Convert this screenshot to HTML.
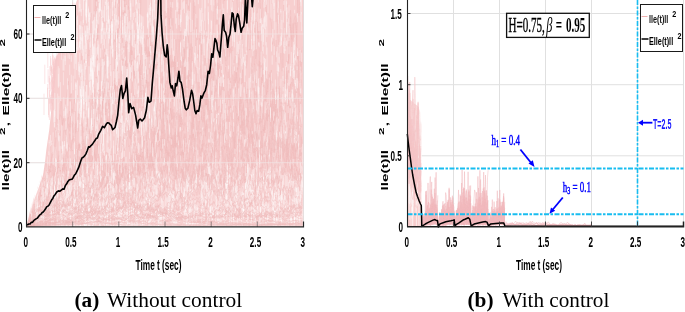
<!DOCTYPE html><html><head><meta charset="utf-8"><style>html,body{margin:0;padding:0;background:#fff;width:685px;height:312px;overflow:hidden}svg{display:block;will-change:transform}text{font-family:"Liberation Sans",sans-serif}.s{font-family:"Liberation Serif",serif}</style></head><body>
<svg width="685" height="312" viewBox="0 0 685 312">
<defs><clipPath id="clipR"><rect x="407.5" y="0" width="276" height="226.6"/></clipPath><clipPath id="clipL"><rect x="26.5" y="0" width="277" height="226.6"/></clipPath></defs>
<defs><linearGradient id="gL" x1="0" y1="0" x2="0" y2="227" gradientUnits="userSpaceOnUse"><stop offset="0" stop-color="#F7CFCF"/><stop offset="0.72" stop-color="#F7CFCF"/><stop offset="0.88" stop-color="#F9D7D7"/><stop offset="1" stop-color="#FBE0E0"/></linearGradient></defs>
<path d="M26.5,162.7H303.5M26.5,98.3H303.5M26.5,34.0H303.5M72.7,0V227M118.8,0V227M165.0,0V227M211.2,0V227M257.3,0V227M303.5,0V227" stroke="#DEDEDE" stroke-width="1" fill="none"/>
<g clip-path="url(#clipL)">
<defs><clipPath id="clipE"><polygon points="25.8,227.0 28.6,215.0 32.8,200.0 37.3,188.0 41.8,175.0 43.7,162.7 45.1,150.0 48.0,130.0 51.4,98.0 53.8,60.0 58.8,50.0 68.8,20.0 75.8,0.0 302.3,0.0 302.3,227.0 25.3,227.0"/></clipPath></defs>
<polygon points="27.0,227.0 29.8,215.0 34.0,200.0 38.5,188.0 43.0,175.0 44.9,162.7 46.3,150.0 49.2,130.0 52.6,98.0 55.0,60.0 60.0,50.0 70.0,20.0 77.0,0.0 303.5,0.0 303.5,226.0 27.0,226.0" fill="url(#gL)"/>
<path d="M65.2 32.4v16.4M70.2 7.2v11.9M71.0 5.8v6.6M62.0 43.4v7.5M57.0 42.5v8.0M64.8 22.3v21.2M55.1 57.7v21.6M64.2 4.7v10.6M71.3 14.4v10.9M53.2 81.6v15.3M53.8 63.9v14.8M74.5 6.3v9.3M53.4 68.0v11.0M54.5 58.6v10.8M51.4 79.4v9.9M54.7 57.4v20.0M53.5 72.9v21.7M70.0 11.8v18.1M68.3 15.2v6.6M51.7 66.8v15.2M52.5 87.5v17.1M53.5 59.4v13.3M47.7 84.0v13.6M54.5 66.4v17.2M44.8 64.7v19.2M65.2 28.5v16.7M72.6 2.3v8.7M72.6 11.7v18.3M71.0 12.9v12.3M53.1 87.1v13.2M52.5 54.9v19.1M52.7 86.4v12.6M56.9 35.9v21.3M70.7 15.1v9.7M65.9 23.3v15.4M67.9 26.3v12.7M61.4 36.9v21.2M53.0 69.0v15.9M54.4 67.6v20.4M49.7 78.0v18.8M61.9 39.2v7.7M54.7 63.4v7.1M68.9 20.9v11.4M75.2 5.3v8.4M71.0 10.1v6.4M51.4 87.4v8.4M66.4 25.2v11.8M62.9 12.3v21.9M59.2 46.6v7.4M71.2 10.2v10.2M53.2 82.9v6.4M51.3 95.1v8.3M57.8 54.3v14.4M48.6 97.9v17.1M66.0 26.1v8.7M52.4 77.2v18.5M64.7 33.0v19.0M48.7 98.5v18.9M50.9 81.8v9.6M58.0 51.8v6.5M74.1 2.8v10.1M48.1 69.3v13.2M44.0 93.7v21.3M63.6 36.5v9.6M69.0 19.7v16.0M49.4 90.0v13.7M51.5 65.3v7.4M49.8 66.1v18.5M52.8 75.0v8.9M53.0 78.9v18.8M51.6 97.2v12.4M50.2 94.7v8.7M71.7 12.7v20.5M53.4 80.7v19.2M50.5 98.0v11.6M57.2 54.9v6.2M50.6 97.1v14.4M51.8 93.4v19.9M53.1 82.6v10.0M65.8 29.3v15.4M65.7 25.9v8.1M52.2 91.0v13.3M50.9 58.3v12.7M51.6 91.8v14.5M58.8 52.4v13.0M70.6 18.3v18.8M67.9 17.2v17.6M56.3 55.6v14.3M53.7 55.5v7.7M56.3 56.0v10.4M52.5 77.2v15.0M49.1 76.0v13.1M53.5 61.3v14.2M53.2 69.3v14.5M52.7 47.8v17.2M47.6 87.7v10.2M50.5 56.0v19.4M71.5 13.7v13.1M72.9 7.3v7.2M51.5 66.9v20.4M65.3 15.4v16.6M61.2 14.3v21.5M55.5 22.0v12.4M47.8 48.7v19.3M68.6 16.1v14.2M64.5 33.9v11.1M54.2 72.2v14.9M61.9 44.0v11.3M53.4 62.4v7.0M49.4 98.5v21.5" stroke="#F6C8CA" stroke-width="0.7" opacity="0.7" fill="none"/>
<g clip-path="url(#clipE)"><path transform="scale(0.1)" d="M265 2270l12-9 12-11 12-9 12-11 12-15 12-8 12-23 12 10 12-6 12-7 12-12 12-22 12 13 12-18 12-6 12-15 12-65 12 25 12 24 12-19 12-17 12 2 12-14 12 18 12-11 12 2 12-9 12 0 12-2 12-30 12 19 12-11 12-9 12 25 12-24 12-45 12-28 12-12 12-70 12 65 12-91 12-64 12-18 12-1 12-39 12 37 12-72 12 1 12-39 12-145 12 147 12-54 12-107 12 125 12-36 12 71 12-145 12 113 12-170 12 82 12-96 12-104 12-69 12-128 12 148 12-38 12-54 12 4 12 65 12-75 12-15 12 76 12-406 12 189 12 54 12-213 12 231 12 39 12 195 12-20 12-584 12 58 12 220 12 81 12 280 12-295 12 320 12-242 12 185 12 76 12-112 12-120 12 156 12 65 12 168 12-232 12-61 12 111 12-33 12 148 12-3 12 12 12-135 12-118 12 251 12-127 12-175 12-129 12 181 12 144 12-68 12-90 12 220 12 113 12-3 12-68 12-7 12 44 12-228 12 62 12-9 12 45 12 96 12-185 12 42 12-44 12 55 12 39 12 64 12-41 12 195 12 43 12-83 12 52 12 28 12-35 12 88 12 49 12-116 12-38 12 62 12 53 12 40 12-127 12 67 12 67 12 18 12 81 12-3 12-149 12 154 12-9 12-120 12 16 12 63 12-25 12-13 12 10 12 53 12-96 12 49 12-78 12 43 12 37 12 10 12-24 12-49 12-16 12 79 12-92 12 95 12-100 12 74 12 29 12-22 12-42 12 94 12-49 12-14 12 40 12-99 12 102 12-71 12-37 12 132 12-46 12-49 12 24 12 1 12-6 12 47 12-118 12-29 12-4 12 12 12-3 12-42 12-38 12-17 12-26 12 76 12 52 12 49 12 75 12-146 12-178 12 37 12-93 12-64 12 86 12 104 12-160 12 86 12 48 12 109 12-4 12-76 12-24 12 58 12-9 12-24 12-110 12 207 12-74 12 124 12-65 12-27 12-37 12 27 12 47M265 2270l12-6 12-5 12-7 12-3 12-6 12-3 12-12 12-14 12 8 12-9 12-13 12-1 12-9 12-10 12-10 12-8 12 10 12-37 12 26 12 3 12-3 12-20 12 13 12-21 12 18 12-24 12-4 12-2 12-26 12 37 12-20 12-27 12-3 12 23 12-61 12-23 12-19 12 22 12-23 12 19 12-9 12 37 12-42 12 20 12-7 12-46 12 33 12 25 12-58 12-85 12 36 12-11 12 61 12 15 12-69 12 8 12 27 12-33 12 19 12 18 12 21 12 30 12 5 12-86 12 14 12-108 12 63 12-43 12 60 12 19 12-6 12-99 12 49 12-48 12-30 12 50 12 3 12-79 12 83 12-14 12-14 12 78 12-78 12 25 12-25 12-11 12 23 12 91 12-80 12 87 12-44 12-80 12 14 12 51 12 17 12-15 12-68 12 3 12 62 12-59 12 11 12 35 12 51 12-69 12-54 12-5 12-47 12-20 12-77 12 37 12 37 12-47 12 75 12-35 12-156 12 63 12-106 12 93 12-85 12-9 12 100 12-56 12 113 12-211 12-109 12 140 12-162 12 218 12-1 12-45 12 53 12 88 12-99 12-2 12-63 12-50 12-202 12 110 12 21 12-49 12 209 12-180 12-65 12-58 12 91 12-139 12 105 12-171 12 264 12-121 12-66 12-92 12 199 12-113 12-137 12 70 12 126 12-243 12 138 12 215 12-3 12-246 12 102 12 44 12-216 12 309 12-142 12 12 12 200 12-146 12 11 12 42 12 227 12-205 12-92 12-57 12 24 12-225 12 81 12 55 12-82 12-29 12 3 12-115 12 1 12 97 12-312 12 122 12-50 12 182 12 21 12-33 12 246 12 81 12-194 12 81 12 67 12-364 12 59 12 56 12-41 12 29 12 111 12 23 12 132 12-147 12 50 12-62 12-95 12 214 12-242 12 113 12-208 12-39 12 58 12-35 12 121 12 134 12-150 12 61 12 54 12-80 12 155 12-202 12-21 12-26 12 244 12 32 12-338 12 97M265 2270l12-10 12-7 12-7 12-11 12-11 12-3 12-6 12-20 12-33 12-26 12-5 12-13 12-50 12 38 12-3 12-6 12-51 12-42 12 11 12-28 12-54 12 53 12 11 12 24 12-49 12-12 12-46 12-3 12 2 12-6 12-16 12-1 12-39 12 64 12-12 12-7 12 108 12-108 12 82 12 3 12-1 12 14 12-67 12-10 12 46 12 24 12 20 12-20 12 13 12-55 12 31 12-10 12-37 12-73 12 114 12 46 12-60 12 5 12-61 12-21 12-8 12-4 12-27 12-69 12 104 12-37 12-76 12 63 12-157 12 158 12-10 12-136 12 15 12 71 12-128 12 168 12-68 12-81 12 14 12-39 12 121 12 40 12 64 12-23 12-24 12 5 12 12 12 51 12-102 12 59 12-74 12 74 12-155 12 68 12-55 12 14 12-7 12-125 12 6 12 48 12-124 12-99 12 104 12-22 12-175 12 43 12 5 12-175 12 234 12-89 12 9 12 40 12 78 12 81 12-156 12 127 12-84 12-62 12 60 12 85 12-60 12-94 12 117 12-81 12-298 12 151 12-56 12 33 12-87 12 108 12 12 12-259 12 6 12-117 12-158 12 166 12 88 12-130 12 186 12-226 12 206 12-277 12 7 12 148 12-92 12-453 12 284 12 201 12-9 12 171 12-224 12-319 12 68 12 106 12 105 12-388 12 152 12 352 12-169 12-351 12-193 12-182M265 2270l12-5 12-6 12-3 12-8 12-5 12-1 12 0 12 1 12-7 12-5 12-1 12 6 12-12 12-12 12 6 12-3 12 4 12-11 12-1 12 3 12-6 12-14 12-7 12 6 12-30 12 9 12-14 12 10 12-3 12-1 12-14 12 12 12-4 12 8 12-9 12-31 12 14 12-12 12 31 12-17 12 9 12 2 12-27 12-43 12-3 12-17 12 11 12-5 12 21 12-6 12 20 12-37 12 44 12-30 12 18 12-13 12-20 12-3 12 1 12-4 12 12 12 11 12-29 12 15 12-1 12-4 12-26 12 54 12-33 12 39 12 6 12-38 12 32 12-44 12 32 12-17 12 18 12-21 12-9 12 1 12 8 12 3 12-3 12 30 12 8 12-13 12 19 12-26 12-13 12 8 12-13 12 12 12-3 12 40 12-19 12 11 12 3 12-24 12 15 12 6 12-5 12-19 12 2 12-9 12 5 12 44 12-38 12 15 12-41 12 45 12-2 12 19 12-21 12 9 12-20 12 2 12 17 12 3 12 26 12-13 12 4 12-34 12 31 12 4 12-8 12 23 12-4 12 13 12 10 12-9 12 20 12 9 12 14 12-13 12-25 12 21 12 2 12-17 12 0 12-12 12-2 12-28 12 27 12 2 12-14 12-5 12 13 12-30 12 19 12 15 12-3 12-5 12-9 12 2 12-25 12 9 12 42 12-56 12-7 12 14 12-39 12 20 12-2 12 23 12 18 12-18 12 20 12-18 12-7 12-7 12-15 12 12 12-19 12-16 12 29 12 16 12 34 12-3 12-2 12-2 12 6 12 27 12-12 12 8 12-9 12 5 12 15 12-1 12 16 12-3 12 1 12 0 12 7 12 0 12-24 12-1 12 5 12 15 12-10 12-23 12 8 12 7 12 14 12-26 12-13 12 3 12 25 12-40 12 9 12-27 12 17 12-5 12 12 12-25 12 35 12-27 12 34 12-30 12-18 12-16 12-25 12 23 12-40 12 6 12-13 12 5 12 19 12 8 12-8 12-17M265 2270l12-7 12-7 12-4 12-13 12 2 12-8 12-8 12-3 12-9 12-2 12-17 12-9 12-7 12-17 12-3 12-11 12-11 12 26 12-18 12-17 12 8 12-12 12-7 12-48 12-8 12 16 12-17 12-4 12-17 12-20 12-2 12 8 12 30 12 0 12-29 12-10 12 1 12-6 12-43 12-1 12-34 12 12 12 35 12-115 12 3 12 48 12-91 12 3 12-20 12 82 12-39 12-53 12 67 12-5 12 57 12 28 12 4 12 27 12 37 12-43 12-4 12-26 12 10 12 2 12 16 12-36 12-38 12 21 12-83 12-2 12 14 12-13 12 75 12-11 12-122 12-23 12-39 12-55 12 20 12 25 12-113 12 101 12-57 12 49 12 23 12-57 12-100 12 91 12-57 12 26 12-124 12 115 12-44 12 54 12-235 12 128 12-20 12-154 12 121 12 24 12 25 12-35 12-13 12-16 12 188 12-44 12 112 12-118 12 33 12 21 12-19 12-94 12-7 12-50 12-123 12-28 12 230 12 0 12 115 12 33 12-55 12 100 12-119 12-4 12-192 12 132 12-39 12-274 12 19 12-20 12 77 12-80 12 46 12 46 12-79 12-40 12 43 12 195 12 15 12 21 12-7 12-24 12 68 12 41 12-150 12 55 12 33 12-318 12 109 12 97 12 136 12 109 12 30 12-20 12 124 12-106 12-62 12 149 12-21 12 121 12-39 12 55 12-12 12 86 12 44 12-72 12 39 12-18 12-6 12 10 12-64 12-9 12-48 12 34 12-48 12-50 12-111 12-9 12-49 12 53 12 8 12 24 12 73 12-162 12-229 12 267 12-61 12 149 12-90 12 6 12 65 12-157 12 67 12-53 12 12 12-231 12 241 12-263 12-74 12-10 12-118 12 108 12 126 12-29 12-279 12 37 12-22 12-166 12 109 12-92 12 102 12 42 12 20 12-338 12 125 12 37 12-110 12 445 12-191 12 70 12-169 12 16 12 61 12-38 12-89 12-52 12-22 12-90 12-189 12 0M265 2270l12-5 12-4 12-4 12-5 12-2 12-4 12-8 12-6 12 3 12-5 12 0 12-3 12-6 12-14 12-1 12 11 12 2 12-9 12-8 12 10 12-15 12 7 12-5 12-2 12 0 12-3 12-26 12 19 12 16 12 0 12-9 12 13 12-7 12 4 12-22 12 11 12 1 12-10 12-3 12-24 12 4 12-4 12 31 12-17 12-23 12-39 12 16 12-33 12 43 12-25 12-2 12-7 12 0 12 15 12 5 12-9 12-4 12 4 12 17 12 0 12-17 12-17 12 47 12-31 12 15 12-18 12-25 12-11 12 26 12-40 12 25 12 6 12-37 12 3 12 4 12-2 12-4 12-1 12-14 12 10 12 10 12 24 12 26 12-27 12 47 12-1 12 0 12-25 12-4 12 27 12 3 12-1 12-9 12 24 12 2 12-13 12 15 12-26 12 30 12-3 12 21 12-28 12-2 12 3 12-14 12 8 12-16 12 8 12-13 12 13 12-20 12 32 12 5 12-5 12 26 12-9 12 11 12 12 12-12 12 16 12 1 12-4 12-1 12 1 12 10 12 10 12-1 12-2 12-8 12 26 12-5 12 0 12 3 12 1 12 2 12-4 12 1 12 4 12-5 12 11 12-2 12-11 12 13 12-4 12 2 12 6 12-12 12 10 12-8 12 3 12-8 12 7 12 7 12 9 12 6 12-2 12 0 12 5 12-2 12-4 12 3 12 0 12-1 12 1 12-5 12 0 12 3 12-6 12 3 12 2 12-10 12 7 12-2 12 0 12 4 12 5 12-2 12-4 12-7 12 5 12 5 12 0 12-5 12 4 12-2 12-7 12-2 12-2 12-8 12 8 12-2 12-1 12 15 12-5 12-5 12-2 12 8 12-5 12 0 12 4 12-1 12 2 12-1 12 2 12 1 12 1 12-1 12 2 12 1 12-1 12 4 12 3 12 2 12-4 12 0 12 2 12-3 12 1 12 1 12 0 12-2 12 1 12-7 12-5 12-3 12 3 12-1 12-4 12 0 12-5M265 2270l12-2 12-1 12-2 12-3 12-1 12-2 12-1 12-3 12 0 12-4 12 1 12-6 12-2 12-3 12 3 12-4 12 0 12-4 12 5 12-7 12-6 12 3 12-1 12 2 12-4 12 2 12 7 12-8 12-9 12 4 12 0 12-8 12 2 12 7 12 0 12-2 12 4 12-8 12-4 12 4 12 2 12-4 12 2 12-4 12-5 12-15 12-1 12 10 12-6 12-2 12 0 12 3 12-4 12-4 12 6 12-5 12 8 12-2 12-2 12-5 12-9 12 3 12-11 12 3 12-6 12 0 12-1 12-10 12 20 12-17 12 12 12-10 12-23 12 4 12-11 12 22 12 10 12-14 12 2 12 0 12 22 12-33 12 34 12-20 12 23 12 1 12 1 12-3 12 6 12 3 12-15 12-21 12 31 12-6 12 0 12 11 12-4 12-6 12 8 12-26 12 1 12 15 12-24 12 30 12-4 12-9 12 9 12-1 12 17 12-7 12 2 12-5 12 13 12 5 12-5 12 1 12 17 12-4 12-2 12 0 12-3 12 2 12 4 12 0 12 0 12-1 12 13 12 2 12 5 12-5 12-3 12 4 12-2 12-5 12 4 12-6 12 7 12 1 12 0 12-8 12-1 12-6 12 3 12-2 12-1 12 4 12 2 12 0 12-13 12-5 12 7 12-7 12 5 12 2 12-4 12-4 12 1 12-4 12 3 12-5 12 12 12 2 12 3 12-17 12-19 12-4 12 16 12-26 12 11 12 0 12-17 12 19 12-9 12-6 12 17 12-7 12 11 12-8 12-3 12 15 12 4 12-15 12 4 12 5 12-2 12-2 12 28 12-6 12-4 12-9 12-15 12 21 12 11 12-11 12-14 12-4 12 10 12-10 12-5 12 4 12-17 12-11 12-18 12 0 12-11 12 14 12 6 12-12 12-4 12 8 12 15 12-11 12 21 12-23 12-49 12 9 12-17 12-2 12 8 12-31 12-10 12 52 12 38 12-19 12 14 12 8 12-10 12 5 12 19 12-4M265 2270l12-4 12-3 12-3 12-4 12-7 12-10 12-5 12-1 12-4 12-5 12-2 12-1 12-10 12 5 12-20 12-3 12-28 12 2 12 6 12-22 12-16 12-27 12 11 12-30 12-18 12 38 12-18 12 11 12 11 12 11 12-4 12-23 12-1 12-23 12-17 12-36 12-2 12-32 12 18 12-36 12-44 12-51 12 42 12-49 12 51 12-68 12 20 12 31 12 3 12 37 12-54 12-33 12 1 12-40 12 36 12-145 12 68 12-84 12-26 12-6 12-22 12-105 12 63 12-2 12 25 12 41 12 19 12 52 12 3 12-14 12-14 12 11 12 9 12-10 12 4 12-12 12 33 12-14 12 39 12-1 12-93 12 18 12 26 12 72 12-14 12 34 12 55 12-94 12 16 12-8 12-55 12 103 12-36 12 33 12 65 12-43 12-109 12 39 12-45 12-86 12 2 12-7 12-164 12-31 12 2 12 54 12 72 12-59 12-95 12-126 12 121 12 96 12-90 12-41 12-138 12 107 12-76 12 143 12-170 12-157 12 62 12 44 12-64 12 134 12-61 12-226 12 101 12-129 12-172 12-69 12-114 12 212 12-206 12-338 12 358 12-128 12 229 12-11 12-43 12-102 12-42 12-336 12 366 12-167 12 32 12-55 12 178 12 6 12-458 12 373 12 44 12-95 12 97 12 307 12-9 12 11 12-98 12-323 12 265 12-112 12-136 12 62 12-368 12 5 12-407M2365 -9l12 144 12-171 12 187 12 289 12 43 12-28 12 172 12 17 12-159 12-268 12 281 12-539 12-259 12 429 12-429M265 2270l12-1 12-1 12-2 12-2 12 0 12-1 12-3 12-3 12 0 12-2 12-1 12-4 12 0 12 0 12-5 12-6 12-5 12 2 12-3 12 5 12-1 12-4 12-10 12 0 12-9 12-8 12 18 12-21 12-10 12 0 12-9 12 6 12-9 12-5 12 5 12-8 12 11 12-8 12-19 12 15 12 19 12-23 12 15 12 5 12-5 12 2 12 13 12-28 12 1 12 21 12-21 12-5 12 4 12-12 12-5 12-4 12 12 12 13 12-7 12 14 12-5 12-6 12 2 12-12 12 8 12 9 12-8 12 17 12-2 12 11 12-25 12 11 12 3 12-8 12 4 12-14 12 7 12-4 12 7 12-23 12 19 12-11 12-19 12-15 12 23 12-30 12 2 12-1 12 5 12-17 12-10 12-5 12-42 12 16 12 68 12 6 12 4 12-8 12 8 12 4 12-3 12 20 12-13 12 2 12 2 12 11 12-10 12-17 12 31 12-6 12-13 12-15 12 2 12-11 12 3 12 2 12 10 12 6 12 11 12-19 12 7 12 1 12-1 12 13 12-12 12 5 12-25 12-1 12 16 12-19 12 13 12 8 12 12 12 16 12 5 12-4 12 4 12-2 12 4 12-2 12-9 12 7 12 21 12-27 12-17 12 13 12 15 12-2 12 8 12-24 12 9 12-14 12 20 12-21 12 13 12-20 12 13 12-10 12 5 12-7 12 6 12-4 12 16 12-15 12-5 12-4 12-18 12-23 12-20 12-4 12 10 12-32 12-6 12 4 12-1 12 7 12 32 12-35 12 2 12 10 12-48 12 15 12 12 12 29 12-8 12-23 12 18 12-18 12 22 12-3 12 11 12-24 12-1 12-22 12-3 12 27 12-29 12 3 12-19 12 1 12-13 12 8 12-37 12 50 12-20 12 24 12 14 12-3 12-12 12-6 12-28 12-79 12 31 12 40 12 8 12 24 12 25 12 9 12-66 12 31 12-8 12 24 12-4 12 4 12 6 12 12 12 2 12-35 12 26 12 15M265 2270l12-2 12-3 12-4 12-2 12-3 12-6 12 1 12-1 12 0 12-4 12-5 12 3 12 1 12-1 12-3 12-5 12-6 12-1 12-8 12 3 12 2 12 1 12-7 12 9 12-9 12 4 12 7 12 0 12 2 12-6 12 3 12-2 12 1 12-2 12-3 12 1 12-5 12-5 12-16 12-7 12-5 12-1 12-24 12-5 12 17 12-9 12 0 12-12 12 20 12 1 12 15 12-9 12-10 12 28 12-6 12-8 12-18 12 28 12-3 12 3 12 0 12-2 12 1 12 10 12 2 12 13 12-10 12 7 12-5 12 12 12 0 12-2 12 1 12-3 12-8 12 3 12 10 12 3 12-3 12-9 12 0 12-1 12 3 12 0 12 1 12 3 12-14 12-2 12 10 12 7 12-5 12 8 12 7 12-2 12-2 12 8 12 2 12-4 12 0 12 0 12-3 12 2 12-10 12 0 12 4 12 2 12 0 12-8 12 2 12-1 12 4 12-13 12-10 12 2 12 5 12-13 12 11 12-3 12-12 12 10 12 4 12-9 12 2 12-19 12 2 12-12 12 1 12 3 12 7 12 3 12-2 12 11 12-4 12 6 12 12 12 11 12 4 12-9 12 4 12 1 12 8 12-1 12-2 12 9 12-1 12 1 12-2 12 3 12-9 12 3 12-17 12 2 12 6 12-1 12 0 12 8 12-12 12 11 12-2 12 3 12 4 12-11 12 7 12-14 12-6 12 15 12-10 12 4 12-8 12 2 12-7 12 4 12-4 12-3 12-7 12 3 12-14 12 12 12-23 12-9 12 1 12 10 12-6 12 11 12 6 12 16 12 10 12-14 12 9 12-12 12 20 12 2 12 0 12 3 12-7 12 3 12 9 12-11 12 10 12-7 12-5 12 0 12 6 12 2 12-7 12 9 12-11 12 7 12-4 12 7 12 8 12-7 12-1 12 0 12 11 12 3 12-7 12 0 12 4 12-3 12 5 12-5 12 1 12-1 12-10 12 5 12-3 12 2 12-5 12 5M265 2270l12-41 12-41 12-45 12 5 12-23 12-2 12 13 12-13 12 0 12-22 12 0 12-19 12-3 12-8 12-1 12-9 12 29 12-17 12 23 12-42 12 3 12 3 12-17 12 6 12 5 12-2 12-5 12 19 12-2 12-7 12 20 12 24 12-46 12 14 12-19 12 7 12-24 12 0 12 36 12 22 12-11 12 9 12-5 12-22 12-16 12 1 12-10 12 13 12 22 12-29 12-11 12 27 12-43 12 72 12-9 12-39 12 20 12 8 12-26 12 1 12-30 12 11 12 46 12 27 12 31 12 9 12-15 12 8 12-2 12-23 12-4 12 1 12-22 12 7 12 9 12 16 12 13 12-36 12 44 12-16 12 5 12 3 12-16 12 32 12-23 12 39 12-7 12-1 12 18 12 2 12-20 12 17 12 12 12-9 12 14 12-6 12 3 12-4 12 4 12 3 12-6 12 17 12-20 12 9 12 16 12-11 12-5 12 0 12 2 12-6 12 12 12-2 12-5 12-2 12 6 12-8 12 8 12 12 12-3 12 6 12-9 12-13 12 17 12-7 12 1 12-8 12-4 12 6 12-20 12 8 12 5 12 4 12-1 12 0 12-11 12 11 12-6 12 6 12 7 12-6 12-7 12-10 12-9 12 9 12-5 12-13 12-15 12 6 12-15 12 18 12 5 12 11 12-24 12 24 12 6 12-20 12-4 12-4 12-16 12-20 12-1 12-29 12 23 12-20 12 43 12-11 12 29 12-44 12 21 12-35 12-9 12-39 12 37 12-9 12 15 12 36 12-37 12 52 12-39 12-4 12-5 12-27 12 37 12-3 12-27 12 9 12-39 12 24 12 25 12-71 12-83 12 32 12-27 12 37 12-26 12 19 12 62 12 5 12-60 12 41 12 15 12-28 12 29 12 43 12-27 12 15 12 53 12-20 12 1 12-6 12-23 12 28 12 16 12 22 12 15 12-36 12 9 12-26 12 21 12-38 12 1 12 7 12 27 12 8 12-49 12 3 12 24 12-14 12-52 12 8M265 2270l12-5 12-5 12-2 12-6 12-5 12-9 12-3 12-9 12-4 12 1 12-8 12-6 12-1 12-1 12-14 12-11 12 15 12-11 12-8 12-1 12 16 12-9 12 4 12 1 12-9 12-5 12 11 12-8 12 6 12 0 12-11 12-10 12 3 12 23 12 3 12-6 12-5 12 0 12-7 12-1 12 1 12-28 12-8 12-14 12 2 12-28 12-14 12-8 12 21 12-47 12-3 12-10 12 33 12-13 12 17 12 25 12-31 12-42 12 22 12-16 12-10 12-12 12-22 12 40 12-32 12-23 12 38 12-83 12 42 12 2 12 29 12-34 12-64 12 12 12-13 12-65 12 67 12-135 12-21 12 47 12 43 12-60 12-12 12 15 12-34 12-11 12 90 12-106 12 47 12 12 12-33 12-54 12 25 12-63 12 19 12 48 12 13 12 9 12-131 12 44 12 102 12-7 12 40 12-77 12-67 12 110 12-4 12-13 12 129 12 41 12 43 12-78 12 51 12 26 12-16 12-12 12 38 12 44 12-27 12-1 12 12 12 59 12 16 12-36 12 40 12 13 12 23 12-37 12-15 12 38 12-15 12 18 12-46 12-4 12 30 12-6 12-18 12 11 12 31 12 32 12-7 12 16 12-35 12 20 12 31 12-3 12 2 12-10 12 16 12 32 12-1 12 2 12-9 12-30 12 25 12 1 12 3 12 14 12-12 12-3 12 10 12 4 12 4 12-5 12-2 12 7 12 7 12-6 12 9 12 7 12-11 12-3 12-14 12 5 12 13 12 4 12 9 12 3 12-5 12-1 12-9 12 7 12-6 12 4 12-2 12-7 12 6 12-13 12 13 12-10 12 0 12-5 12-2 12 18 12-1 12-5 12-6 12 1 12 6 12 7 12-7 12 13 12 3 12-18 12 5 12 5 12-10 12 6 12 9 12-1 12 9 12 0 12-14 12 8 12-7 12-1 12 0 12 5 12-3 12-3 12 6 12-3 12-6 12-1 12 3 12 5 12 6 12 4 12-8 12-1M265 2270l12-7 12-7 12-7 12-4 12-3 12-17 12-11 12-6 12 5 12-23 12-3 12-12 12-7 12 11 12-2 12-15 12-1 12-17 12-22 12 1 12 8 12 11 12 3 12-2 12-35 12 16 12-5 12 28 12-3 12-41 12 8 12-7 12-17 12 12 12-2 12 29 12-25 12 26 12-2 12-6 12-25 12-18 12-12 12 7 12-9 12-9 12 5 12-28 12 19 12 14 12 12 12 6 12-23 12 29 12-20 12 0 12 51 12-35 12 37 12-6 12 2 12 2 12 0 12 18 12 23 12 10 12-42 12-2 12 2 12-14 12 6 12-15 12 8 12-16 12 8 12-1 12 25 12-21 12 10 12-1 12 21 12-32 12-5 12 0 12 3 12 23 12-3 12-17 12 16 12-31 12 41 12 8 12 10 12-18 12 5 12-2 12 16 12 1 12 1 12 10 12-10 12-6 12 19 12-54 12 3 12 8 12-5 12-7 12 12 12 1 12 7 12 17 12 9 12-29 12-23 12 12 12 26 12-18 12-2 12-5 12 25 12 8 12 10 12 17 12-14 12 5 12 3 12 0 12 15 12-29 12 17 12-8 12 8 12 6 12-33 12 16 12 5 12-3 12-14 12 22 12-22 12-8 12 13 12-3 12 8 12-22 12-19 12-24 12 22 12-36 12 18 12 29 12-3 12 9 12-5 12 11 12-31 12-8 12-3 12-18 12 21 12 6 12-6 12-13 12 8 12-1 12 13 12-35 12 4 12 4 12-16 12 45 12-4 12-45 12 52 12 9 12-7 12-33 12-8 12-25 12 32 12 1 12-35 12-27 12 34 12 3 12-34 12 15 12-35 12-19 12 28 12-6 12-50 12-53 12 4 12 78 12-10 12-7 12-4 12 7 12 3 12 8 12-14 12-19 12 44 12-15 12-2 12 1 12-28 12 63 12-48 12-42 12-10 12 53 12-18 12-3 12-43 12 55 12 60 12 15 12-18 12-1 12 15 12-12 12 10 12 15 12 40 12-8 12 12 12 3M265 2270l12-7 12-7 12-7 12-7 12-8 12-3 12-10 12 1 12-13 12-8 12 4 12-18 12-6 12-1 12-24 12 2 12-7 12-17 12-2 12 3 12-23 12-39 12-19 12 3 12-35 12 3 12-81 12 44 12-17 12-17 12-28 12-75 12-46 12 27 12 87 12 11 12-28 12 19 12 24 12 40 12-26 12 35 12-94 12 50 12-73 12 40 12 25 12-27 12-41 12 94 12-51 12 18 12-24 12 39 12-53 12 40 12 36 12-81 12-1 12 14 12-15 12 55 12-51 12-22 12 22 12-56 12-3 12 0 12-73 12 20 12-9 12 20 12 38 12 12 12-19 12-16 12-21 12 13 12-7 12 39 12-61 12-6 12 38 12-60 12 10 12-101 12 14 12-260 12 100 12 205 12-111 12-55 12 164 12-207 12 65 12-29 12-21 12 148 12-111 12-126 12 141 12 117 12-73 12-70 12-18 12-104 12-54 12-21 12-83 12 44 12 6 12-252 12 55 12 34 12-46 12-48 12 228 12-163 12 120 12-331 12 284 12-256 12-171 12 48 12-92 12 34 12 425 12-320 12 71 12 66 12 5 12-370 12 531 12-95 12-8 12-87 12 23 12 138 12 259 12-138 12 196 12-65 12-88 12 45 12-52 12-185 12 156 12-142 12-280 12 253 12-152 12 98 12 65 12-555 12 318 12-81 12-54 12 182 12-61 12-297 12 189 12-481 12-3 12-144 12 198 12 227 12-95 12-116 12 233 12-82 12-18 12 436 12-105 12 139 12-210 12 104 12-17 12-41 12 81 12-210 12 209 12 23 12 10 12 142 12-63 12-131 12-206 12 45 12-234 12 354 12-601 12 442 12 15 12 302 12-11 12 91 12-83 12-76 12-9 12 296 12 53 12-119 12 169 12-86 12-179 12 139 12-180 12-83 12 92 12-170 12-117 12-145 12 179 12-239 12 17 12-158 12-288 12 587 12-56 12-328 12 151 12 5 12-170 12-4 12 73 12-319 12 178 12-136 12 58 12 182M265 2270l12-24 12-30 12-13 12-24 12-18 12-30 12-32 12 23 12-31 12-10 12-15 12-41 12 7 12-42 12 9 12-58 12-29 12 11 12 22 12-16 12-33 12-105 12 51 12 8 12-120 12 8 12-84 12-162 12 74 12 14 12 14 12-40 12-187 12 52 12-181 12 75 12-81 12 8 12 180 12 32 12 51 12 101 12-156 12 2 12 35 12-27 12 225 12 49 12-25 12-25 12 103 12-45 12 32 12 70 12-13 12 9 12 35 12-5 12-63 12-61 12-10 12-29 12 3 12 91 12-71 12 16 12 169 12-48 12-9 12 78 12 23 12-27 12-13 12 20 12-19 12 29 12-46 12-2 12-25 12 36 12 48 12-30 12-58 12 78 12 49 12-7 12-98 12-5 12-2 12-28 12-80 12 16 12-32 12-3 12-94 12 85 12-148 12-41 12 79 12-49 12-28 12-54 12 68 12-46 12 94 12 22 12 134 12-14 12-29 12 9 12 116 12-43 12-122 12 118 12 83 12-91 12 61 12 45 12-5 12-33 12 4 12-34 12 64 12 3 12 45 12 14 12-13 12 47 12-66 12 49 12 31 12-19 12-11 12 16 12 44 12-1 12 28 12-47 12 43 12-57 12 32 12-27 12-13 12 13 12 42 12-4 12 17 12-46 12 64 12-6 12-9 12 33 12-15 12 26 12-9 12-30 12 3 12-4 12-33 12 22 12 24 12 19 12-5 12 8 12 0 12 23 12-38 12 20 12 19 12 14 12-3 12-12 12-5 12 22 12 14 12-12 12 21 12-13 12 30 12-7 12-2 12-3 12 14 12-12 12-6 12 12 12 3 12 2 12 7 12 1 12-7 12-4 12-10 12-2 12 15 12 9 12-12 12 1 12-1 12 6 12-1 12 4 12-6 12 8 12-15 12 4 12-6 12-22 12-4 12 3 12 6 12-4 12 5 12 2 12-11 12 3 12-9 12 10 12-6 12 1 12-12 12 33 12-24 12 6 12 4 12 12 12-1 12 2 12-6 12 2M265 2270l12-16 12-12 12-8 12-12 12-18 12-13 12-4 12-2 12-22 12-2 12-14 12-3 12-29 12 24 12 0 12-14 12 0 12-26 12-21 12 6 12-55 12-33 12-41 12 91 12-40 12-8 12-20 12-74 12 36 12 40 12-9 12-13 12-19 12-13 12-103 12-49 12 27 12-22 12 67 12-121 12 6 12-40 12-51 12 19 12-37 12-197 12 29 12-42 12 48 12 38 12-168 12 47 12 10 12-16 12-162 12-142 12-181 12 57 12-171 12 306 12-208 12-204 12 3 12-78 12-80 12-115 12-81 12-33 12-447 12 250 12-181 12 237 12 72 12-195 12 549 12-539 12-192 12 371 12-257M1261 -94l12 529 12-262 12-358 12 538 12 321 12 30 12 50 12-123 12 15 12 45 12 38 12 25 12-95 12-18 12 111 12-36 12-369 12 219 12-13 12-103 12 46 12-48 12 36 12-266 12 142 12 299 12-539 12 248 12 282 12 147 12 27 12 19 12 36 12-62 12-19 12 65 12 35 12-86 12-206 12 113 12-317 12-5 12 255 12-257 12 112 12 271 12-146 12-219 12 513 12-136 12-37 12 133 12-344 12-106 12 192 12-624 12 540 12 157 12 40 12 183 12-181 12-87 12 148 12-57 12 111 12 210 12-126 12 44 12-359 12-166 12 234 12 250 12-308 12 169 12-172 12 165 12-149 12 311 12-71 12-20 12-98 12 17 12-117 12 95 12 216 12-141 12 106 12-274 12-24 12 20 12 152 12-46 12-151 12 27 12-201 12 140 12 241 12-405 12-35 12-171 12-123 12-292 12 281 12-175M2545 -300l12 399 12 52 12 78 12 441 12-362 12 544 12-158 12 163 12-156 12 237 12-143 12 311 12-186 12 214 12 54 12 55 12-89 12 102 12-35 12 72 12 18 12-95 12 85 12 48 12 104 12-14 12 129 12 4 12 154 12-25 12-45 12 117 12-26 12-9 12 66 12-89 12 47 12-27 12 57 12-47M265 2270l12-38 12-35 12-78 12-21 12-43 12-76 12-80 12-5 12-14 12-72 12-17 12 74 12-42 12-47 12-53 12-100 12 38 12 46 12 0 12 9 12-89 12 49 12-68 12-143 12 39 12 116 12-68 12-142 12 179 12 48 12 21 12-148 12-22 12 98 12 50 12-146 12-10 12-53 12-67 12 7 12-133 12-6 12-53 12-48 12 67 12 18 12 112 12-4 12-65 12 21 12 92 12 128 12-47 12 31 12-2 12 104 12-88 12-208 12 112 12-221 12-40 12-10 12-87 12-91 12 81 12 220 12 5 12-93 12-133 12 201 12 105 12-154 12-81 12 151 12-220 12-11 12-92 12-29 12 10 12-12 12-311 12 366 12-512 12 156 12 128 12 217 12 69 12-209 12 154 12-63 12-164 12 97 12-21 12 48 12-252 12 209 12 7 12 202 12-141 12-102 12-203 12-69 12 77 12 51 12-16 12 57 12 263 12-177 12-38 12-146 12 44 12-12 12 26 12 190 12-308 12 445 12 65 12-76 12-22 12-109 12-201 12 192 12-234 12 201 12 189 12 40 12-43 12-138 12 244 12-144 12 65 12-118 12-3 12-50 12 86 12 188 12-53 12 201 12 4 12 62 12-280 12 172 12 28 12-288 12-74 12 214 12 11 12-172 12-5 12 139 12-313 12 104 12 136 12 100 12-190 12 187 12-151 12-38 12 230 12-32 12-222 12 306 12-124 12-184 12 52 12 71 12-38 12-225 12 82 12-316 12 29 12 77 12 39 12-67 12 82 12 253 12 46 12 305 12 77 12-122 12 156 12 31 12-40 12 42 12-44 12 86 12 73 12-59 12-7 12-275 12-132 12-101 12 55 12-244 12-122 12 153 12 36 12-160 12-26 12 206 12 57 12-146 12 92 12-29 12 261 12 174 12-66 12-82 12 30 12-33 12-208 12 7 12 80 12-61 12-59 12 40 12-271 12-177 12 376 12 19 12 101 12-81 12-402 12 95 12-240 12 498 12-250 12 143 12 4 12-241M265 2270l12-29 12-27 12-24 12-13 12-63 12 8 12-28 12-16 12-35 12-86 12 44 12-98 12-44 12-9 12 9 12-63 12-81 12-64 12-116 12-97 12-16 12 7 12-63 12-78 12 29 12 99 12-191 12-80 12 15 12 87 12-64 12 47 12 83 12-72 12-70 12-61 12 118 12 43 12-46 12 23 12 163 12 106 12-3 12-70 12 23 12-56 12 156 12-136 12 32 12-3 12 100 12-137 12 212 12-25 12 33 12 28 12-13 12 104 12-44 12-12 12 82 12-143 12 25 12-15 12 117 12-38 12-23 12-96 12 141 12 15 12-18 12 62 12-24 12 54 12-11 12-16 12 50 12 20 12 24 12-50 12-33 12-45 12 26 12-64 12-16 12 26 12-41 12-57 12 41 12-35 12-22 12 66 12-98 12 136 12-48 12-17 12 71 12-8 12-20 12 123 12-81 12-25 12-99 12 39 12-56 12-93 12-34 12 40 12 67 12-30 12 97 12 84 12-117 12-43 12-40 12 41 12 57 12 77 12-22 12-16 12-33 12 37 12 91 12-111 12 37 12 73 12 49 12-79 12 45 12-29 12 13 12 40 12-176 12 60 12 64 12-16 12 42 12-20 12-81 12-81 12 54 12-17 12 16 12-18 12 57 12 44 12-94 12 39 12-55 12 5 12 73 12 28 12-1 12 27 12-54 12 66 12 44 12-36 12-3 12-36 12 58 12-26 12 53 12 89 12-87 12-37 12 111 12-68 12 27 12-32 12-74 12 55 12 17 12 20 12 35 12-5 12-101 12 34 12 17 12-11 12-21 12-23 12 16 12-5 12 48 12-5 12 14 12-80 12 77 12-9 12 45 12-84 12 60 12-68 12-9 12 22 12-35 12-2 12-77 12 28 12-34 12-66 12 1 12-168 12-26 12 160 12-25 12 37 12-15 12 114 12-94 12 2 12 117 12 26 12-67 12-18 12-158 12-78 12 183 12 6 12-80 12-20 12 38 12 29 12-125 12 11 12 46 12 40 12-23 12-15M265 2270l12-23 12-26 12-55 12-19 12-48 12-28 12-38 12-35 12 9 12-31 12-53 12 38 12-15 12-57 12 25 12-45 12 40 12-60 12-30 12-28 12 41 12-21 12-73 12 140 12 4 12 20 12-48 12 8 12-44 12 65 12 11 12-45 12 78 12 11 12-26 12 7 12 43 12-27 12 58 12-41 12-88 12 56 12 16 12 28 12-112 12-3 12-27 12-25 12-38 12 10 12 86 12-102 12 32 12 136 12-98 12 116 12-12 12 22 12 52 12-11 12 6 12-86 12 42 12 38 12-24 12-60 12 69 12-60 12-15 12-13 12-60 12 6 12 9 12-81 12 75 12-130 12 122 12-239 12 67 12-24 12-62 12 94 12 49 12 26 12-34 12 21 12-138 12 54 12 57 12-3 12 10 12-70 12 82 12-53 12 72 12 23 12-79 12-7 12 29 12-47 12 33 12-42 12 25 12-74 12-116 12-170 12 94 12-205 12 151 12-87 12 21 12 18 12 29 12 244 12 68 12 12 12-13 12 172 12-111 12 74 12 13 12 7 12 121 12-157 12 11 12 7 12 3 12 23 12 60 12-116 12 57 12-25 12 26 12-96 12 88 12 47 12-24 12 3 12 59 12 14 12-45 12 101 12-73 12 61 12-77 12 73 12 6 12 33 12 8 12 20 12 7 12-38 12 37 12-55 12 38 12-95 12 43 12-3 12 33 12-61 12 8 12 26 12 8 12-12 12-97 12 72 12 10 12-39 12 24 12 49 12-37 12 13 12 9 12-30 12 33 12-37 12-49 12 15 12-84 12-46 12-84 12 163 12-14 12-121 12 42 12-103 12-36 12-153 12-11 12 37 12 31 12 11 12 88 12 61 12 56 12-43 12-3 12 84 12-49 12 22 12 80 12 35 12-114 12 104 12-27 12 19 12 81 12-50 12-18 12 46 12-2 12 38 12 13 12-59 12 92 12 42 12-84 12 14 12-45 12-19 12 25 12-88 12-48 12 36 12-3 12-41 12 11 12 40 12-83 12 27M265 2270l12-12 12-12 12-13 12-6 12-11 12-19 12-14 12-3 12-7 12 8 12-11 12-17 12-13 12 10 12-13 12-38 12 38 12-17 12 10 12-5 12 12 12-13 12-15 12-3 12 0 12-15 12 3 12-56 12 16 12 11 12-44 12-3 12-28 12 15 12 23 12 8 12-1 12-6 12 20 12-46 12-19 12-32 12 33 12-19 12-54 12 79 12-22 12 48 12 0 12-12 12 18 12 23 12-32 12 29 12-8 12-63 12 62 12-6 12 5 12-14 12-7 12-11 12-26 12 7 12-96 12 43 12 1 12 53 12-67 12 30 12-57 12-32 12-21 12-40 12 11 12-103 12 44 12-47 12 67 12-48 12 29 12 6 12-75 12 37 12 45 12 54 12-92 12-8 12 9 12-133 12 57 12 11 12-13 12-61 12-103 12 141 12-81 12 56 12-13 12-3 12-58 12-47 12 44 12-103 12 48 12-35 12-41 12-14 12-37 12 19 12 99 12 120 12-19 12-87 12-11 12 69 12-62 12 40 12 49 12 1 12-185 12 101 12-88 12 4 12-31 12 7 12-86 12-50 12-9 12-166 12-87 12 26 12-124 12-10 12-58 12-59 12 44 12-470 12 0 12-296 12 221 12 356 12-98 12 115 12-353 12 286 12-104 12 211 12-75 12 143 12-144 12 14 12 136 12-443 12 244 12-336 12-400 12 451 12-140 12 167 12 361 12 126 12-104 12-174 12 45 12 85 12-19 12-186 12-192 12 57 12 125 12 342 12 70 12-68 12-155 12-65 12 313 12-50 12 252 12-56 12 174 12-156 12 225 12-146 12 297 12-43 12-15 12 71 12-309 12-49 12 93 12 114 12 145 12-3 12-310 12 65 12 52 12-120 12-252 12 259 12 103 12 12 12-128 12-358 12 152 12 89 12 5 12 33 12 35 12 33 12-187 12 288 12 41 12-78 12-78 12 2 12-10 12 8 12-89 12-84 12-40 12 172 12 46 12 45 12-17 12-505 12 209 12 60 12-138 12-93M265 2270l12-4 12-3 12-2 12-5 12-3 12-1 12-4 12-3 12-2 12-3 12-10 12 9 12-3 12-1 12-3 12 2 12 1 12-4 12-6 12 8 12-5 12 4 12 3 12-8 12 0 12-6 12 0 12-4 12 3 12-4 12 9 12 5 12-3 12 1 12-4 12-8 12 9 12-9 12 5 12 3 12-6 12 1 12 1 12-5 12-2 12 2 12-6 12 2 12-14 12 4 12-6 12-6 12 1 12-8 12 0 12-13 12-15 12 24 12 1 12 8 12-15 12 10 12-4 12 8 12-8 12-9 12 17 12 8 12 4 12-11 12 2 12 17 12-12 12-5 12 0 12-7 12-8 12 13 12-7 12-3 12-7 12 7 12 3 12 0 12-5 12-4 12-20 12 16 12 11 12 7 12-18 12-9 12 5 12-11 12 32 12-9 12 7 12 15 12-14 12-2 12-6 12 2 12-16 12 2 12-1 12 0 12-2 12-10 12-20 12 2 12-32 12 1 12 26 12 6 12-12 12 18 12 21 12-4 12-1 12 11 12-27 12-5 12 2 12 7 12-14 12-5 12 17 12-16 12-13 12-9 12 44 12-28 12 3 12 12 12-18 12-5 12-10 12-15 12-49 12 23 12-3 12 6 12-5 12 22 12-30 12-9 12-9 12 37 12 22 12-8 12-54 12 16 12 21 12-30 12 17 12-42 12 21 12-46 12-6 12-5 12 54 12-6 12 25 12-13 12 2 12-3 12-34 12 3 12 37 12 15 12 10 12-11 12-1 12 5 12-18 12 14 12-61 12-18 12 23 12 15 12-37 12 59 12-13 12 19 12-29 12 22 12 13 12-46 12 32 12-23 12 44 12-2 12-59 12 2 12 13 12 1 12 2 12-17 12 12 12-9 12 30 12-63 12-16 12 1 12 29 12-56 12 42 12-19 12 18 12 4 12-80 12 38 12 19 12 14 12-20 12-27 12-6 12 8 12-43 12 10 12-1 12 13 12-32 12 2 12 12 12-62 12-99 12-29 12 205 12-128M265 2270l12-3 12-3 12-4 12-3 12-1 12-3 12-6 12 0 12-2 12-9 12-6 12-16 12 2 12-8 12 7 12-10 12-7 12 6 12-7 12-8 12-9 12-10 12 4 12-12 12 14 12 6 12-18 12 13 12-9 12-16 12-11 12 12 12-14 12-10 12 18 12-15 12 2 12-19 12-21 12 19 12-32 12-24 12 25 12-11 12-10 12-28 12-33 12 23 12-44 12-32 12-31 12 7 12-15 12-24 12-21 12 14 12-24 12-24 12-22 12 14 12-36 12-2 12 60 12-126 12-163 12-27 12-6 12 34 12 53 12 147 12-48 12-41 12-51 12 118 12 2 12-106 12 80 12-52 12 75 12 3 12-62 12 64 12-42 12 0 12 100 12 58 12 48 12 20 12 3 12 31 12 4 12-13 12-25 12 14 12-14 12 66 12-60 12-24 12-2 12-25 12-63 12 2 12-29 12-122 12-59 12 76 12 30 12-44 12-42 12-22 12-66 12-45 12 57 12 53 12 111 12-67 12 91 12-104 12 51 12-120 12 67 12-14 12 99 12 103 12-47 12-52 12-22 12 37 12-46 12 7 12 68 12-51 12 16 12 74 12-112 12 98 12 100 12-23 12 16 12-36 12-29 12-13 12 21 12 28 12-9 12 39 12 17 12-8 12-87 12 92 12-4 12-11 12 15 12 5 12-21 12-8 12-74 12 6 12 22 12 45 12-5 12-121 12 9 12-132 12 15 12 45 12 43 12-37 12-152 12 27 12 81 12-75 12-46 12-137 12-50 12 14 12-22 12-60 12-174 12 246 12-101 12-255 12-164 12 127 12 226 12-86 12-101 12 95 12-22 12-79 12-137 12-148 12 166 12-253 12 323 12-104 12-195 12 330 12 56 12-104 12-20 12-66 12-111 12 227 12-82 12 54 12 264 12-118 12-324 12 445 12-117 12-6 12 141 12-30 12-67 12-34 12-227 12 16 12 152 12-192 12-186 12 169 12 248 12-290 12-137 12 142 12 132 12 96 12-24 12 95M265 2270l12-2 12-2 12-2 12-2 12-3 12-2 12-2 12 1 12-5 12-3 12-6 12-1 12-2 12-5 12-2 12-2 12-1 12-6 12 2 12-2 12-2 12 3 12-5 12 1 12 6 12-8 12 3 12-5 12 3 12-4 12 2 12 10 12 4 12-11 12-7 12 6 12-8 12 4 12-10 12-8 12-22 12 7 12-18 12 16 12-6 12 0 12 1 12-19 12 27 12-18 12 3 12-20 12 10 12-20 12-6 12-27 12 23 12-5 12 21 12-44 12-12 12 20 12-20 12 12 12 1 12-6 12-21 12 42 12-8 12-7 12-39 12-9 12-10 12 4 12-46 12-12 12-9 12-51 12 29 12 18 12-17 12 32 12-84 12 9 12-87 12 137 12-6 12-53 12 13 12 16 12-54 12 3 12-21 12-27 12-11 12-57 12 17 12 48 12 80 12-9 12 15 12-38 12-2 12 21 12-9 12 23 12 37 12-80 12 14 12-1 12 37 12 17 12-38 12 11 12-54 12-9 12 25 12-67 12 44 12-36 12 21 12-36 12 2 12 71 12-204 12 31 12-74 12 7 12-47 12-71 12 36 12-156 12 33 12-168 12 13 12 96 12 88 12-61 12-67 12 39 12 45 12-170 12 89 12 102 12-123 12 205 12-100 12-132 12 23 12-115 12 99 12 109 12-55 12 241 12-88 12 30 12-184 12-44 12 54 12-26 12 0 12-86 12 63 12 48 12-106 12-167 12 68 12 7 12-64 12-280 12 101 12 94 12-77 12-54 12-334 12 157 12-123 12 129 12 64 12-451 12 43 12 219 12 104 12-65 12-275 12 159 12-318 12 172 12-125 12-25 12 384 12-69 12-474 12-62 12 91 12 120 12-259M265 2270l12-4 12-4 12-6 12-6 12 2 12-5 12-4 12-2 12-3 12-2 12 0 12 2 12-6 12-1 12 1 12 1 12-1 12 1 12-6 12-4 12-12 12 6 12-2 12-7 12 13 12 3 12-13 12 3 12-6 12-1 12 10 12-21 12 14 12 10 12-5 12 4 12-2 12 14 12-6 12-17 12 0 12-7 12 15 12-10 12-5 12 9 12-1 12 2 12 5 12-12 12 12 12 0 12-14 12-5 12-9 12 18 12-4 12-6 12-3 12-24 12 10 12 13 12-10 12 9 12-21 12 3 12-13 12 13 12 14 12-5 12-5 12 4 12-1 12 0 12 11 12-9 12 6 12-7 12-5 12-3 12 7 12-6 12 10 12 2 12-3 12 15 12-14 12-33 12 7 12 9 12-21 12-20 12-22 12 7 12 10 12 2 12-8 12-33 12 1 12-20 12-27 12 23 12 11 12-24 12 6 12 6 12 9 12 7 12-13 12 4 12-27 12 6 12 20 12-1 12 16 12-10 12-2 12-35 12-15 12 65 12-1 12 2 12-3 12 15 12 1 12 13 12-43 12 45 12 4 12-45 12 29 12-47 12 56 12 4 12 33 12-14 12 27 12 4 12 6 12 1 12-11 12-1 12-3 12-14 12-14 12 14 12 0 12 1 12-1 12 23 12-9 12-15 12-5 12-19 12-20 12 33 12-17 12 2 12 14 12 15 12 4 12-15 12-38 12 30 12 0 12 11 12 20 12 2 12 18 12-23 12 7 12 8 12 15 12-3 12 1 12 0 12-15 12-38 12 16 12-4 12-6 12-8 12 8 12 21 12-11 12 17 12 2 12 16 12 3 12-2 12-1 12 5 12-11 12-26 12 18 12 4 12-30 12 34 12-9 12 8 12-14 12-6 12 4 12 13 12 10 12-22 12 8 12-7 12 10 12 2 12 4 12 1 12-11 12 9 12 5 12-4 12-25 12-4 12 9 12 13 12 11 12 20 12-23 12-34 12 17 12-36 12-14 12 3 12 25 12-10M265 2270l12-31 12-33 12-7 12-40 12-46 12-11 12-27 12-8 12-35 12 26 12-50 12-49 12-7 12-35 12-112 12-15 12-3 12-89 12-43 12 23 12-104 12-27 12-62 12-97 12-203 12 14 12 93 12-185 12-94 12 247 12-167 12-4 12-91 12-98 12-88 12 200 12-73 12 191 12 9 12-155 12 298 12-52 12 85 12-105 12-100 12-429 12 180 12-62 12 176 12 165 12 325 12-116 12-199 12-30 12-65 12 16 12 131 12-68 12 102 12 24 12 46 12-170 12-36 12-101 12-107 12 38 12 230 12 56 12 146 12-69 12-57 12 17 12-225 12-189 12-54 12-234 12-22 12 236 12 130 12-31 12 142 12 75 12-2 12 124 12 39 12-16 12 224 12-168 12-68 12-131 12 80 12 9 12 157 12-24 12 82 12 62 12 83 12-122 12 0 12-20 12-115 12 8 12 50 12-79 12 23 12-121 12 2 12-47 12 168 12-30 12-21 12 63 12 43 12-148 12 191 12 27 12-224 12 61 12 113 12 85 12 87 12-22 12 26 12 164 12 38 12-54 12 104 12-7 12-90 12 62 12-79 12-69 12 96 12 73 12 16 12-52 12 51 12 98 12-72 12 1 12-79 12 76 12-109 12 73 12-140 12 91 12-29 12-118 12 150 12 18 12 59 12-78 12-35 12-32 12 87 12-16 12 57 12 40 12-5 12-12 12-10 12 52 12-49 12 63 12-82 12 55 12-93 12 58 12-133 12 98 12 13 12 1 12 21 12 117 12-50 12-53 12-24 12 15 12-43 12 17 12 25 12-153 12 122 12 108 12-6 12 44 12 6 12 22 12-7 12-47 12 20 12-97 12 36 12-54 12 22 12-52 12 39 12-107 12 100 12-5 12-4 12 83 12-3 12 2 12 5 12 42 12-57 12 50 12-26 12 45 12-12 12 35 12 11 12 10 12-45 12 27 12 0 12 65 12-125 12 61 12-15 12 50 12-97 12 80 12-33 12 39 12-25 12 40 12 11 12-95M265 2270l12-28 12-30 12-43 12-34 12-27 12-67 12 31 12-54 12-6 12-31 12-26 12-67 12-21 12-1 12 5 12-40 12-17 12-5 12-124 12 36 12-14 12 88 12-129 12-7 12-66 12 136 12-173 12 9 12 88 12 73 12-72 12-113 12 98 12-34 12-158 12 53 12 13 12-112 12-6 12-72 12-34 12 30 12-206 12-62 12 84 12-701 12 249 12 118 12-281 12 69 12-44 12 14 12-127 12-74 12-58 12-153 12 38 12-485 12 911 12-464 12-23 12 43 12-5 12 149 12-287 12-278M1093 -47l12 106 12 275 12 118 12-54 12 23 12-221 12-124 12-281 12 370 12-38 12 38 12-40 12 269 12 216 12 253 12-212 12-26 12-124 12 257 12-101 12 168 12-147 12 12 12 204 12-339 12 92 12-208 12 306 12 33 12-5 12 34 12-276 12-59 12-29 12-25 12 287 12-67 12 120 12-185 12 303 12 85 12-101 12 212 12-69 12-52 12-35 12 152 12-73 12 137 12 28 12-78 12 119 12-109 12 206 12 179 12-73 12-24 12-124 12-109 12 192 12 114 12 65 12-79 12 25 12 21 12-104 12 93 12 16 12 82 12 112 12 21 12-89 12 143 12 3 12-117 12 77 12-94 12-13 12-61 12-54 12 13 12 22 12-109 12 69 12 75 12-86 12 116 12-308 12 227 12-20 12 31 12 44 12-107 12 41 12 100 12 23 12 121 12-150 12-9 12 61 12 57 12-88 12 84 12-3 12-78 12 6 12 5 12-191 12 117 12-8 12 55 12-15 12 17 12-118 12 70 12-15 12 63 12-109 12-168 12 196 12-87 12 17 12-122 12 161 12 132 12-56 12-118 12 84 12-32 12 58 12 64 12-27 12-84 12-8 12 28 12-60 12 194 12-191 12 50 12-68 12-59 12-157 12-44 12 64 12-164 12 104 12 46 12 166 12-72 12-66 12 86 12 112 12-25 12 134 12-93 12-21 12 12 12-362 12 129 12 110 12 96M265 2270l12-10 12-7 12-8 12-6 12-12 12-5 12-14 12-12 12 9 12-29 12 2 12-5 12 3 12-4 12 3 12-5 12-25 12-1 12 17 12-8 12-17 12-19 12 32 12 0 12-3 12-35 12 32 12-4 12-3 12 9 12 12 12-29 12 1 12 10 12-14 12 13 12-1 12 3 12-24 12-10 12 23 12-13 12 16 12-1 12 25 12-12 12 15 12-4 12-8 12-15 12 1 12 37 12-5 12-4 12-13 12 1 12 6 12-1 12-15 12 1 12-10 12 12 12-39 12-24 12 29 12-51 12 51 12-49 12 29 12-43 12-1 12-48 12-43 12 4 12 15 12 21 12-71 12 77 12 3 12-68 12 73 12-10 12-33 12 14 12 24 12 10 12 12 12-15 12 36 12 12 12-55 12 46 12-5 12 15 12 0 12-17 12 20 12-64 12 14 12 20 12 5 12-2 12 30 12-24 12 7 12-24 12-13 12-41 12-9 12 17 12-27 12-41 12 68 12-32 12-7 12-13 12 42 12-5 12 34 12 8 12-34 12 22 12-9 12-7 12-78 12-81 12 100 12-8 12 6 12-17 12-19 12-50 12-5 12 11 12 67 12-78 12-38 12 46 12 1 12-59 12-4 12 98 12-6 12-15 12 53 12 2 12 21 12-78 12 87 12-99 12 68 12-29 12-52 12 16 12-50 12 12 12-8 12 39 12-10 12-31 12-59 12 100 12-14 12-26 12-91 12 83 12-169 12 41 12-75 12 88 12-22 12-50 12-57 12 131 12-56 12-15 12-117 12 108 12-217 12 205 12-62 12 29 12-88 12-62 12-9 12-12 12-18 12 32 12 151 12 23 12-46 12-6 12 54 12-19 12-128 12 44 12-164 12 17 12-68 12-107 12 147 12 237 12-204 12-281 12 366 12-183 12-88 12-134 12 173 12-118 12 64 12-10 12-87 12 40 12 82 12-35 12 166 12-35 12-199 12 192 12 16 12-92 12-87 12-24 12-83 12-312 12 411 12-142 12-143 12-30M265 2270l12-26 12-27 12-22 12-33 12 3 12-28 12-5 12-40 12 27 12-49 12 48 12-22 12-43 12-36 12 64 12-29 12-20 12-67 12-42 12 9 12 52 12-11 12-68 12-66 12 105 12-28 12 68 12-14 12-38 12 23 12-14 12-23 12 25 12-26 12 21 12-1 12-66 12-16 12-17 12-34 12-6 12-39 12 15 12-134 12 82 12-36 12-99 12 107 12 2 12-40 12 1 12 77 12-71 12 4 12-96 12-20 12-23 12-126 12 64 12-209 12 34 12-61 12-222 12 77 12-38 12 70 12-240 12 183 12-85 12-5 12 312 12-114 12-135 12-123 12-612 12 233 12-330 12-226 12 89 12 450 12-372 12-255M1345 -246l12 356 12-78 12 253 12-585 12 443 12-398M1561 -250l12 453 12-153 12-60M265 2270l12-9 12-10 12-7 12-9 12-8 12-7 12-7 12 4 12-28 12-11 12-5 12-20 12 4 12-6 12-18 12-29 12 5 12-26 12 2 12-38 12-12 12-19 12-69 12 43 12-82 12 43 12-98 12 75 12-124 12 28 12-49 12 34 12-4 12-44 12 11 12-46 12 22 12-21 12-31 12-39 12-48 12 24 12-118 12-98 12 185 12-91 12-46 12 34 12-18 12-307 12 167 12-7 12 62 12 30 12-22 12 21 12 122 12 44 12 37 12-119 12-71 12-99 12 142 12-16 12-80 12-111 12 43 12 16 12-129 12-191 12 21 12 178 12 73 12-545 12-60 12 431 12-384 12 144 12-66 12-226 12 84 12-22 12-47 12 112 12 70 12-104 12-244 12-149 12 173 12-81 12 60 12-322 12 68 12 353 12-236 12-42 12 118 12 225 12-133 12 365 12-209 12 115 12-182 12-237 12 91 12 160 12-324 12 138 12 46 12 57 12-197 12 88 12 302 12-114 12 82 12-59 12 142 12-7 12-131 12 77 12-641 12-73M2149 -300l12 385 12-56 12 256 12 211 12-382 12 171 12 87 12 158 12 126 12 3 12-397 12 264 12-435 12 281 12-363 12-8 12-140M265 2270l12-40 12-53 12-75 12-67 12-96 12-85 12 10 12-178 12-83 12 1 12 114 12 23 12 47 12 1 12-1 12-27 12-22 12-96 12 81 12-8 12-179 12-15 12 11 12-68 12-137 12-78 12 113 12-56 12 154 12-6 12-149 12-2 12 45 12-168 12-3 12 94 12-87 12-96 12 237 12-52 12 57 12-61 12-162 12 94 12-501 12 26 12-29 12 62 12 17 12-126 12-33 12-174 12-36 12-278 12 177 12 139 12-327 12-123 12 414 12-538 12 216 12-25 12-194M1177 -259l12 294 12-172M1237 -68l12 400 12 15 12 453 12-15 12 25 12-24 12-279 12 65 12 31 12-103 12 4 12 76 12 122 12 292 12 44 12-16 12 3 12-65 12 20 12-131 12-290 12-175 12-287 12-397M1549 -271l12 374 12-94 12 558 12-483 12-384M1633 -86l12 128 12 420 12-446 12-211 12 443 12-97 12-408M1789 -183l12 465 12-582M1849 -261l12 561 12-600 12 393 12-358M2761 -67l12 261 12 338 12-356 12-40 12 261 12 246 12 82 12 163 12-173 12 79 12-642 12-48 12 366 12-136 12-135 12-42 12 310 12-395 12-253 12 321 12-440M265 2270l12-24 12-41 12-20 12-34 12-23 12-40 12-20 12-61 12 27 12-36 12-10 12 46 12-66 12-42 12-20 12-56 12-11 12-59 12-86 12 107 12-44 12-79 12 70 12-63 12-26 12-49 12 131 12-105 12 101 12-59 12 43 12-74 12-93 12-39 12-6 12-173 12 141 12 31 12-6 12 73 12 32 12 87 12-88 12 29 12 7 12 28 12-138 12 114 12 76 12-3 12-38 12-66 12-1 12-64 12 50 12-17 12-51 12 72 12-212 12 206 12 53 12 126 12-113 12-111 12 77 12 46 12 40 12-72 12 63 12-27 12 36 12-12 12-69 12-15 12-9 12-59 12-35 12-153 12 6 12 58 12-8 12-28 12-164 12-38 12 102 12 95 12-123 12 56 12 86 12-243 12-191 12 156 12-95 12-106 12-16 12 3 12-161 12 217 12-114 12-34 12 75 12-252 12-163 12 40 12-134 12-285 12 98 12 313 12 62 12 82 12-149 12-142 12 61 12 368 12-240 12-107 12 389 12-460 12-197 12 174 12 322 12-82 12 61 12 107 12 65 12-80 12-53 12-446 12 263 12 90 12-248 12 229 12 217 12-143 12-70 12-554 12-333M2173 -300l12 393 12-164M2233 -280l12 290 12-170M265 2270l12-2 12-1 12-1 12-5 12-2 12-1 12-4 12-1 12-1 12-1 12 0 12-2 12-1 12-1 12-2 12-7 12 10 12-2 12-4 12 1 12-3 12 1 12-8 12 6 12-6 12 0 12 1 12 3 12-2 12-6 12-7 12-4 12 2 12-2 12-5 12 6 12-2 12-4 12-3 12 9 12-12 12 13 12-8 12 4 12-7 12 14 12-1 12-10 12 4 12-7 12-2 12-6 12 12 12-2 12 4 12 5 12-5 12 11 12-3 12-10 12 5 12-3 12-6 12-6 12-17 12 18 12-12 12 7 12 4 12 8 12 0 12 5 12-10 12 0 12-4 12 11 12 2 12-12 12-1 12 1 12-2 12-5 12-10 12-17 12-1 12 5 12-18 12 4 12-7 12-19 12-2 12 18 12-7 12-4 12 2 12-29 12 24 12-16 12-38 12 28 12-19 12-2 12-27 12-27 12 12 12-33 12 11 12-15 12-6 12 4 12-52 12-17 12-30 12-80 12 19 12 38 12-21 12 39 12-29 12 41 12 19 12-62 12 35 12-7 12 37 12-20 12-9 12 79 12-174 12 19 12 76 12 7 12 10 12-56 12-47 12-23 12-48 12 23 12-35 12-33 12 90 12-105 12-15 12-13 12 57 12-18 12-98 12-3 12-52 12 102 12-73 12 4 12 112 12-26 12 33 12-122 12-124 12-143 12 82 12 59 12-127 12 85 12 116 12-99 12-204 12 149 12 139 12-46 12 46 12-84 12-11 12-76 12-78 12 314 12 18 12 143 12-31 12-140 12 11 12-77 12 137 12-27 12-119 12 20 12-59 12-55 12-138 12-144 12-341 12 182 12 238 12 296 12-138 12 68 12 63 12-12 12 123 12 52 12-34 12 20 12 87 12-37 12 68 12-59 12-277 12 131 12 18 12-121 12-57 12 114 12 129 12-214 12 12 12 138 12 74 12 41 12-182 12 95 12 10 12-7 12 109 12 72 12 52 12-11 12 44 12 10 12-18 12 32 12 37 12-56M265 2270l12-1 12-2 12-2 12-1 12-1 12-3 12 0 12-3 12 1 12-4 12 1 12-1 12-2 12-3 12 2 12 3 12-4 12 0 12-6 12 1 12 5 12-5 12 0 12-1 12 2 12 1 12-1 12-3 12 4 12 1 12-4 12 1 12-2 12-1 12 7 12-5 12 1 12 1 12-3 12 1 12 3 12 0 12-1 12-2 12-3 12 6 12-6 12 5 12 2 12 3 12-2 12 1 12-1 12 0 12-1 12 1 12-3 12 1 12-2 12 2 12-1 12-3 12 3 12 3 12-3 12-2 12-1 12 1 12-3 12 3 12-7 12 1 12-4 12 2 12 0 12-2 12 2 12-9 12 10 12-4 12-1 12-8 12 7 12-3 12 0 12-11 12 5 12-9 12 7 12 2 12 5 12-8 12 7 12-15 12 10 12 6 12-4 12-4 12-6 12 11 12-10 12-1 12 9 12-8 12-10 12 10 12-6 12 8 12-2 12 13 12-5 12-3 12 11 12-7 12-6 12 1 12-7 12 2 12 8 12 2 12 1 12 2 12 4 12-3 12-2 12 1 12-3 12 4 12-7 12 9 12-2 12-11 12 6 12-7 12 0 12-10 12-1 12 5 12 3 12 6 12 0 12-5 12-1 12 6 12-8 12-3 12 7 12 2 12-9 12 7 12 3 12 3 12-6 12 1 12-6 12-8 12 8 12-10 12 9 12-13 12-8 12 3 12-21 12-23 12 11 12-15 12 4 12-20 12 8 12 4 12 0 12 0 12-12 12 14 12 4 12-1 12 12 12-14 12 14 12-4 12-11 12 10 12-20 12-2 12-7 12 5 12 29 12-8 12 5 12 6 12-7 12-12 12 19 12-4 12-3 12-26 12 19 12-3 12-12 12 3 12 16 12 12 12-2 12-5 12 4 12-39 12 9 12 9 12 6 12-13 12-33 12-27 12 13 12 7 12 32 12-46 12 28 12-12 12 0 12-7 12 19 12-28 12-36 12 35 12 16 12-27 12-8 12 29 12-7 12 32M265 2270l12-28 12-30 12-24 12-32 12-13 12-35 12-20 12-45 12 15 12-45 12-38 12-76 12 30 12-39 12 82 12-31 12-38 12-68 12 12 12-17 12-22 12-39 12-29 12-48 12-1 12-16 12-9 12 29 12 96 12-222 12 39 12 109 12 55 12-134 12 37 12 46 12 55 12-29 12 36 12-51 12 5 12 26 12-111 12-78 12 112 12-46 12-102 12-38 12-17 12-156 12 137 12-151 12 184 12-164 12 27 12 53 12-36 12-112 12-7 12-7 12-3 12 78 12-277 12-344 12-139 12 112 12 37 12 41 12-186 12-288 12 228 12 13 12 192 12-205 12 108 12-274 12-277 12 378 12 93 12 7 12-3 12-502 12 239 12 44 12-438 12 182 12-232M2377 -61l12 225 12-104 12-163 12 405 12-482M2461 -97l12 339 12-542M2509 -14l12 83 12-193M2629 -300l12 466 12-301M265 2270l12-18 12-14 12-23 12-14 12-24 12-19 12-1 12-23 12-19 12 4 12-56 12-16 12-69 12-3 12-5 12-35 12 40 12-25 12-29 12-62 12 0 12 31 12-30 12-27 12 48 12-11 12 12 12-27 12-13 12-5 12 55 12-30 12 4 12 27 12-59 12-58 12-20 12 33 12 30 12 2 12 56 12-8 12-176 12-13 12-38 12 68 12-12 12-51 12-11 12 51 12-24 12-86 12-77 12-28 12 49 12 89 12 82 12 14 12-30 12 17 12-28 12-89 12 67 12-47 12 151 12 20 12 14 12 5 12-57 12-54 12-66 12 8 12-80 12 66 12 2 12 3 12-6 12 35 12-43 12 108 12 61 12 25 12 11 12 9 12-38 12 117 12-47 12-57 12-83 12 58 12-5 12-209 12 12 12 74 12 13 12-83 12 21 12-164 12-21 12 4 12 54 12-98 12-171 12 29 12 37 12-23 12-233 12 131 12-40 12-172 12-57 12 316 12-168 12 29 12 227 12-177 12-18 12-193 12 302 12 94 12 148 12 62 12-132 12 105 12-271 12 122 12 60 12 3 12 195 12-58 12 13 12-168 12 75 12-34 12-100 12 20 12 74 12-1 12-210 12 91 12-59 12-139 12 268 12-112 12-43 12-18 12-111 12 111 12-15 12-258 12 229 12-101 12-35 12-80 12 65 12 87 12-128 12-139 12 20 12 246 12 10 12 48 12-225 12 109 12 93 12 294 12-243 12 79 12-268 12 146 12 104 12 1 12-262 12 124 12 94 12-17 12 71 12-239 12 302 12-173 12-51 12 286 12-144 12 9 12 169 12 59 12-128 12 114 12 13 12-7 12 146 12 22 12-152 12-65 12 184 12-17 12 27 12-139 12 149 12 53 12 35 12 0 12 25 12 38 12-9 12 94 12 11 12 9 12-69 12 77 12-37 12 15 12-26 12-10 12-73 12 18 12-2 12-54 12-76 12 115 12 85 12 13 12 4 12-63 12-53 12 17 12 36 12-58 12-30 12 12M265 2270l12-27 12-22 12-11 12-22 12-13 12-37 12-33 12-2 12-15 12-35 12-24 12-13 12 23 12 12 12-29 12-63 12-15 12-49 12 14 12 1 12-59 12 44 12-16 12-9 12-42 12-23 12-70 12-63 12 131 12-127 12 66 12-44 12-29 12 76 12 45 12 51 12-52 12-31 12 53 12-55 12 66 12-51 12 24 12 8 12 0 12-9 12-32 12-29 12 58 12-7 12 33 12 94 12-4 12 17 12 64 12 0 12-18 12-57 12 55 12-2 12-44 12 20 12-2 12 76 12 8 12-11 12-17 12 14 12 32 12-69 12 33 12 26 12 5 12 33 12-32 12-45 12-19 12-9 12-18 12-51 12 28 12-48 12-21 12 37 12-41 12-30 12-42 12-68 12 29 12-28 12-101 12-26 12 116 12-55 12 1 12 24 12 26 12-28 12-13 12 35 12-27 12-56 12-32 12-78 12 154 12-123 12-142 12-74 12 58 12 98 12-59 12-30 12 133 12-225 12-266 12 159 12 162 12 82 12-49 12-47 12 102 12 168 12-91 12 76 12-26 12-17 12-16 12 92 12 5 12-108 12 66 12-48 12 160 12-98 12 38 12-52 12 5 12 46 12-148 12 35 12-200 12 10 12 129 12 25 12 51 12-46 12 2 12 16 12 90 12-87 12 57 12 49 12 75 12-84 12-42 12 60 12-90 12-53 12 40 12 89 12-264 12 72 12-83 12-2 12 157 12-27 12 6 12-70 12 37 12-45 12-12 12-9 12-97 12-214 12 21 12 39 12 105 12-54 12 55 12-15 12 132 12-10 12-103 12 69 12-96 12 79 12 28 12-70 12 138 12 148 12-50 12-1 12 107 12-87 12 101 12 14 12 59 12-2 12-111 12 29 12-34 12 82 12-90 12-61 12 86 12 24 12 48 12-43 12-10 12-35 12 89 12-164 12-4 12 42 12-64 12-177 12 227 12-18 12 61 12 116 12-244 12 91 12-76 12 89 12-140 12 105 12-36 12 32 12-105 12 160M265 2270l12-3 12-3 12-4 12 0 12-4 12-3 12-1 12-3 12-2 12-1 12-1 12-2 12-3 12-1 12-3 12 4 12-4 12-7 12-4 12 8 12-8 12-1 12-15 12-20 12 15 12-12 12 4 12-16 12 11 12 4 12 4 12 0 12-10 12-6 12 10 12 9 12 2 12-10 12-22 12-17 12 10 12 16 12-36 12-11 12 5 12-15 12-2 12 23 12-2 12-28 12-7 12-4 12-8 12 7 12 18 12-9 12-9 12-16 12-30 12-15 12 34 12-7 12-13 12-4 12 38 12-3 12-34 12 28 12-22 12-19 12-5 12 10 12 36 12-7 12-32 12-31 12 28 12-18 12 19 12-51 12 62 12-26 12 5 12 25 12-15 12 23 12 4 12 46 12-40 12-2 12 5 12 1 12-24 12 22 12 2 12 17 12 8 12-45 12 42 12-4 12-23 12-10 12 12 12-8 12 41 12 0 12-14 12 31 12-6 12 4 12 0 12-40 12 17 12 11 12-16 12 44 12-49 12-4 12 32 12-22 12 5 12 13 12 11 12-8 12-37 12 20 12-26 12 14 12 0 12-16 12-5 12 47 12-14 12-7 12-34 12 22 12 28 12-3 12 3 12-3 12-2 12 11 12-17 12-8 12 34 12 26 12-17 12 16 12-2 12 10 12 6 12-15 12 2 12 26 12-11 12-5 12 0 12 4 12-18 12 17 12-10 12 6 12 9 12 6 12-6 12-10 12-14 12 6 12-9 12-30 12 25 12 19 12 6 12 11 12-10 12 0 12-10 12 1 12 24 12-43 12 41 12-12 12-2 12 8 12 0 12 10 12 3 12-23 12 19 12-5 12-8 12 11 12-23 12 12 12 2 12-4 12 1 12-3 12-33 12 24 12 14 12 11 12 4 12-1 12-3 12 7 12 1 12-20 12-8 12 21 12-13 12 18 12 5 12 6 12-6 12 0 12-2 12-8 12 13 12-16 12 2 12 11 12 12 12 1 12 5 12-5 12 1 12-3 12 12 12-9M265 2270l12-18 12-20 12-22 12-10 12-8 12-5 12-9 12-31 12-42 12 2 12-28 12-15 12-59 12 2 12 12 12-31 12 22 12-19 12 0 12-7 12-25 12 40 12-118 12 24 12-51 12-43 12-41 12-34 12-83 12-107 12 136 12-103 12 128 12 4 12-91 12-71 12 71 12 40 12-62 12-15 12-6 12 61 12-45 12-162 12 36 12-51 12-173 12-35 12-66 12 30 12 102 12-267 12 22 12 166 12-127 12-125 12 149 12-320 12 37 12 23 12 89 12-29 12 140 12 58 12-23 12 118 12-296 12-75 12 170 12 18 12-48 12 61 12-95 12-81 12 143 12-112 12-52 12 81 12 220 12-499 12 115 12-99 12 175 12-232 12-520 12 167 12 125 12 346 12 38 12 100 12 41 12-87 12 108 12-230 12 68 12 247 12-191 12-408 12 36 12 119 12-192 12 57 12 454 12-218 12 23 12 95 12 15 12 87 12-315 12 151 12-24 12 159 12-49 12 162 12 23 12-73 12 84 12-218 12-20 12 76 12 129 12 75 12-128 12-272 12 178 12-159 12 148 12-50 12-230 12-16 12 426 12-179 12 228 12-99 12 157 12-15 12-123 12 89 12 308 12-125 12-43 12 30 12 10 12 42 12-72 12-211 12 30 12-175 12-18 12 164 12 164 12-219 12-80 12 71 12 246 12-399 12 55 12 0 12-101 12 49 12 238 12 9 12-111 12 76 12-12 12 144 12 5 12-56 12 223 12-159 12 51 12 195 12 63 12 157 12 9 12-31 12-109 12 58 12-88 12 192 12 0 12-108 12 40 12-1 12 133 12-95 12 0 12 149 12-34 12-133 12 93 12-40 12 4 12-92 12 4 12 1 12-4 12-218 12 137 12-23 12-46 12 127 12-69 12-19 12 144 12-221 12 131 12 4 12 37 12-24 12-61 12 140 12 65 12-42 12-7 12 6 12 158 12 27 12-23 12-58 12 75 12-191 12-72 12 140 12-89 12 40 12 21 12-13 12-20 12 20M265 2270l12-47 12-35 12-42 12 8 12-14 12-2 12-3 12-19 12 7 12-6 12-5 12-23 12-21 12-7 12 10 12-9 12 7 12-30 12-11 12-12 12 68 12-4 12 15 12-65 12 2 12 36 12 3 12 3 12 5 12 26 12-9 12-3 12-29 12 33 12 15 12-15 12 40 12-6 12-4 12-39 12 17 12 30 12-22 12-20 12 31 12-10 12 25 12-29 12 18 12 4 12-10 12-9 12 14 12-36 12 39 12 26 12-7 12 10 12 1 12 9 12 4 12-8 12-5 12 32 12-9 12-6 12 10 12-11 12-16 12-1 12 23 12 8 12-4 12 3 12 4 12 7 12-11 12-15 12 20 12 4 12 3 12 7 12-5 12-15 12 21 12 2 12-1 12-1 12-4 12 4 12 1 12-7 12-2 12 9 12-27 12 15 12 8 12-11 12 1 12 5 12 3 12-4 12 10 12-7 12-7 12 8 12 3 12-17 12 26 12-17 12 11 12 1 12 4 12-17 12 10 12-4 12 14 12-16 12 4 12-6 12 7 12-15 12 23 12-11 12-7 12 4 12 2 12 0 12-2 12-5 12 12 12 9 12-11 12 6 12 4 12-2 12-2 12-15 12 7 12 4 12-6 12 5 12-4 12 4 12-7 12-1 12-2 12-4 12 4 12-4 12-10 12 21 12 0 12-19 12-23 12 24 12-23 12 5 12-2 12-9 12 17 12-4 12-3 12 5 12 5 12-3 12 2 12-16 12 20 12-12 12-11 12 10 12-21 12-1 12-22 12 43 12-19 12 1 12-1 12 21 12-11 12 1 12 16 12-30 12 4 12 22 12-40 12 13 12 5 12 3 12 21 12 0 12-1 12 1 12 5 12-16 12-15 12 7 12-12 12 25 12-9 12 3 12-2 12 0 12 16 12 7 12-4 12-11 12-7 12-9 12 6 12 11 12-5 12 0 12-5 12-9 12 15 12-12 12-3 12-12 12-5 12 4 12 18 12 16 12-10 12-15 12 12 12-9 12 8 12-4M265 2270l12-15 12-25 12-13 12-17 12-17 12-21 12 1 12-7 12-33 12-4 12-26 12-30 12 9 12-23 12-45 12-50 12-10 12 32 12-76 12-39 12-58 12 7 12 69 12-105 12 73 12-10 12 26 12-16 12 15 12-1 12-100 12 112 12-98 12-38 12-124 12-4 12 92 12 10 12-75 12-55 12 35 12-117 12 92 12-123 12-8 12-234 12 196 12-27 12 221 12-264 12 129 12-178 12 97 12-2 12-155 12 121 12-10 12 50 12-83 12-247 12 143 12 11 12-110 12-105 12-199 12 176 12-2 12-192 12 102 12 8 12 56 12-138 12-22 12 29 12-399 12-128 12-7 12 93 12-14 12-298 12-143 12 78 12-117M1573 -156l12 247 12-391M1645 -271l12 581 12 53 12-282 12 349 12-382 12 343 12-209 12 240 12 285 12-233 12-79 12-308 12 160 12 70 12 579 12-82 12-369 12-170 12-360 12 90 12-286M2377 -175l12 370 12-471M2425 -269l12 319 12-293M2497 -176l12 374 12-150 12-341 12 408 12 52 12 79 12 141 12-120 12-345M2641 -101l12 146 12 78 12-176 12-31 12 275 12 39 12 214 12-56 12 82 12 147 12-696 12 266 12-192M2833 -17l12 315 12 193 12-105 12-253 12 210 12-179 12 224 12-154 12 167 12 399 12-126 12 130 12-321 12 77 12 165 12-52" stroke="#F0B9B9" stroke-width="5.0" fill="none" opacity="0.70"/></g>
<path d="M134.7 12.0v5.0M116.2 153.6v7.1M281.0 78.7v23.7M98.8 44.3v26.1M227.9 109.8v6.1M232.6 2.1v14.2M289.0 5.2v19.2M67.9 158.3v24.5M271.9 4.0v14.9M192.6 61.2v26.2M93.4 46.3v16.6M90.4 40.1v7.9M123.2 0.6v11.5M244.3 54.1v11.0M98.1 95.0v12.3M134.4 -6.2v4.4M188.6 143.9v8.5M286.7 89.7v6.6M157.1 162.0v15.9M146.7 165.3v16.2M298.5 134.4v12.2M227.5 164.8v19.3M141.2 75.0v5.3M88.3 17.3v21.8M102.3 43.7v6.0M269.6 166.7v20.1M119.8 49.2v11.0M93.5 86.5v14.7M293.8 45.3v27.3M114.0 104.9v27.2M145.7 55.0v4.0M172.9 70.1v16.1M186.1 32.2v4.1M84.1 45.5v13.6M83.1 -1.2v11.3M204.2 38.9v16.7M215.6 147.6v21.2M144.9 174.6v11.8M76.1 196.8v21.4M61.8 125.1v24.0M206.2 177.3v21.6M81.9 160.6v16.6M261.9 95.9v23.3M196.0 163.5v25.4M225.3 133.4v9.5M107.9 -3.5v12.7M265.4 12.0v17.4M208.8 121.8v20.3M54.8 92.8v23.1M176.1 147.1v16.8M67.1 128.5v21.7M81.2 43.0v10.4M100.6 143.2v21.8M168.3 194.9v13.2M224.3 90.6v22.4M213.1 119.6v5.9M129.7 21.0v21.8M197.5 53.9v4.3M137.8 2.7v20.1M220.8 135.4v11.0M169.5 98.5v15.2M278.5 14.9v8.8M286.0 195.4v4.4M258.2 86.4v27.2M121.2 84.4v9.0M94.9 188.6v18.0M192.6 19.8v26.9M261.4 17.8v16.2M226.0 176.2v9.6M169.3 178.5v4.6M188.6 -9.2v14.8M93.6 53.4v12.3M263.8 56.4v4.0M261.9 147.7v6.9M227.7 184.5v25.6M150.8 50.9v13.4M192.9 199.7v12.7M123.1 79.9v5.2M265.1 11.4v10.9M105.6 186.5v10.4M101.0 97.3v13.0M272.4 190.8v23.5M281.2 122.5v26.6M232.8 105.3v5.2M163.1 143.8v22.1M122.9 125.3v5.2M74.1 184.6v15.3M129.5 62.2v21.7M106.1 195.0v19.7M195.2 53.2v13.5M107.1 25.1v9.0M171.8 180.3v9.3M302.1 180.3v14.8M115.8 19.3v6.2M78.4 61.8v9.7M199.7 44.3v25.3M153.1 147.4v13.9M147.5 100.1v12.1M139.7 3.0v27.2M188.4 16.4v19.1M100.4 171.2v10.5M159.3 42.2v14.7M263.0 190.3v24.9M85.3 -5.4v21.0M166.0 178.1v18.1M166.1 -10.0v26.2M265.8 163.4v27.3M89.7 42.2v7.7M223.7 99.7v26.6M213.3 141.6v22.4M191.5 86.0v4.9M106.4 154.3v26.1M127.3 125.6v7.1M215.8 42.9v20.8M89.4 13.5v16.6M149.5 112.4v9.4M54.3 116.2v11.2M292.8 86.7v19.5M167.0 175.6v9.6M293.6 41.9v20.9M64.0 54.6v16.0M156.2 131.6v10.2M284.1 130.1v9.4M154.1 -2.8v14.1M99.9 133.3v23.1M176.7 145.2v8.9M120.2 193.7v23.7M117.6 38.5v22.3M291.3 51.9v15.9M120.4 29.3v14.0M290.0 129.7v7.5M108.0 72.6v27.4M83.1 19.8v5.4M277.8 72.6v25.2M302.4 143.9v26.4M102.2 59.1v26.5M55.9 146.7v19.9M148.0 69.5v12.0M69.8 25.5v10.7M292.0 63.8v7.0M92.8 192.5v12.6M257.2 162.5v14.4M184.5 0.3v12.9M91.7 183.1v12.7M50.7 178.4v13.9M243.1 160.5v5.0M92.1 -2.7v26.1M242.4 44.0v25.6M123.2 61.2v27.0M117.3 119.6v21.2M125.4 56.5v4.1M281.7 148.7v19.2M45.9 188.1v9.6M292.2 89.8v26.9M117.5 71.2v14.3M285.1 93.6v8.4M235.9 158.5v23.7M202.5 152.3v11.9M146.3 57.1v22.8M120.5 6.6v22.1M79.2 41.9v4.8M134.3 106.0v27.5M299.8 175.5v10.4M97.3 7.7v16.0M162.5 139.1v9.6M208.8 77.5v20.2M263.9 147.1v19.9M266.3 15.4v11.1M145.9 109.0v21.7M125.4 31.8v9.9M276.0 22.2v17.9M154.3 58.5v27.8M111.4 96.5v23.4M300.7 127.2v6.5M258.0 89.7v24.2M52.1 182.0v11.0M116.4 15.0v27.4M285.5 112.5v12.9M160.6 171.9v10.2M289.1 153.3v6.5M207.5 115.2v9.2M90.5 67.4v8.9M206.9 43.5v19.6M69.4 32.7v11.9M96.7 132.4v11.5M254.6 32.7v17.2M99.8 3.3v13.5M212.7 105.5v6.2M231.9 24.4v13.8M135.6 49.5v26.9M196.9 55.6v12.6M269.3 77.5v27.9M104.4 66.4v21.5M68.1 32.8v25.6M258.4 79.0v13.7M163.3 175.4v7.9M202.1 -6.9v19.4M65.1 181.1v18.9M180.4 67.9v7.5M187.2 49.5v26.2M186.1 12.8v23.3M90.0 193.0v7.0M296.6 188.0v15.6M286.4 1.2v13.3M204.0 179.9v23.8M253.1 23.7v9.3M264.9 74.9v23.9M119.4 28.4v13.6M149.2 98.8v7.0M237.2 41.9v25.5M204.5 -1.4v22.2M266.6 -2.0v6.8M189.9 115.9v19.0M161.4 54.3v18.0M218.3 79.4v14.7M60.4 82.1v18.9M112.5 92.8v22.3M164.3 153.8v8.3M80.8 89.4v7.1M77.5 80.4v14.6M63.8 97.1v19.3M242.4 7.3v22.7M67.2 97.4v16.1M290.8 69.4v7.3M302.0 170.0v21.6M95.8 161.1v27.6M292.2 93.3v26.0M253.6 24.7v26.3M156.1 3.8v22.1M278.9 23.3v10.6M82.9 161.3v16.1M95.7 183.2v10.3M133.3 96.3v4.9M106.1 28.2v26.5M276.5 132.7v8.0M76.3 154.8v16.7M141.6 123.6v25.0M197.9 106.6v25.2M301.4 12.0v19.1M252.9 72.8v10.4M190.0 198.0v12.6M160.4 150.6v8.2M60.2 146.2v23.7M216.5 43.3v27.6M218.6 113.0v11.5M85.6 -9.6v7.6M160.1 119.4v16.3M77.3 178.1v9.5M56.1 127.2v4.1M82.0 64.5v12.6M204.0 37.1v18.1M214.1 32.9v15.4M288.3 18.3v9.8M92.8 21.4v19.3M246.6 173.0v13.6M65.3 45.5v19.5M140.3 108.1v19.5M287.4 83.2v21.6M279.9 42.2v5.1M154.6 101.6v9.7M253.1 2.3v4.3M288.2 105.7v7.4M210.5 31.9v16.2M255.9 124.7v8.2M131.9 55.0v5.2M246.7 176.8v21.2M268.0 -8.7v21.9M238.8 87.7v14.9M90.2 37.4v9.6M153.5 -1.8v22.0M263.8 136.0v21.1M195.6 45.9v14.5M180.8 155.6v10.4M294.2 124.8v9.2M48.0 174.8v10.2M241.9 39.6v26.7M131.2 146.7v25.1M115.5 59.0v25.8M225.6 122.4v20.0M161.7 195.6v24.2M266.8 136.5v14.5M193.6 142.2v11.4M213.6 34.5v5.9M79.6 181.3v4.6M286.7 12.4v12.3M77.7 19.8v5.0M210.2 135.5v20.7M64.8 144.7v18.2M257.9 66.3v23.7M60.4 177.2v24.8M288.4 182.0v6.6M93.1 33.2v4.8M254.5 168.0v19.2M208.2 163.3v10.9M96.6 11.0v22.2M142.1 33.0v14.2M135.8 -5.6v10.8M142.3 140.3v11.7M171.4 192.4v24.4M59.1 119.8v13.9M246.6 81.7v12.3M185.6 138.0v9.2M68.1 171.1v23.7M69.4 25.8v8.8M297.3 150.1v4.1M176.3 93.1v23.1M184.3 28.7v12.3M112.7 164.7v26.7M113.1 49.6v20.8M81.2 94.6v19.3M254.8 7.0v20.7M207.6 155.3v12.5M152.9 74.3v25.4M277.6 8.1v4.6M128.8 33.3v25.6M148.3 95.2v25.2M174.5 39.1v16.8M239.9 148.4v19.5M136.5 63.2v7.7M215.9 167.1v21.8M171.8 25.6v22.6M83.8 111.6v15.1M105.4 175.9v8.6M230.7 53.3v24.2M106.5 22.5v9.9M185.3 58.6v7.9M103.2 58.9v27.4M74.2 143.0v27.1M162.0 11.3v27.6M234.6 156.9v14.4M217.7 31.2v6.6M158.4 33.4v4.8M251.2 73.8v20.6M211.4 95.1v15.1M211.1 19.8v13.7M279.5 145.6v14.3M240.1 110.5v14.1M236.9 38.0v25.1M226.2 152.6v24.5M212.2 132.7v14.9M212.0 55.7v6.3M249.0 78.1v21.1M114.0 122.2v14.2M208.9 85.6v13.8M285.3 131.8v8.4M247.0 127.4v13.3M296.7 92.9v4.9M93.2 104.1v22.8M176.4 187.5v6.4M187.9 110.7v21.2M213.0 97.6v23.9M155.8 99.6v26.8M228.3 34.1v13.4M78.6 150.2v27.6M69.7 64.6v10.6M58.4 73.9v14.0M228.1 78.3v12.5M116.4 45.7v21.8M178.5 187.4v9.3M147.0 158.3v9.1M251.4 17.2v23.4M169.2 123.2v17.5M294.4 37.5v12.5M257.3 124.1v23.6M127.4 88.3v17.2M264.6 16.3v12.5M114.0 168.6v13.0M165.4 43.2v8.5M240.4 -9.4v10.7M136.0 41.4v15.5M213.0 80.0v19.8M285.4 66.1v24.5M264.2 2.0v25.7M82.8 154.6v24.0M54.7 123.0v4.3M212.1 189.9v10.0M106.7 11.3v9.6M135.7 153.0v7.7M248.7 179.9v8.0M201.3 177.1v22.8M276.2 130.4v22.9M96.2 166.1v20.6M238.5 101.5v14.5M187.7 175.4v10.3M97.8 39.2v15.8M182.7 2.3v7.5M178.0 93.2v16.9M46.3 171.2v24.2M194.2 88.3v20.0M141.9 166.5v14.1M58.1 191.7v19.3M58.1 123.6v18.6M285.6 133.3v11.9M172.6 196.2v15.6M51.6 178.5v21.2M136.4 121.3v24.7M173.0 66.9v16.6M101.0 151.8v14.4M192.3 78.7v23.8M261.2 51.5v13.7M121.5 95.8v16.2M211.1 194.7v23.0M134.5 59.5v11.2M211.3 113.2v22.8M240.6 -1.6v25.3M65.3 104.5v11.2M120.7 -8.7v26.1M217.0 117.8v22.9M201.6 181.1v18.8M226.5 121.6v18.3M103.6 133.0v20.0M244.0 86.2v6.4M77.0 28.1v22.6M213.0 182.0v12.9M248.1 162.7v17.5M135.4 44.2v14.1M163.3 56.9v19.4M54.5 186.1v17.6M104.7 -1.7v23.4M282.6 110.8v14.7M165.1 -7.0v18.2M297.9 186.9v15.4M80.3 76.6v19.5M102.1 34.6v4.4M231.8 -9.0v6.9M61.0 192.9v24.9M76.1 17.1v21.3M239.3 40.9v8.5M252.1 0.5v21.1M233.2 169.7v6.0M229.7 122.0v15.1M107.0 185.8v27.1M51.6 140.6v4.4M256.9 126.6v5.9M236.8 55.3v8.0M170.3 170.8v5.4M197.8 67.2v14.5M86.6 132.1v23.1M215.1 66.3v19.1M150.6 77.8v22.9M246.2 188.4v17.6M75.0 51.4v27.4M259.2 137.7v12.0M297.3 117.2v24.0M129.2 116.2v14.3M141.2 176.5v20.4M276.9 116.4v23.4M61.6 49.5v10.3M200.4 78.7v23.6M54.5 176.4v24.0M268.9 160.5v17.7M267.1 47.5v23.4M281.1 133.8v12.3M201.3 7.9v23.1M244.0 32.1v26.4M209.3 39.1v20.3M105.6 87.7v10.1M249.8 147.7v15.0M258.9 8.4v22.5M202.8 38.9v25.5M179.0 175.9v15.4M99.4 113.8v8.6M232.9 27.9v12.7M153.3 108.5v16.4M80.9 21.3v27.9M81.7 68.5v19.2M86.7 155.3v18.3M184.2 62.4v4.5M300.8 -2.9v24.8M195.2 92.1v10.3M156.0 153.6v26.7M256.7 151.1v27.1M72.3 43.3v8.8M88.0 28.0v5.2M270.6 107.0v15.0M279.2 188.9v5.5M151.6 115.6v6.9M106.3 191.5v17.5M292.0 124.5v20.1M166.3 72.6v7.8M300.8 192.8v9.3M135.6 -1.9v12.4M278.1 179.6v24.1M254.9 -0.1v21.0M299.3 125.8v5.3M246.1 20.4v26.5M125.5 132.1v18.2M74.4 149.2v11.8M92.8 44.0v15.6M125.0 25.4v7.4M53.1 132.3v21.2M75.8 31.0v26.3M287.3 36.3v24.8M79.7 176.6v14.7M286.7 10.4v24.2M165.0 122.0v12.2M168.7 162.8v19.1M122.4 20.0v5.4M189.5 139.9v7.5M113.2 172.9v13.9M133.2 22.7v24.1M97.4 60.2v15.8M279.2 56.8v6.7M51.8 195.5v25.5M103.5 130.3v15.5M123.3 50.1v8.8M300.8 66.5v28.0M66.4 184.3v10.9M57.8 178.2v21.4M297.8 51.6v4.4M133.8 159.5v7.4M265.3 -9.6v16.6M170.3 29.0v25.9M201.3 35.8v7.3M249.1 27.8v21.1M85.9 31.3v6.1M176.1 117.8v10.6M211.4 33.3v21.0M195.9 160.4v8.9M242.5 3.8v13.8M62.6 141.5v23.5M263.9 60.4v24.7M57.7 93.5v25.8M271.1 90.1v10.4M263.4 29.1v12.8M156.2 24.3v18.3M195.0 -9.0v14.7M83.7 98.3v21.2M268.4 161.5v11.7M145.8 139.3v22.0M274.3 2.9v26.9M181.7 93.9v16.7M58.3 102.8v27.2M108.7 37.0v6.5M259.2 42.6v4.7M234.2 10.3v8.7M212.9 -6.3v17.8M228.8 99.8v6.5M229.8 172.6v5.1M186.3 15.8v16.0M90.9 48.7v13.7M208.5 18.8v24.7M203.8 20.9v21.9M262.4 24.5v26.5M159.4 71.6v24.2M152.1 100.4v26.6M133.6 153.2v9.8M163.6 60.4v27.5M280.6 158.9v23.6M58.9 168.0v16.4M285.6 191.2v10.0M211.8 78.6v12.7M70.5 101.5v14.4M58.9 96.0v7.3M243.7 193.6v26.5M254.9 123.0v25.2M52.6 175.8v19.4M225.6 45.8v10.6M284.1 103.9v18.9M188.1 42.6v14.4M114.8 189.7v11.3M81.0 126.0v18.3M174.4 190.8v10.4M187.0 87.9v7.6M102.7 16.0v11.0M126.5 75.4v9.8M199.6 8.4v24.2M194.9 118.1v19.6M234.6 32.3v15.1M206.1 105.1v15.3M117.7 55.2v9.3M149.2 97.6v18.1M157.3 -7.5v24.7M197.2 40.1v15.8M300.0 49.8v11.1M87.6 152.1v5.6M158.1 173.0v5.5M164.2 71.5v21.6M125.2 12.9v27.0M87.4 145.1v12.1M222.7 64.0v18.8M256.9 168.5v16.4M237.5 145.1v22.2M249.5 89.8v21.0M74.8 182.1v24.9M250.3 -9.1v18.1M293.7 94.6v17.7M249.3 77.8v24.9M147.0 117.5v14.9M234.1 86.2v11.0M192.8 72.0v13.2M250.7 57.6v24.4M164.4 94.9v8.4M94.4 53.8v17.8M74.2 112.1v26.1M264.5 58.0v24.1M92.3 191.3v14.2M44.6 181.2v5.1M177.1 108.6v26.1M184.9 152.4v28.0M182.6 98.7v20.4M143.9 71.8v18.3M290.1 63.7v20.2M78.1 100.3v13.0M194.3 74.2v17.8M293.8 174.8v15.7M209.7 82.4v27.9M186.9 62.1v23.6M143.5 25.9v27.5M177.6 163.5v6.7M222.4 177.8v23.7M273.1 198.0v14.1M137.6 22.8v16.3M100.6 96.0v8.4M203.0 122.3v12.5M205.8 198.7v5.0M250.3 76.4v11.4M50.5 135.0v11.3M196.3 166.9v20.0M184.6 31.3v17.3M218.0 45.9v16.8M189.1 199.4v13.9M108.7 15.5v22.2M96.6 12.4v8.1M258.9 99.7v18.7M62.2 159.4v4.3M129.7 151.8v21.2M97.6 64.3v10.4M281.0 10.9v18.0M167.0 63.3v13.3M278.3 1.5v18.0M154.6 191.5v18.9M74.1 42.4v26.3M126.1 169.5v25.6M124.1 161.3v18.5M169.4 191.6v26.8M157.2 41.0v21.2M138.9 36.5v25.0M251.4 91.7v9.8M152.8 26.4v8.5M114.5 194.0v17.5M195.8 14.1v13.3M71.3 74.7v7.0M136.1 163.4v9.9M134.4 30.2v9.7M227.5 -2.7v12.2M234.5 22.7v6.2M263.3 46.6v7.1M262.3 83.1v23.3M152.1 23.4v21.3M292.7 69.1v9.0M172.2 189.7v9.5M87.0 85.1v21.0M278.9 44.8v18.1M116.5 67.3v18.6M272.8 34.6v6.9M188.9 97.7v10.5M145.6 152.1v19.8M130.3 109.2v13.4M115.5 8.1v24.4M220.1 57.4v6.6M143.1 108.0v16.0M75.8 52.4v11.5M95.2 37.5v21.2M158.8 49.3v25.8M273.0 152.7v24.7M135.7 17.8v4.7M217.8 132.7v12.4M218.4 76.6v20.8M266.3 42.2v12.5M96.8 122.1v6.8M233.5 181.7v21.1M87.0 -1.5v7.9M138.6 31.6v13.1M148.0 -1.8v19.3M265.3 27.7v17.7M113.5 140.5v14.4M138.1 133.7v4.0M245.4 165.2v10.9M270.2 -1.0v18.6M133.0 -0.1v6.7M100.5 156.2v25.9M69.7 147.4v20.7M240.4 72.7v23.9M83.1 49.0v26.7M285.7 79.0v20.6M259.6 145.1v19.1M67.9 85.1v20.8M181.8 80.0v26.3M248.0 16.8v5.0M253.7 137.6v10.3M295.4 104.7v19.3M115.4 104.2v5.4M157.5 65.1v8.8M91.8 55.2v21.0M110.2 130.8v9.8M164.6 98.2v26.5M129.8 63.8v25.2M201.7 19.8v12.0M186.9 161.2v22.3M225.0 25.5v18.4M244.8 86.8v23.9M139.6 14.0v12.7M80.8 33.4v10.7M232.6 31.4v14.8M147.8 13.7v15.2M97.2 66.2v5.7M301.2 -7.7v22.0M238.6 7.6v27.5M79.8 108.4v15.7M101.8 81.2v17.0M284.9 -8.3v19.5M286.7 121.8v19.7M122.3 42.8v7.3M252.2 -4.2v24.1M105.0 52.2v19.3M284.1 167.6v8.0M259.5 154.8v21.8M102.2 58.6v23.8M147.9 57.2v17.2M261.3 67.5v9.7M205.5 -1.3v19.1M227.3 162.1v25.7M169.7 188.4v16.0M139.8 23.1v17.9M232.0 6.8v7.9M295.5 83.1v6.2M176.9 -1.6v8.6M49.2 141.8v24.2M248.0 169.6v14.2M221.2 49.5v16.4M138.9 78.5v14.5M259.0 129.9v25.7M138.5 24.5v14.6M139.7 108.3v8.7M149.0 7.9v15.1M278.7 194.0v24.8M292.8 194.6v18.9M61.6 160.3v20.2M126.2 117.9v17.7M165.8 190.1v19.5M143.2 52.9v25.2M120.5 -4.2v20.3M75.7 83.9v19.9M199.2 68.1v14.0M194.3 101.3v13.5M114.6 14.0v25.4M80.9 105.1v24.7M86.0 43.2v16.7M180.6 42.8v17.3M201.4 37.6v6.7M200.4 97.8v5.9M73.2 75.7v14.5M186.9 171.3v21.2M76.7 148.9v27.8M74.5 141.5v23.9M97.7 72.3v27.0M246.6 108.2v7.3M61.7 153.0v9.7M59.2 68.2v18.3M137.1 34.8v21.0M275.4 79.5v18.9M189.9 173.1v26.0M87.8 172.9v21.9M244.6 61.7v20.3M77.4 163.4v13.0M289.8 144.8v21.3M213.9 -0.9v6.4M253.7 105.3v6.7M217.8 184.3v10.1M172.7 30.6v24.1M80.6 112.1v4.5M257.2 13.2v8.4M125.3 106.4v20.5M91.1 70.0v25.0M225.4 103.1v23.4M42.7 189.2v12.2M187.1 21.7v25.0M55.5 158.1v8.4M220.6 161.8v13.4M93.5 89.9v24.3M271.5 72.6v18.7M150.7 5.9v9.2M196.2 177.7v5.0M153.5 25.6v15.2M149.5 111.2v12.5M208.3 -8.7v12.0M181.4 -5.7v27.7M110.8 -0.5v20.1M127.8 47.3v16.0M199.4 45.0v16.7M300.9 191.0v4.8M245.6 107.7v24.9M209.1 152.6v19.2M125.3 66.2v23.1M287.1 173.3v20.4M245.3 53.8v21.7M212.0 96.9v12.4M154.4 105.7v5.5M135.8 60.8v27.7M145.5 91.1v9.8M147.8 39.3v7.3M274.0 -8.5v14.9M195.8 83.6v11.3M84.7 25.5v11.2M236.2 54.8v17.2M129.5 186.9v26.1M72.1 112.5v8.3M299.9 111.9v12.6M156.6 152.6v24.8M186.3 4.2v25.6M123.8 47.9v4.6M132.1 24.6v20.9M160.5 35.8v8.8M268.8 116.6v19.6M240.3 31.3v27.1M71.6 116.2v23.4M132.5 173.9v7.3M194.1 29.5v25.0M283.6 124.4v9.1M241.3 58.6v19.6M223.4 75.1v12.1M170.8 2.1v5.1M135.4 121.5v15.9M116.3 115.5v15.1M286.2 -7.1v17.5M50.9 197.4v18.7M132.2 142.1v6.2M103.3 22.8v22.4M260.6 8.9v14.2M200.1 103.1v17.3M202.4 128.0v11.9M113.7 145.6v21.1M245.7 150.3v11.4M297.2 152.2v14.9M187.9 48.4v26.6M73.9 17.7v15.4M246.0 127.6v12.7M96.8 197.8v22.2M81.3 8.9v7.2M190.5 2.6v17.3M288.9 28.2v12.8M111.8 21.4v21.7M83.5 183.5v4.7M109.0 153.4v27.6M212.3 94.8v12.3M164.5 158.1v11.8M70.5 179.7v21.6M222.8 3.7v13.6M60.1 171.5v17.5M282.9 76.1v26.7M107.5 121.7v10.0M166.9 45.1v9.6M246.1 32.7v19.4M301.6 52.7v9.2M91.6 109.6v24.7M113.5 172.5v22.0M118.5 162.8v12.0M275.8 92.0v7.9M201.1 133.4v14.9M273.6 111.6v9.0M137.2 175.5v22.7M91.7 171.3v24.7M115.0 198.9v4.6M297.1 13.4v4.2M81.2 181.4v21.7M112.9 10.5v20.4M152.3 8.9v26.0M273.0 140.4v27.5M130.8 -3.1v23.0M59.1 134.8v16.1M167.3 38.6v6.5M300.9 -5.8v11.6M75.3 174.5v15.7M170.7 18.5v8.3M87.1 133.9v21.7M81.8 95.2v12.5M282.7 94.2v12.4M295.3 35.2v25.2M117.8 143.6v8.3M79.1 45.6v5.0M155.4 96.8v17.4M58.2 66.1v20.5M187.9 127.2v17.2M298.5 135.0v25.0M150.2 140.7v11.6M296.3 78.0v13.3M156.9 70.9v7.4M36.5 199.7v18.6M107.5 184.5v18.7M115.0 69.2v8.8M266.9 14.4v22.8M54.9 180.8v20.7M216.0 58.1v17.2M296.0 56.3v4.0M265.6 146.7v16.2M301.7 114.4v9.6M238.3 122.2v13.1M148.8 139.6v16.6M221.8 118.7v11.7M187.9 122.1v9.4M118.1 118.6v25.8M233.7 89.4v16.5M109.2 90.1v7.4M179.4 184.7v16.6M256.4 100.8v9.7M261.3 26.2v15.0M259.5 124.5v25.5M55.6 172.2v13.2M256.1 164.7v7.0M128.8 22.3v6.5M254.3 64.9v16.5M76.3 85.1v13.5M221.3 199.4v14.8M252.8 90.5v22.2M228.6 21.5v12.8M112.8 99.3v12.9M150.1 61.4v4.4M201.6 32.2v5.4M236.9 27.5v10.6M116.5 58.0v24.0M220.0 9.2v24.6M166.8 32.4v23.0M144.8 119.8v5.1M145.8 82.9v21.1M159.1 52.0v19.6M136.7 160.3v13.2M284.1 111.5v8.6M226.4 194.0v12.9M133.5 129.8v5.7M144.4 148.8v16.6M278.4 94.3v22.2M211.4 -4.6v15.1M263.1 87.1v14.0M275.7 89.5v14.6M181.4 93.2v23.8M237.4 130.8v13.6M231.0 -1.5v17.3M244.1 151.5v6.8M83.9 36.3v23.6M94.2 11.4v22.1M66.3 108.5v20.3M171.6 139.3v5.3M155.4 135.1v18.0M253.9 199.6v24.9M148.4 20.6v16.4M300.5 -8.7v10.6M137.9 45.1v10.1M188.2 170.4v16.3M67.5 78.2v11.3M251.8 172.0v24.6M111.5 44.0v5.3M146.5 102.7v15.1M199.3 92.7v12.8M97.8 158.3v26.1M65.5 106.8v11.5M155.3 101.9v17.6M124.3 57.9v23.1M232.8 51.2v23.3M166.0 114.3v26.4M272.7 83.4v5.4M213.4 81.1v5.2M63.2 171.2v18.3M284.8 27.8v17.5M174.2 158.1v20.2M124.6 131.7v9.1M82.9 166.0v26.0M90.4 33.5v6.3M290.4 154.7v14.0M115.4 128.4v25.7M88.8 134.0v5.4M59.9 136.1v24.1M116.7 51.7v18.0M195.1 56.9v7.7M126.5 181.5v24.2M256.3 21.9v27.5M63.4 72.2v13.1M107.1 124.6v17.1M180.7 9.7v21.5M223.3 80.3v6.7M77.1 164.0v26.2M286.8 199.2v16.6M144.9 51.1v22.0M285.5 94.3v6.2M269.1 91.8v18.3M75.1 103.6v7.4M277.2 46.9v24.3M285.1 37.7v4.8M294.8 115.7v12.3M212.5 188.3v5.2M167.1 60.0v9.9M93.5 145.9v22.9M76.6 52.6v17.4M200.5 10.1v22.9M167.7 115.1v4.8M77.9 97.8v19.5M205.4 17.7v12.5M219.6 68.7v7.9M289.3 25.6v12.0M270.4 166.9v15.5M92.4 21.3v25.1M187.1 14.6v16.9M180.5 14.7v7.9M179.8 102.4v12.8M162.4 31.5v8.9M127.5 16.7v24.9M275.7 95.4v4.4M168.2 188.1v23.0M225.0 109.8v9.5M86.9 147.5v10.3M166.5 -3.5v16.4M276.4 51.3v6.0M110.8 111.5v18.3M228.9 154.6v5.5M207.1 41.6v27.6M217.1 -1.3v20.6M134.0 161.1v23.5M283.3 87.0v4.3M148.2 187.5v13.8M130.8 8.5v21.6M88.1 132.5v12.3M117.1 19.5v9.3M297.1 59.5v27.9M169.6 156.2v15.9M279.5 153.6v22.0M101.1 123.6v19.0M248.0 167.6v6.2M137.5 140.7v7.9M216.2 192.8v21.9M263.3 18.3v26.5M236.5 180.0v24.0M197.9 158.5v14.4M247.6 163.3v24.9M293.5 52.8v16.8M69.8 188.6v27.2M111.3 155.4v24.1M111.9 38.7v15.0M182.0 39.7v25.8M229.6 133.9v13.4M250.1 154.6v20.4M257.1 187.8v13.7M223.8 8.3v24.1M202.9 61.3v24.1M47.7 156.5v15.7M102.9 -6.6v23.5M204.9 77.9v15.0M108.8 60.4v12.5M204.8 167.4v11.0M136.8 8.5v20.8M218.8 82.8v23.4" stroke="#fff" stroke-width="0.80" opacity="0.45" fill="none"/>
<path d="M230.0 15.3v3.5M93.2 162.8v6.0M134.2 191.1v5.5M201.8 176.9v12.8M179.0 72.8v13.5M300.1 96.4v5.1M87.4 164.4v8.8M117.5 -9.9v13.4M255.6 85.5v5.8M80.7 64.0v9.1M177.4 171.1v7.1M275.1 185.0v10.3M217.6 5.9v7.9M134.1 191.1v10.3M145.7 122.7v8.7M279.5 132.1v8.5M297.1 66.4v3.6M221.5 165.3v9.1M241.1 84.0v12.8M239.3 143.1v3.4M90.6 58.3v13.5M80.8 177.2v9.5M63.9 111.1v7.3M211.5 146.9v6.1M121.7 150.1v9.0M297.6 78.3v10.1M220.0 159.0v7.2M226.0 192.2v10.6M100.7 48.3v9.3M249.9 163.4v6.8M190.8 19.4v12.7M241.9 24.1v4.9M71.3 55.5v6.3M294.8 70.4v13.6M140.6 29.3v13.4M142.9 31.4v7.8M133.2 12.8v7.3M294.0 71.0v5.9M281.4 32.8v8.0M209.5 165.8v11.6M95.2 56.1v11.3M193.2 88.7v10.4M117.9 148.1v7.0M179.8 182.7v6.2M116.5 122.3v11.5M264.0 -1.3v9.2M288.1 64.3v5.9M80.7 41.1v9.0M220.8 148.3v7.5M74.8 159.6v6.4M294.7 125.4v10.0M245.8 135.3v7.3M235.2 187.5v6.8M254.9 72.4v6.8M272.8 29.0v8.8M220.5 99.5v12.9M150.0 18.0v3.7M179.5 76.8v12.4M196.3 130.2v7.4M120.9 110.5v12.3M261.6 155.6v4.7M240.8 131.0v8.5M276.7 178.7v11.2M212.7 162.4v12.7M234.6 17.6v10.7M120.6 118.6v3.7M258.8 116.7v6.0M119.1 34.7v4.0M296.6 132.0v11.8M228.7 65.5v3.8M129.1 166.1v3.0M86.0 122.1v6.0M177.8 2.4v9.1M56.4 159.5v12.1M124.9 13.2v9.9M137.7 61.4v9.3M254.0 35.8v5.3M253.7 166.3v8.9M253.1 -3.6v3.3M159.4 96.0v3.7M233.6 122.3v9.4M182.1 74.0v9.5M271.5 37.5v14.0M293.1 158.9v6.6M55.1 197.1v8.3M176.7 18.1v10.5M164.4 138.8v6.8M162.5 29.9v6.1M240.8 30.8v8.7M103.7 82.1v10.7M129.9 31.3v9.2M296.1 137.3v11.2M281.9 189.1v10.9M64.5 141.1v5.3M272.3 -7.3v10.9M117.5 122.3v6.9M217.1 24.4v13.9M69.7 54.2v4.9M278.0 64.6v11.8M79.8 85.6v4.2M251.2 22.3v8.2M279.4 198.0v11.7M258.7 90.0v4.4M202.8 12.9v8.6M126.0 34.0v3.2M227.4 180.9v13.4M152.9 195.9v11.1M256.4 70.7v12.3M74.6 18.1v5.4M147.1 112.9v3.1M247.9 164.4v8.1M278.0 -0.9v8.9M149.6 4.9v9.9M169.3 175.9v10.0M124.1 33.2v13.0M81.1 70.3v9.5M118.4 16.5v8.0M211.7 113.0v10.8M71.4 82.3v11.0M183.7 1.3v7.4M230.6 131.3v5.6M225.3 126.4v8.2M281.9 19.8v9.6M130.8 3.2v13.9M158.4 38.0v11.7M208.9 163.0v11.2M99.1 -2.0v13.7M56.1 158.6v3.5M286.4 40.5v5.4M285.4 131.1v10.0M110.1 183.0v4.7M248.4 -6.2v4.1M225.9 194.4v5.1M88.1 159.5v8.6M254.2 12.2v12.8M42.0 182.4v12.4M258.3 106.7v8.5M200.9 120.2v11.8M88.1 6.3v9.0M156.7 51.1v3.1M54.0 146.4v12.1M163.8 160.4v4.3M102.9 126.5v7.7M297.6 13.2v9.0M79.0 64.0v11.0M263.9 168.4v4.1M130.5 67.2v11.4M211.6 21.0v13.8M48.9 151.4v3.8M232.3 13.9v9.6M167.2 99.2v7.5M214.6 118.3v13.1M251.2 143.9v13.0M230.0 165.8v3.3M265.0 133.0v7.7M90.6 174.4v13.4M230.1 82.8v5.8M144.3 53.1v6.6M175.7 9.9v13.8M285.9 127.3v11.4M301.5 165.7v11.3M122.0 47.6v7.5M129.9 -5.6v12.7M127.2 183.4v11.5M274.8 152.7v11.7M79.4 101.7v12.1M211.6 55.9v7.0M294.4 102.8v4.8M215.6 101.5v8.9M147.1 187.0v13.1M294.7 134.9v4.0M134.2 34.6v13.0M136.5 -7.1v10.9M82.9 197.8v7.8M224.6 134.2v11.2M111.0 148.2v5.8M233.5 -4.2v5.3M294.4 44.5v10.1M216.6 114.1v9.6M126.4 135.9v3.7M79.9 4.1v7.0M97.2 19.9v8.4M220.0 193.6v6.0M92.6 151.6v4.1M158.9 53.7v10.6M235.5 83.4v4.0M130.2 185.8v12.2M264.5 -3.6v5.5M252.1 169.6v10.4M63.9 48.3v5.1M83.5 180.0v10.3M218.0 113.3v5.0M93.5 20.2v13.8M216.9 70.4v9.3M80.8 36.9v3.2M78.5 169.0v13.6M234.4 66.4v4.5M111.2 155.5v7.0M81.2 99.8v5.7M119.7 157.2v7.2M104.5 150.6v5.1M156.8 36.0v7.0M169.8 124.7v12.6M227.2 0.6v12.2M71.6 39.3v7.8M178.8 14.3v10.8M101.5 9.7v8.3M122.9 26.5v7.8M88.4 14.8v7.0M287.2 88.5v9.1M126.7 5.0v11.2M270.5 108.2v13.6M73.2 170.2v13.4M113.2 100.2v4.9M99.4 171.6v3.9M284.7 45.7v8.1M67.2 143.6v8.0M108.0 56.7v10.3M85.2 65.9v13.8M98.8 91.1v3.1M180.5 127.1v3.3M238.4 88.8v8.9M183.6 39.2v9.7M87.2 126.7v11.8M234.5 188.6v12.4M278.9 67.2v5.0M207.4 37.6v12.9M124.8 7.2v3.4M89.5 82.2v5.1M196.6 147.3v13.3M223.5 74.4v3.1M100.6 189.2v8.2M290.1 97.4v8.4M201.7 198.3v5.4M97.5 165.1v14.0M110.6 85.9v13.6M157.2 57.6v6.8M55.9 130.4v7.1M262.9 24.0v3.0M116.4 117.6v8.0M230.8 108.0v4.5M93.0 40.5v13.6M102.4 21.3v8.7M274.5 112.1v3.6M104.5 39.2v9.4M156.1 85.0v12.8M267.7 129.0v13.5M289.0 46.5v7.5M283.8 0.8v4.1M143.2 -6.3v6.2M268.6 193.0v7.6M265.2 101.2v11.9M180.0 127.2v4.3M221.3 41.2v9.4M277.0 158.2v13.6M85.4 30.5v12.9M97.8 109.8v10.6M119.9 43.7v7.0M222.5 100.0v3.8M207.2 145.7v8.2M252.3 131.1v3.1M222.8 89.8v10.8M96.1 126.0v13.5M106.4 155.0v7.7M93.1 191.2v7.5M276.5 191.9v5.6M139.8 144.4v10.3M79.8 151.0v5.4M129.0 35.1v3.4M165.5 18.6v7.6M208.1 6.3v13.4M141.4 111.2v10.7M98.2 81.8v8.3M230.1 -6.3v4.8M293.7 67.6v11.4M210.8 165.5v10.0M294.4 138.0v5.2M124.2 150.9v5.8M200.5 162.5v12.3M196.6 173.8v5.2M198.3 -6.8v11.0M78.8 47.2v3.1M231.8 26.4v3.0M128.0 38.3v10.8M41.2 197.3v4.3M295.1 186.3v4.6M185.0 60.4v6.5M173.7 77.7v5.8M96.4 1.5v4.8M217.2 9.2v10.7M252.9 45.2v11.0M177.4 61.8v5.1M187.6 185.1v3.6M231.5 22.3v7.2M107.0 140.6v11.8M70.5 158.4v9.4M234.2 30.2v11.8M105.9 156.2v4.0M193.1 129.3v4.5M204.7 30.5v4.2M111.7 123.1v5.8M187.1 78.9v11.0M241.0 -3.5v5.4M215.6 51.1v10.6M278.3 119.1v5.3M220.4 55.3v5.9M122.7 23.0v11.5M230.0 163.7v13.5M126.0 156.8v6.5M62.7 141.4v9.7M86.1 8.7v8.7M287.1 21.8v12.7M103.5 87.0v4.3M183.7 96.4v7.0M183.3 140.4v11.5M89.8 12.3v7.3M116.9 91.5v10.4M141.1 36.6v8.2M244.6 139.6v7.1M285.0 83.8v13.3M77.7 119.9v8.0M121.1 123.7v3.4M278.9 196.0v4.4M208.3 87.8v6.3M246.5 4.4v11.5M75.9 81.8v7.3M294.7 9.7v3.6M246.8 50.5v4.5M89.9 12.4v4.8M261.3 101.7v4.9M248.0 26.5v7.7M86.4 61.0v5.7M68.3 194.1v5.9M275.4 145.5v12.9M292.1 89.3v9.6M173.4 50.6v10.9M81.2 144.1v5.1M66.6 191.2v11.9M117.2 61.2v5.8M300.7 88.5v4.6M127.8 169.5v4.9M135.0 146.4v5.1M258.8 77.9v12.5M54.9 110.7v11.4M277.7 117.4v13.5M265.7 58.7v12.0M150.4 45.9v7.1M149.3 64.1v4.2M281.5 37.7v7.5M274.6 123.5v11.3M283.8 41.3v11.8M230.3 198.0v11.3M111.2 160.7v10.2M263.3 69.9v4.5M137.1 103.2v12.0M264.4 62.5v12.3M80.1 174.6v13.3M220.6 146.3v10.2M273.8 0.1v9.0M138.7 85.7v11.6M269.7 154.3v5.4M117.5 61.5v4.1M63.1 58.7v11.8M81.9 37.7v3.7M98.5 145.6v8.1M254.0 74.4v13.5M213.1 55.1v12.8M278.0 88.8v11.1M272.2 55.4v9.3M208.4 12.2v12.1M174.3 98.9v7.6M216.4 174.9v5.3M145.5 66.1v13.5M81.0 136.1v13.1M210.9 -2.7v7.8M157.8 140.7v4.0M258.2 100.0v11.7M110.7 64.9v11.2M102.6 158.4v12.7M151.5 198.4v7.2M285.2 139.1v5.2M139.5 53.4v11.1M196.5 29.2v8.5M86.4 130.4v13.5M185.4 200.0v11.7M281.9 28.5v9.1M269.4 149.5v7.0M95.2 184.0v3.3M277.7 95.5v12.9M173.6 190.5v13.3M88.6 107.6v9.9M155.1 158.7v9.6M129.1 44.4v7.6M170.4 97.8v4.0M154.5 -8.8v10.9M108.2 147.2v5.8M97.3 98.5v9.6M95.0 179.9v9.4M239.2 141.4v10.8M118.1 139.2v12.2M54.6 184.3v13.4M76.0 83.0v3.8M220.3 157.3v4.6M213.2 86.6v14.0M245.3 60.6v5.7M105.1 31.8v7.5M127.6 119.8v4.8M85.9 35.9v5.1M181.5 56.3v5.0M163.5 90.7v13.7M289.3 92.1v8.2M206.8 31.6v4.6M86.3 25.5v10.7M144.7 193.1v6.9M142.2 79.3v10.6M93.0 72.3v12.5M53.9 110.2v12.3M138.6 143.0v9.9M146.3 183.2v7.8M194.5 52.6v10.3M290.1 144.4v4.6M266.3 66.8v11.7M222.0 113.9v6.7M184.2 188.4v7.4M95.3 28.3v12.9M53.3 158.1v6.6M177.5 90.7v7.0M133.9 178.0v8.9M208.3 185.2v8.2M151.7 59.9v9.7M113.5 155.1v7.1M145.2 71.4v13.0M122.0 103.2v6.7M87.1 162.5v10.6M121.5 -5.4v3.7M84.0 159.2v5.5M136.8 2.1v11.1M280.2 141.2v13.4M283.5 105.7v4.0M154.6 184.3v5.1M266.9 147.1v7.2M274.0 9.6v11.3M297.2 115.4v3.4M105.4 1.7v3.2M209.0 138.7v4.2M111.9 24.0v9.7M295.3 131.2v7.0M152.4 195.6v7.3M119.0 43.2v13.7M224.3 198.9v4.9M104.1 27.8v6.9M63.1 144.8v8.8M58.3 132.9v7.8M194.2 156.1v8.0M199.6 175.1v6.7M289.0 73.1v12.5M188.2 182.1v4.6M158.5 26.8v10.6M258.5 -9.0v11.6M55.0 98.1v11.8M221.0 77.0v9.3M152.4 143.0v13.6M284.2 190.7v9.8M150.1 56.4v6.0M248.8 179.8v11.7M300.6 162.5v10.6M243.5 56.8v5.9M91.3 118.3v12.4M122.5 92.6v13.2M287.1 7.4v11.3M247.5 21.3v9.3M195.1 180.5v7.7M63.1 186.0v11.5M137.3 11.6v4.3M158.6 173.0v11.0M238.3 43.9v10.1M187.3 10.5v10.9M221.1 35.0v6.1M283.2 67.8v13.4M149.5 199.6v9.3M241.0 159.8v8.0M148.3 171.4v13.5M83.7 89.3v11.2M228.6 20.4v3.6M180.4 197.5v11.1M219.1 17.5v7.1M258.7 42.3v3.4M75.7 90.4v12.4M52.1 177.6v8.1M233.0 88.5v11.0M286.4 62.1v5.0M260.1 18.7v4.3M185.5 29.0v6.7M286.6 24.4v8.2M110.9 155.0v13.0M280.8 36.4v9.7M242.2 193.9v9.9M266.7 101.9v7.9M283.3 10.7v11.9M238.3 133.2v5.6M259.0 87.3v13.6M83.0 183.9v10.5M154.1 106.4v4.8M180.3 18.8v8.4M150.8 46.2v9.1M198.0 150.0v4.8M139.0 176.1v13.6M73.9 196.1v9.4M139.8 193.0v9.0M65.1 55.9v5.3M137.9 16.0v9.9M290.0 108.2v10.5M290.5 66.1v10.0M268.6 104.1v10.4M205.2 65.7v6.3M102.3 193.5v13.7M79.0 3.5v9.1M186.6 33.2v4.3M217.8 165.7v10.5M300.9 184.6v10.5M49.2 139.8v3.5M295.3 79.6v6.4M54.6 109.4v7.6M196.0 179.5v12.1M123.6 -7.3v5.0M71.7 164.8v13.3M274.2 46.2v8.7M294.7 57.9v7.5M66.3 136.5v12.1M65.9 196.1v11.2M97.7 46.8v7.0M291.3 129.0v13.9M202.2 198.7v10.2M239.1 23.8v9.1M278.3 65.4v5.8M107.8 19.7v4.6M253.0 113.6v4.8M196.9 95.6v9.2M189.8 76.7v3.2M172.7 2.2v5.6M109.3 148.9v12.1M86.2 40.7v8.3M138.4 71.4v11.4M224.6 36.7v12.2M179.5 85.1v13.2M97.1 116.8v3.8M150.9 7.3v4.0M157.5 126.3v6.4M287.2 97.6v5.7M141.3 22.5v6.6M226.3 181.1v7.7M80.0 24.9v4.3M212.2 168.0v4.7M65.8 121.3v8.6M81.3 60.4v11.2M178.5 140.5v4.8M159.7 130.6v10.3M280.8 9.2v3.0M160.1 36.8v5.2M231.7 8.4v13.9M121.7 60.3v10.4M160.6 36.7v10.6M93.4 80.4v3.8M300.7 104.0v13.1M189.1 11.0v8.4M225.2 30.7v8.5M121.2 159.8v13.3M167.7 161.1v4.6M85.6 91.6v10.5M196.0 136.5v13.7M238.9 -0.5v11.8M147.2 13.7v3.6M233.5 112.4v6.8M142.4 136.0v10.8M297.7 48.2v7.8M98.6 -9.2v11.0M209.1 171.6v4.7M229.7 173.1v4.3M221.7 69.9v3.0M157.6 -1.1v12.6M120.5 199.2v13.0M268.4 155.1v9.5M208.5 193.6v13.4M101.7 108.8v8.7M138.0 91.4v7.1M200.3 97.2v5.4M183.0 48.3v8.5M219.7 77.9v5.0M122.1 101.7v11.5M247.4 137.8v8.7M285.2 42.3v8.6M127.3 68.8v7.4M256.9 138.8v8.3M102.5 143.5v8.0M131.5 65.2v7.0M234.9 148.5v5.3M251.6 39.1v10.2M210.7 132.0v10.6M76.6 47.3v7.0M294.4 -3.2v8.8" stroke="#fff" stroke-width="0.60" opacity="0.70" fill="none"/>
<path d="M294.0 207.5v13.3M129.5 182.8v3.5M231.5 214.6v8.8M109.9 190.7v8.8M274.7 209.9v13.9M149.9 218.6v7.4M296.2 187.6v4.6M115.8 178.8v14.9M120.6 217.8v8.2M146.4 219.9v4.7M133.1 213.3v3.7M149.7 220.6v5.4M102.7 203.3v2.3M138.5 191.8v2.2M239.8 190.8v6.7M201.5 208.1v4.6M218.8 171.1v10.6M92.7 186.5v14.0M93.3 220.9v5.1M120.9 202.2v2.5M209.3 188.2v10.4M68.3 198.6v5.0M149.3 187.4v7.1M61.2 220.5v5.5M265.4 183.5v5.4M135.6 202.9v2.5M251.4 214.6v5.8M161.4 213.5v12.5M142.7 173.0v5.2M243.2 205.0v13.8M138.7 200.7v13.2M111.1 175.9v12.5M301.1 194.7v3.3M93.2 195.9v2.0M67.5 175.2v7.2M172.2 194.2v6.1M172.1 209.3v15.7M175.5 179.5v8.9M266.3 190.8v4.9M127.6 219.1v6.7M185.4 204.4v6.0M291.4 174.7v7.2M213.9 176.4v9.4M126.0 188.3v13.8M149.3 189.0v15.4M144.9 190.2v4.3M212.5 207.1v8.2M99.5 192.7v13.1M258.2 195.6v7.2M39.7 211.1v5.1M215.9 223.8v2.2M162.0 197.8v4.8M210.5 179.7v11.7M209.8 184.5v3.9M80.0 204.3v9.1M184.7 187.6v3.9M200.7 197.1v3.9M218.4 187.3v9.6M243.7 204.5v10.0M157.2 182.4v13.6M236.7 201.7v7.1M295.0 195.1v13.5M61.9 206.6v10.6M285.9 171.9v15.6M104.5 210.8v13.8M258.1 179.9v9.3M274.6 170.9v8.2M218.1 216.5v9.5M85.5 218.3v7.7M46.0 189.0v6.7M62.9 173.7v10.7M84.8 176.8v6.1M282.0 185.6v14.7M300.2 218.7v7.3M107.4 214.6v11.4M230.1 215.4v5.2M283.6 175.1v9.7M265.8 204.3v4.0M158.0 209.2v13.0M89.1 195.5v15.4M236.0 185.7v13.6M223.1 183.9v7.5M98.2 182.5v15.4M173.4 190.6v9.0M239.3 171.5v12.4M127.4 219.1v4.9M232.3 189.5v11.2M176.9 192.7v4.2M158.4 221.4v4.6M84.9 214.1v11.9M253.5 189.8v3.3M207.3 185.5v8.8M191.5 191.1v5.0M37.6 194.5v13.2M258.6 184.2v9.7M202.4 203.7v3.8M110.6 213.5v12.5M215.5 214.0v12.0M216.1 194.5v15.3M68.3 180.6v7.8M75.4 198.5v5.1M135.9 218.5v4.1M192.8 180.2v4.7M179.7 196.6v8.2M259.4 198.2v2.2M83.7 222.1v2.5M186.2 213.0v9.5M245.8 182.2v6.3M93.9 210.7v10.0M133.5 206.3v8.7M210.7 173.7v11.7M186.1 178.6v12.3M261.2 175.7v14.2M108.6 172.8v3.2M63.5 184.1v8.9M119.5 184.0v8.5M247.0 190.8v12.1M101.5 176.4v2.1M67.8 188.4v11.8M301.9 213.7v4.9M240.2 172.1v7.8M136.6 222.1v3.9M289.5 174.1v9.2M153.3 194.7v12.8M160.2 216.5v4.5M274.2 192.8v7.7M184.1 207.0v8.5M100.2 202.2v9.8M51.8 218.4v7.2M297.1 219.3v2.2M203.9 205.1v13.8M71.3 196.3v6.2M229.4 209.9v4.9M210.4 206.0v11.2M158.7 171.2v6.5M124.6 203.4v3.8M110.4 207.5v13.1M183.5 187.1v13.3M233.2 176.5v3.0M36.0 222.4v3.6M86.0 190.6v7.5M146.6 198.1v3.7M115.6 199.3v15.5M153.5 191.5v5.2M116.9 224.3v1.7M137.6 216.6v9.4M69.1 185.6v2.6M269.4 195.1v4.8M239.9 194.7v5.9M177.9 178.5v8.0M274.9 222.6v3.4M146.3 201.4v2.5M280.5 194.9v6.2M225.1 202.8v2.9M59.1 221.8v4.2M37.4 210.1v7.3M166.2 177.1v2.2M100.7 178.5v3.1M94.4 175.1v9.2M256.5 177.7v7.8M104.0 184.1v13.8M236.3 172.6v3.4M140.8 222.9v3.1M57.4 218.3v2.9M191.5 208.8v12.1M170.9 185.6v4.6M112.0 194.5v10.2M112.2 186.7v11.0M251.5 174.8v8.9M71.4 182.8v9.1M228.0 198.2v7.2M274.5 193.1v5.8M273.5 224.9v1.1M99.5 222.8v3.2M88.7 204.3v16.0M251.7 206.3v9.8M267.6 174.5v4.5M202.3 184.5v4.7M226.7 195.9v3.3M61.2 207.0v8.7M218.6 206.4v2.6M292.6 180.7v7.5M136.8 193.8v11.7M208.1 211.5v7.6M172.9 201.9v4.6M293.4 223.2v2.8M235.6 183.5v12.0M257.4 222.6v3.4M247.2 185.0v8.7M136.7 187.5v13.2M260.6 217.2v8.8M83.0 179.5v10.0M129.6 181.9v3.4M229.4 178.7v5.1M120.0 217.5v8.5M110.3 186.9v7.5M157.2 170.7v7.3M267.2 170.7v7.3M292.8 170.0v5.2M47.2 184.2v3.4M189.8 209.7v9.1M116.1 183.8v15.6M300.2 190.8v14.4M263.6 177.0v2.3M251.4 209.8v11.7M252.8 200.8v4.2M106.2 200.2v7.6M226.9 180.7v10.0M201.9 213.6v10.4M251.7 221.6v4.4M284.0 188.3v7.2M130.2 175.7v11.9M206.0 222.2v3.8M242.2 222.5v3.5M239.0 195.9v6.4M204.3 176.1v13.3M220.1 183.9v14.5M78.5 177.1v8.9M289.7 188.7v16.0M247.9 195.0v10.8M295.7 179.7v4.4M161.3 174.3v2.2M146.1 196.9v15.4M263.1 193.2v12.9M98.1 202.8v6.3M141.4 197.5v11.0M122.0 198.3v10.5M68.9 170.7v2.8M259.6 193.7v11.8M258.3 224.1v1.9M37.7 202.5v7.4M203.5 184.7v2.9M135.6 200.4v8.9M64.9 192.6v12.2M193.6 214.8v3.6M268.3 203.6v15.8M43.9 212.5v13.5M107.6 207.2v14.9M274.4 216.3v5.5M136.1 202.3v6.1M198.9 212.6v6.6M283.8 200.4v9.9M184.3 221.2v4.8M163.4 171.6v9.7M294.5 210.7v10.7M205.4 196.8v9.5M288.6 209.5v2.2M270.4 187.9v2.8M39.4 214.3v11.1M95.6 214.8v7.3M225.7 182.7v9.4M121.5 203.9v10.2M242.5 223.4v2.6M176.2 183.8v7.4M251.1 189.4v4.4M242.4 201.3v15.1M114.6 171.0v8.9M73.8 222.4v3.6M183.1 192.2v15.0M129.5 173.6v4.2M122.0 177.5v11.8M67.0 202.5v13.2M73.9 198.4v13.5M89.6 216.0v10.0M93.1 215.4v2.0M255.5 218.6v3.4M241.4 212.9v10.9M298.9 216.6v6.6M281.5 216.7v6.4M217.7 208.3v13.9M108.5 201.7v5.5M71.2 200.4v14.0M95.9 219.8v6.2M65.8 207.7v12.9M114.6 212.9v3.4M243.0 185.8v8.5M74.1 215.7v3.5M271.3 189.5v4.3M239.0 174.1v3.3M55.5 207.4v5.5M268.9 207.2v7.7M45.1 195.2v6.8M247.6 183.6v12.0M175.7 213.9v11.8M143.3 177.1v6.1M234.5 185.8v5.0M113.9 188.2v14.1M163.0 205.8v7.3M286.4 221.6v4.4M266.1 201.7v5.6M67.8 184.5v9.0M73.9 213.0v8.1M160.6 225.5v0.5M273.6 217.0v7.3M208.6 176.9v12.4M209.9 221.7v4.3M112.4 198.8v8.2M279.6 196.2v14.7M160.1 221.9v4.1M282.5 177.8v11.0M142.8 218.9v7.1M263.7 171.4v13.5M257.7 191.0v5.0M158.7 212.1v7.8M250.8 181.0v12.2M297.3 175.0v5.1M148.1 191.0v10.1M288.0 219.9v6.1M67.0 190.5v3.0M191.5 199.1v8.3M142.0 225.0v1.0M83.1 193.4v15.1M180.1 203.1v8.0M123.6 184.0v8.9M297.5 195.0v9.9M55.7 181.6v4.2M245.6 189.4v14.4M245.5 183.2v8.2M177.8 200.1v2.6M217.0 173.7v11.6M281.6 191.3v13.5M57.5 186.9v9.7M93.7 206.6v2.6M45.1 197.3v12.3M108.8 205.0v8.2M89.9 183.0v4.5M154.1 215.7v10.3M252.0 189.5v10.3M139.1 206.6v9.9M296.2 180.7v11.4M206.2 199.8v3.4M100.1 188.7v13.8M159.5 170.7v14.2M226.6 213.8v6.2M225.6 183.0v6.2M126.9 210.5v12.6M253.4 202.1v15.8M299.4 191.2v2.1M38.0 219.1v6.9M242.0 191.7v6.4M246.6 181.7v9.7M164.4 212.3v2.5M90.6 213.2v8.6M111.6 170.0v11.3M204.3 212.8v8.2M213.2 211.0v4.9M195.2 200.0v12.2M123.0 181.1v6.8M134.2 175.4v12.2M80.8 202.3v12.2M238.4 176.5v4.1M109.1 175.4v9.2M272.6 185.1v15.1M237.3 185.9v11.7M103.0 201.4v15.3M32.4 223.6v2.4M91.8 188.0v8.0M36.1 220.3v5.7M43.3 187.3v14.6M96.1 185.2v3.6M70.2 190.6v4.5M192.5 184.0v8.2M178.2 187.1v12.8M125.1 210.5v14.9M183.8 214.3v8.7M74.7 188.5v14.4M60.4 204.1v15.0M38.9 219.7v6.3M181.4 183.3v13.7M170.5 189.6v11.3M205.5 180.8v8.0M80.0 225.0v1.0M115.3 172.3v3.6M180.3 178.3v4.4M57.1 214.5v10.7M64.6 218.2v5.0M159.1 212.8v13.2M144.2 188.9v15.4M294.1 189.3v14.5M184.4 181.2v15.2M263.8 176.6v12.8M194.7 212.0v3.4M56.8 223.7v2.3M118.1 210.5v11.6M236.9 193.0v2.6M134.4 222.3v3.7M253.0 196.4v6.2M41.6 200.5v8.8M266.6 174.4v11.5M296.2 193.8v15.3M51.4 223.6v2.4M196.2 210.7v2.2M149.3 221.7v4.3M105.6 215.6v2.4M103.3 221.7v2.6M301.7 177.7v12.4M79.9 181.8v14.6M190.4 207.2v3.8M288.8 193.1v2.0M52.6 193.5v16.0M291.0 175.8v13.8M43.4 211.0v11.7M167.1 197.6v4.0M250.0 198.7v3.8M144.6 219.1v5.7M161.5 183.4v11.1M273.5 201.9v9.2M300.0 198.7v5.0M129.5 170.9v6.4M151.9 176.9v2.5M161.9 221.6v4.4M229.9 209.1v12.6M231.7 186.9v4.9M194.4 201.1v12.9M132.1 179.4v13.5M297.0 215.1v3.7M69.5 181.8v12.1M207.5 211.7v12.9M185.9 198.9v14.9M210.2 206.3v10.2M238.0 197.7v10.0M153.9 177.2v7.9M186.3 194.2v7.1M151.1 191.9v7.2M53.4 224.4v1.6M139.2 210.4v8.3M132.8 203.1v5.3M270.4 170.9v15.1M162.5 186.0v6.5M275.2 173.3v13.7M107.8 183.5v11.8M158.7 214.6v7.4M250.2 183.1v14.1M61.3 218.0v8.0M224.8 225.2v0.8M58.7 178.1v12.2M253.6 173.8v11.3M274.1 196.5v15.1M60.6 204.5v10.2M103.7 193.6v15.0M64.9 210.9v5.2M190.3 189.2v6.5M253.4 194.6v4.5M121.7 210.3v15.2M118.6 223.3v2.7M150.1 176.2v10.7M125.8 205.7v2.5M188.9 177.0v4.4M202.6 187.1v14.6M103.6 198.9v10.2M245.8 185.4v4.2M155.7 184.7v14.7M92.6 179.3v3.8M128.4 182.0v7.5M141.1 212.5v8.7M243.2 192.2v14.6M282.1 193.8v5.5M172.7 224.8v1.2M110.1 191.4v3.9M128.0 219.6v6.4M176.9 195.8v4.9M130.0 179.9v11.5M35.5 200.4v12.0M55.5 194.3v5.6M256.7 181.9v9.7M104.9 188.3v6.1M131.3 185.7v13.1M220.9 214.2v11.8M63.8 206.6v2.6M109.8 179.2v9.4M190.1 216.0v8.0M298.2 183.6v12.5M51.2 189.1v15.7M263.1 184.3v3.6M129.3 206.6v14.4M66.5 186.6v4.8M297.2 215.1v10.9M109.0 208.2v5.8M299.1 174.9v2.6M128.0 204.3v4.6M284.6 194.4v5.5M206.5 179.2v11.2M83.6 198.6v14.2M88.7 176.2v5.4M162.9 198.8v9.8M274.3 210.7v8.6M259.3 172.3v2.3M77.3 187.8v10.4M66.2 213.8v6.1M218.2 217.7v3.5M247.3 208.4v7.7M214.2 178.7v6.5M85.9 177.5v7.6M143.3 177.1v9.7M143.1 200.9v13.2M129.4 174.9v15.1M281.4 218.4v7.6M246.1 200.0v10.0M109.7 176.6v3.4M117.8 219.0v7.0M62.0 200.1v11.9M247.5 214.6v11.4M77.9 187.8v12.7M133.0 208.8v6.8M259.2 178.6v8.4M123.2 215.5v6.5M234.9 198.7v14.4M222.0 189.8v7.7M237.5 218.2v7.8M111.0 190.3v14.4M113.9 214.9v3.2M293.7 180.9v2.5M174.7 215.4v9.8M144.9 200.2v9.8M282.2 175.0v3.4M217.9 177.8v11.0M219.3 215.2v10.8M47.1 172.9v5.3M72.7 213.6v9.4M73.8 213.1v9.4M233.9 220.4v5.6M110.3 196.8v15.4M216.1 213.8v6.3M163.9 211.0v13.2M271.7 190.4v11.6M186.6 195.2v13.3M292.3 199.6v2.1M224.8 220.2v5.8M70.8 217.6v6.7M255.2 210.0v7.2M63.2 176.9v10.0M108.3 188.0v8.3M279.4 174.4v13.7M153.9 201.3v6.3M127.3 203.8v15.7M228.1 223.5v2.5M76.1 174.2v6.8M153.0 177.1v15.8M291.7 216.7v5.1M47.6 182.4v5.8M180.9 173.2v6.2M184.4 207.7v10.4M233.2 186.8v11.6M159.8 210.0v8.5M50.7 186.0v8.5M83.9 204.5v14.0M263.0 219.2v6.8M82.9 197.3v5.8M298.8 211.3v3.6M136.0 170.4v6.9M64.2 203.5v13.8M278.9 188.9v6.6M86.1 187.1v15.5M256.1 203.0v2.9M231.4 200.4v15.8M57.5 222.5v3.5M47.5 184.2v15.2M187.7 184.8v7.0M285.2 202.3v15.3M100.0 219.1v6.9M152.2 171.0v15.2M137.1 184.3v10.1M226.6 183.3v11.1M282.3 175.3v3.0M126.7 209.0v4.0M302.4 174.4v13.2M248.3 195.7v15.6M175.0 221.9v4.1M298.0 199.0v12.2M260.6 207.5v7.7M262.4 201.3v4.8M36.8 218.1v7.9M73.7 202.2v14.9M86.2 194.6v7.8M149.5 203.1v2.0M228.7 175.2v3.8M252.5 184.3v14.1M77.5 219.4v2.1M194.1 212.2v7.1M156.1 171.0v5.3M297.8 202.9v4.9M223.9 174.2v3.5M156.3 182.5v15.8M122.7 188.2v8.7M147.3 179.1v11.8M249.3 188.1v4.6M206.3 175.7v8.3M58.1 221.4v4.6M132.9 207.5v3.8M237.9 204.3v8.6M219.2 196.5v10.5M86.8 193.7v8.5M275.2 200.8v15.9M122.8 201.2v5.1M232.5 205.3v5.5M302.8 208.7v7.5" stroke="#fff" stroke-width="0.80" opacity="0.55" fill="none"/>
<path d="M148.4 224.7v1.3M84.6 223.2v2.8M233.5 215.0v5.4M212.3 224.5v1.0M43.1 206.5v4.0M175.2 205.6v5.4M264.1 209.2v3.9M126.7 225.2v0.8M102.2 216.4v6.5M100.8 205.1v3.2M166.1 223.5v1.3M197.1 211.3v6.7M243.4 207.3v3.7M145.3 216.0v4.1M221.0 220.5v2.0M257.4 205.7v5.7M115.4 218.2v2.9M174.6 224.3v1.1M126.3 212.2v1.5M146.1 205.1v1.8M250.9 220.2v5.8M62.3 221.6v1.1M260.4 206.9v6.8M94.5 215.8v7.0M120.7 207.5v1.0M188.3 221.8v4.2M283.0 221.3v4.7M235.7 206.7v2.6M124.4 211.8v7.9M150.6 206.3v1.9M239.6 215.9v3.4M233.5 213.7v5.9M113.6 223.6v2.4M186.3 220.5v3.9M51.3 216.9v1.7M65.2 211.5v1.3M229.6 220.1v5.3M227.8 209.3v6.8M92.2 218.0v5.0M104.4 213.3v2.0M202.2 223.2v2.8M104.0 208.6v4.6M114.8 206.2v4.8M278.4 215.1v5.0M189.8 218.4v6.5M31.6 212.7v7.9M63.9 221.6v1.8M210.4 209.7v1.9M166.7 205.4v1.0M135.6 210.4v2.4M103.6 205.1v2.7M144.1 211.8v3.5M36.9 211.8v6.9M164.3 220.5v1.0M276.1 209.9v4.2M254.3 209.3v7.2M168.2 207.6v4.9M119.2 207.5v5.3M201.5 219.1v5.3M50.1 212.9v1.1M266.0 222.6v3.4M240.8 206.6v2.2M85.9 212.3v7.0M257.2 222.2v3.7M99.9 224.7v1.3M93.7 219.1v3.7M248.1 207.1v2.3M107.9 207.9v5.5M173.2 218.4v7.0M86.8 220.8v4.7M98.0 208.6v2.0M127.7 206.6v7.2M53.9 218.8v2.5M174.7 217.4v1.2M185.8 207.0v5.2M241.7 206.7v2.7M174.7 217.4v3.4M137.1 224.9v1.1M259.3 216.3v7.9M176.8 221.2v4.8M291.9 218.4v7.6M88.6 221.0v5.0M93.9 214.2v6.5M224.4 209.6v4.4M223.2 214.0v6.1M213.4 210.5v4.5M151.2 224.7v1.3M160.2 205.5v4.7M60.3 211.5v4.4M79.5 206.5v4.1M167.3 212.3v4.7M67.6 213.2v1.1M294.9 216.7v3.0M118.2 212.4v6.2M247.4 215.4v1.0M88.5 207.8v3.6M136.0 213.4v7.8M187.6 214.2v7.7M192.3 218.5v6.8M41.4 212.0v7.7M189.1 216.2v1.5M131.7 220.6v5.4M280.8 211.0v3.6M274.2 210.8v2.6M164.0 210.7v7.9M89.7 207.4v6.6M145.0 206.6v6.5M246.5 220.0v1.8M126.7 223.7v2.3M273.4 214.9v4.3M72.9 210.4v4.5M77.5 206.0v7.1M265.7 217.1v2.1M158.3 215.1v1.8M281.8 210.5v6.1M196.6 215.7v7.0M191.7 225.0v1.0M74.0 223.3v2.7M171.2 207.9v5.1M158.8 214.7v2.0M176.6 220.1v3.2M286.3 222.5v3.5M100.8 214.4v6.2M66.7 224.0v2.0M272.5 225.3v0.7M156.2 207.2v4.6M80.2 221.5v3.0M235.7 207.0v4.0M89.9 224.4v1.6M45.2 209.8v1.6M138.0 206.6v7.8M226.1 212.5v1.2M177.5 215.8v1.7M151.9 217.2v3.3M218.5 222.4v1.8M47.1 207.2v2.8M294.4 218.4v7.6M63.0 223.2v2.8M158.7 221.0v5.0M62.5 217.6v2.5M197.8 207.7v5.4M31.7 223.0v1.1M100.4 225.4v0.6M59.4 223.2v2.8M182.9 223.8v2.2M197.0 205.1v5.3M170.9 221.2v1.8M209.1 209.7v1.6M100.7 207.2v6.6M127.7 216.5v7.7M95.4 217.2v5.0M129.9 223.0v3.0M299.5 217.1v5.5M190.0 208.8v3.2M224.9 214.9v1.1M116.2 215.7v5.2M157.1 222.2v3.8M101.3 211.1v4.6M91.4 216.2v6.4M127.5 215.5v2.8M276.2 222.6v3.4M51.4 210.2v5.4M264.3 205.5v5.8M151.4 212.1v5.8M131.3 208.4v6.5M189.7 219.3v1.7M101.8 209.6v1.2M186.4 218.4v7.5M280.8 216.6v4.3M107.2 215.9v4.2M162.4 224.7v1.0M85.2 212.4v5.4M160.2 215.7v7.5M53.3 221.0v1.2M192.8 219.7v5.6M40.4 215.5v4.2M193.9 222.5v1.3M277.3 207.6v4.8M223.7 208.5v7.5M205.8 223.2v2.8M158.2 206.8v6.7M70.6 212.2v7.1M31.7 219.8v1.4M290.4 216.7v5.3M57.7 223.4v2.6M122.3 208.8v2.0M43.4 214.7v5.6M277.0 218.6v6.4M267.6 206.6v4.8M163.6 224.7v1.3M77.0 219.8v6.2M276.4 216.3v4.4M211.4 211.9v6.0M105.9 214.7v3.9M92.1 220.0v2.1M209.9 215.2v1.5M295.3 210.7v2.9M113.0 221.2v1.6M267.5 215.2v6.4M223.0 206.0v5.3M211.7 215.1v4.7M220.6 208.8v1.9M262.7 211.5v5.0M224.0 215.7v4.4M181.4 213.1v1.2M42.2 212.4v8.0M208.0 224.1v1.9M106.5 223.0v3.0M195.1 218.7v6.2M258.1 210.6v4.8M259.2 220.9v2.8M129.5 213.6v1.5M216.8 223.4v2.6M270.2 216.5v1.5M217.8 212.5v4.7M101.1 215.4v2.6M123.0 219.1v6.9M294.8 223.9v2.1M59.0 215.8v3.5M168.5 206.6v7.7M128.9 221.0v2.9M43.0 224.6v1.4M47.8 223.0v3.0M136.2 218.6v4.0M173.9 217.8v7.1M118.3 223.8v1.1M206.6 221.4v4.6M53.6 206.6v7.3M159.8 212.6v7.8M204.3 209.1v1.4M231.8 216.8v2.1M294.4 221.0v5.0M288.6 221.6v4.4M255.1 216.5v6.6M212.6 218.2v2.2M119.9 212.1v7.0M108.9 221.4v4.6M49.9 206.2v3.3M289.5 206.6v3.5M263.6 213.2v4.7M150.1 218.2v4.2M104.6 225.1v0.9M69.2 215.0v2.0M248.2 215.6v4.0M285.5 206.2v2.0M41.2 223.6v2.4M103.1 208.1v4.0M148.5 220.9v3.9M172.8 213.4v3.0M80.7 225.0v1.0M126.2 216.5v6.0M215.8 205.8v3.6M110.9 224.5v1.5M176.4 211.7v3.0M142.3 219.1v6.0M155.7 211.1v4.9M208.0 220.1v4.0M63.4 206.8v2.0M82.1 208.9v5.6M278.0 212.2v2.6M81.7 210.2v2.0M187.8 219.3v2.8M214.2 222.0v4.0M209.3 217.8v4.1M131.5 206.9v7.6M204.9 212.8v1.6M265.8 221.3v3.6M170.7 212.8v2.8M67.2 209.4v5.8M291.1 215.7v7.7M287.8 223.4v2.6M68.4 205.5v7.8M197.7 223.3v2.7M146.6 214.2v2.0M105.3 216.5v1.9M186.4 223.3v2.7M188.3 211.2v2.9M86.3 222.4v3.6M119.2 216.7v1.6M173.1 215.2v6.7M82.6 209.3v3.1M92.8 221.9v4.1M55.6 205.7v6.0M61.4 215.4v4.3M135.9 224.8v1.2M168.5 213.8v1.3M187.7 223.5v2.5M82.6 211.0v7.5M132.7 222.7v3.3M85.0 216.6v1.2M74.0 220.4v5.0M39.4 205.4v2.1" stroke="#fff" stroke-width="0.80" opacity="0.70" fill="none"/>
<path d="M101.5 81.5v29.8M108.3 82.4v6.3M111.0 124.1v26.6M86.7 -4.1v17.4M118.0 20.3v7.8M137.1 71.3v22.8M96.1 14.3v20.8M79.8 89.6v13.1M118.8 85.6v27.5M91.3 105.5v20.4M82.3 26.6v29.3M124.3 123.0v25.7M86.4 85.0v25.3M119.0 53.6v25.1M107.0 81.6v27.0M176.9 -5.5v17.2M86.3 3.6v8.1M136.4 113.5v9.2M97.0 95.5v15.8M106.0 73.5v28.8M107.0 61.1v17.1M96.1 47.7v8.7M81.1 86.9v24.3M122.8 66.0v8.3M107.0 2.9v27.1M141.6 111.3v24.0M111.7 103.0v26.6M124.5 16.1v18.3M114.3 91.7v13.3M119.3 111.4v16.1M111.5 21.3v22.9M98.0 40.6v17.8M79.1 -8.3v12.9M79.3 66.4v11.0M138.8 -1.0v9.7M108.7 109.2v7.0M109.2 28.0v10.2M82.5 32.9v16.7M102.6 22.7v8.7M99.0 62.8v8.1M127.1 66.8v23.9M82.2 76.2v20.6M141.3 15.6v22.9M161.7 103.5v16.0M112.7 29.6v26.9M92.5 68.4v24.4M101.1 28.9v15.0M107.7 56.4v22.0M86.5 13.6v9.9M85.9 33.8v29.6M79.7 41.3v6.9M139.3 123.7v6.8M144.6 96.7v24.1M150.2 -9.0v14.6M112.4 1.8v14.3M110.7 93.4v29.2M143.3 108.1v28.0M105.1 115.3v18.6M126.0 13.8v11.3M101.4 17.4v13.8M104.4 97.5v25.9M86.0 2.2v18.2M134.8 78.5v22.7M94.0 46.8v20.0M128.0 9.6v24.0M100.2 -7.8v19.1M125.2 90.1v17.4M92.2 56.8v7.8M132.4 61.4v20.1M138.7 26.3v11.6M121.9 115.3v27.1M131.4 93.0v19.3M80.9 -8.8v21.1M108.6 5.8v17.9M129.2 83.9v27.8M159.5 77.2v25.6M127.7 113.8v23.1M83.9 110.4v7.7M133.7 107.2v25.2M112.9 86.1v27.6M77.3 102.5v29.0M93.1 70.3v22.1M110.2 46.0v18.2M132.3 20.2v26.3M95.6 108.5v22.5M104.5 61.4v22.0M114.7 -9.0v29.3M112.7 18.8v7.9M87.4 25.7v6.8M89.1 101.8v26.8M80.9 26.0v14.9M79.8 53.1v19.1M152.5 85.3v6.1M153.3 27.0v25.8M79.4 25.0v22.3M94.7 16.8v13.6M158.9 63.8v26.0M103.9 100.2v22.6M149.6 37.6v13.8M105.2 93.6v9.2M112.1 23.7v6.3M114.2 -3.7v9.2M149.5 114.4v24.0M126.5 101.3v19.0M101.2 128.9v15.3M132.4 126.6v28.9M116.6 33.4v13.6M83.9 81.3v22.5M77.5 15.5v23.3M85.8 60.9v8.6M89.8 73.7v24.6M161.7 84.2v17.5M101.9 27.6v15.5M107.1 53.8v20.1M130.0 114.6v12.6M152.1 15.8v26.4M149.9 118.7v14.6M85.0 116.6v29.5M127.7 129.0v7.6M109.9 25.0v6.4M112.3 25.5v22.4M150.3 11.6v13.9M150.5 2.7v8.5M84.0 102.0v7.0M86.2 102.6v21.6M87.7 32.0v8.0M79.6 -3.5v11.3M91.9 118.1v7.1M99.2 3.2v9.5M97.3 83.2v11.6M138.0 56.7v26.9M96.1 78.3v20.9M83.6 -1.5v24.7M103.2 62.1v17.8M107.5 95.8v12.7M137.8 62.3v6.1M84.6 62.9v23.3M109.4 19.3v20.0M113.4 71.1v18.2M83.9 86.4v18.4M96.8 99.8v8.9M126.7 26.3v14.5M128.7 58.8v29.9M121.2 92.8v22.8M144.9 119.4v21.1M120.8 124.2v27.1M126.1 102.5v9.5M117.2 102.9v14.4M93.6 54.9v27.5M91.1 118.3v10.2M180.6 41.7v10.8M142.4 37.6v17.4M98.7 8.5v15.9M96.4 24.6v13.9M86.5 -6.7v24.1M128.7 113.0v12.3M146.8 87.5v29.2M106.3 81.5v7.2M116.5 29.7v29.5M103.1 10.3v7.9M92.3 126.0v25.5M142.1 94.9v11.8M106.1 -4.5v7.9M142.9 16.4v28.1M129.6 100.5v29.3M147.6 12.3v15.2M154.5 102.8v24.9M89.0 66.2v14.1M154.5 -4.1v23.4M91.2 61.0v10.8M138.0 29.1v26.4M145.5 88.4v23.4M112.8 -4.6v12.2M94.2 97.0v22.4M166.6 17.6v21.4M179.1 87.2v26.1M122.1 115.6v18.5M81.3 81.1v21.6M90.9 62.2v17.8M106.4 -5.4v15.9M119.1 36.9v11.3M92.3 33.7v27.3M86.1 53.9v9.0M92.5 62.2v24.7M143.7 44.2v29.1M98.7 75.3v14.3M104.7 5.8v15.7M98.0 114.6v24.1M91.9 69.8v9.2M103.9 129.5v20.3M155.9 16.6v22.9M97.7 91.7v12.1M91.0 58.2v21.4M156.2 117.3v24.6M100.7 -8.1v18.8M116.9 0.4v22.0M158.6 111.4v18.2M151.4 101.3v27.4M123.9 121.4v11.0M137.1 10.4v16.1M80.6 89.0v19.4M116.2 123.4v21.8M116.9 -10.0v6.5M88.4 8.5v8.7M108.0 32.0v18.6M152.4 -5.7v22.2M155.7 46.7v17.5M77.0 42.1v7.2M159.1 15.2v19.2M90.4 124.5v8.7M122.4 65.5v29.5M102.2 89.0v12.2M108.0 51.1v15.1M156.1 69.0v16.1M118.6 128.2v18.1M88.2 95.5v23.7M94.7 43.4v10.8M175.7 76.4v10.6M122.9 14.5v23.7M84.2 -7.1v8.2M79.9 123.1v20.7M80.4 107.7v16.7M168.9 109.8v24.7M90.4 80.7v9.6M108.3 1.7v20.6M142.2 86.2v19.6M133.2 125.6v25.7M97.3 124.5v16.6M112.7 48.6v9.0M130.2 0.4v10.2M122.0 115.9v27.0M82.9 68.8v27.5M114.3 89.6v11.8M126.9 69.0v25.9M99.8 -4.0v14.1M106.8 48.8v29.6M122.5 129.1v29.0M108.0 123.8v19.5M89.6 17.7v17.7M81.5 96.7v21.0M106.3 87.3v9.1M161.8 54.3v10.3M120.3 127.3v9.2M162.3 50.9v20.6M137.3 22.0v21.3M176.8 119.6v23.2M111.1 71.5v16.1M123.0 -8.4v18.6M77.3 37.0v14.2M88.3 108.4v25.1" stroke="#fff" stroke-width="0.80" opacity="0.55" fill="none"/>
<g clip-path="url(#clipE)"><path transform="scale(0.1)" d="M265 2270l12-9 12-8 12-11 12-4 12-9 12-13 12-22 12-13 12-6 12-21 12-21 12-3 12-32 12 7 12-18 12-11 12-5 12-12 12-23 12-21 12-3 12-10 12 29 12 22 12-22 12 11 12 0 12-40 12 2 12 25 12-33 12-11 12-74 12-26 12-60 12 21 12-101 12-1 12 27 12-24 12-127 12-77 12-56 12 110 12 15 12 51 12-55 12-108 12 150 12 14 12-152 12 96 12-27 12-59 12-220 12 73 12-185 12-192 12-75 12 73 12-63 12 31 12-53 12 80 12-230 12-214 12 339 12 237 12-6 12 169 12-97 12 34 12-13 12 80 12 249 12-26 12-15 12-133 12 159 12-60 12-17 12 56 12-45 12-152 12 12 12-168 12 101 12 23 12 65 12-24 12 44 12-78 12 36 12-98 12-105 12-123 12-141 12 28 12 48 12-229 12 268 12-144 12 177 12 31 12 123 12 70 12 122 12-33 12-62 12-109 12-45 12 28 12 199 12-244 12 42 12-93 12 155 12 137 12 58 12-45 12-106 12 56 12-119 12-8 12-32 12 245 12-151 12-129 12 185 12-217 12 4 12-15 12-89 12-110 12-143 12 123 12 48 12 60 12-88 12 213 12 89 12 96 12-103 12 16 12 61 12 89 12 142 12-15 12 16 12 29 12-5 12-28 12-17 12 55 12-12 12 82 12 5 12-118 12-35 12 115 12-14 12 47 12-28 12 42 12 77 12-114 12-9 12 81 12-94 12 141 12-134 12 220 12 5 12 32 12-9 12-97 12-72 12 81 12-101 12 1 12 59 12 12 12 12 12-90 12 70 12-48 12-47 12-22 12-103 12 87 12-80 12-88 12 29 12 27 12-234 12 67 12-40 12-227 12-9 12 132 12-51 12 45 12 147 12-46 12 134 12-95 12 136 12 75 12 65 12-70 12 204 12-201 12 25 12 98 12-46 12-39 12 19 12-104 12-4 12-16 12 13 12-90 12 156 12 100 12-105 12 181 12-16 12-96 12 54 12-22M265 2270l12-5 12-5 12-8 12-2 12-5 12-4 12-5 12-7 12-4 12 7 12-12 12 0 12 1 12 5 12-3 12-5 12-4 12-5 12 1 12-10 12-17 12-1 12-20 12 9 12 9 12 3 12-8 12-1 12-10 12 8 12-19 12 6 12 14 12 21 12-7 12-6 12-6 12-5 12 21 12-10 12-2 12-11 12 5 12-27 12 15 12 3 12-18 12 8 12-14 12-3 12 22 12-9 12 7 12 0 12-33 12 13 12-24 12 12 12-11 12-13 12 8 12 32 12 0 12-25 12 6 12 1 12 5 12-3 12-2 12 14 12-12 12-45 12 37 12 0 12-18 12-7 12-12 12-8 12 14 12-10 12-24 12 12 12-56 12-12 12 38 12 1 12 2 12 6 12-11 12 39 12 6 12-24 12-6 12 15 12 0 12 14 12-14 12 7 12-15 12-16 12 36 12 16 12 28 12-20 12-33 12 35 12-33 12 17 12-2 12-29 12 54 12-26 12 16 12-6 12-8 12 15 12 20 12-16 12 9 12-6 12 0 12 12 12-11 12-22 12 8 12 12 12 0 12-11 12 3 12-39 12 51 12-21 12-20 12-23 12 7 12 1 12-31 12-24 12-16 12 17 12 0 12-27 12 26 12-25 12 3 12 11 12 28 12 24 12-55 12 19 12 1 12-39 12-12 12-35 12-12 12 16 12-24 12 19 12 40 12-55 12-11 12 1 12 74 12-22 12-35 12-17 12 8 12-47 12 48 12-38 12 38 12 84 12-50 12-112 12-118 12 52 12 27 12 19 12 58 12 12 12 55 12-31 12 4 12-68 12-56 12-28 12 31 12 55 12 23 12-106 12-58 12 68 12 61 12-36 12-1 12 39 12 31 12-15 12-10 12 45 12 9 12-60 12 16 12-8 12-29 12 38 12-25 12-38 12 60 12 2 12-82 12 59 12-6 12-107 12-18 12 48 12 3 12 6 12 58 12-25 12-115 12 70 12 52 12-133 12 11 12 103 12 45 12 8 12-77 12-88M265 2270l12-2 12-3 12-4 12-1 12-3 12 0 12-2 12-3 12 0 12-5 12 0 12-5 12 1 12 1 12-8 12-6 12-7 12 1 12 1 12 2 12 1 12-7 12-3 12 3 12 3 12 7 12-11 12 5 12 4 12 1 12-6 12 6 12 2 12-2 12 3 12-8 12-4 12 0 12-6 12-2 12-3 12-12 12 5 12-5 12-12 12 4 12-2 12-1 12-3 12-11 12 1 12 3 12-5 12 18 12-9 12 2 12-13 12-9 12-9 12-40 12 32 12-13 12-6 12 4 12 29 12-24 12 8 12-9 12 4 12 18 12-9 12 15 12 17 12 13 12 1 12 5 12-6 12 0 12-3 12 4 12-12 12 8 12-8 12 4 12-18 12 0 12 13 12-35 12 10 12 15 12-29 12 17 12 1 12 3 12 0 12 5 12-17 12-2 12 9 12-9 12-3 12 10 12 1 12 8 12 11 12-2 12-6 12 18 12-18 12 33 12 11 12-9 12 4 12 3 12-13 12 14 12-7 12 0 12-5 12 8 12-2 12-2 12 6 12-14 12 13 12-21 12 4 12-1 12-8 12 0 12-3 12-14 12 3 12 4 12-3 12-4 12 4 12 1 12 11 12-10 12 2 12-2 12 9 12 12 12 5 12-4 12 5 12-1 12 3 12 1 12 1 12 0 12-10 12 5 12-19 12-15 12 18 12-12 12 9 12-6 12 6 12-6 12-4 12 2 12-13 12-19 12 14 12-22 12-5 12 28 12 10 12-11 12-9 12 8 12 19 12-2 12 9 12-6 12 5 12 2 12-17 12-12 12 10 12-14 12 2 12-24 12-3 12-22 12 33 12 2 12-10 12 16 12-4 12 12 12-5 12 24 12-13 12 7 12-8 12 2 12-35 12 26 12-15 12 27 12 1 12 11 12-20 12 14 12-19 12 2 12 9 12 5 12-12 12-20 12-30 12 5 12 11 12-6 12 17 12-22 12 18 12 17 12-14 12 13 12-39 12 7 12 30 12 0 12-23 12 10M265 2270l12-2 12-2 12-2 12 0 12-2 12-3 12 1 12 0 12-4 12-2 12-4 12 1 12-1 12-1 12 0 12-3 12-4 12 0 12 0 12-5 12-3 12 6 12-3 12-2 12-5 12-2 12-2 12-1 12-3 12-1 12 1 12-13 12 1 12-1 12 1 12-1 12-11 12-16 12-7 12-3 12-17 12 17 12-8 12 4 12-6 12-1 12-5 12-11 12 8 12-17 12-14 12 15 12-16 12 13 12 16 12-10 12 2 12-21 12-11 12 6 12-12 12 19 12 12 12-18 12 9 12-7 12 12 12-6 12-5 12-4 12 11 12-25 12 10 12-18 12 9 12-8 12-5 12-2 12-8 12-13 12 1 12 13 12-7 12-16 12-26 12 9 12-12 12 40 12-14 12-8 12-13 12-1 12 0 12 13 12 27 12 7 12-28 12-17 12 20 12-35 12-29 12 4 12-26 12 10 12 40 12 22 12 23 12 0 12 34 12-42 12 15 12 3 12 3 12 13 12 7 12-34 12-14 12-28 12 10 12-6 12-38 12-2 12 25 12 32 12-36 12 10 12-46 12-13 12 29 12 32 12-47 12 24 12-24 12-26 12-12 12 74 12-4 12-13 12 13 12 39 12-9 12-28 12 7 12 16 12-43 12 70 12 0 12-26 12 54 12-16 12-50 12 2 12 30 12-3 12-17 12-1 12 9 12 38 12-16 12-8 12 8 12-8 12-36 12 47 12-27 12-9 12-19 12-13 12-9 12-22 12 47 12-41 12 61 12-53 12 8 12 60 12 20 12-24 12-55 12-18 12-16 12 49 12-20 12-70 12-59 12-11 12 8 12 48 12-44 12-55 12 116 12-22 12-35 12-54 12-10 12-20 12 24 12 23 12-49 12-23 12-8 12-6 12 13 12-29 12-15 12-34 12 73 12-15 12 16 12 93 12-78 12-46 12 37 12-21 12-9 12-82 12-23 12-89 12 102 12-169 12-12 12-183 12 31 12-42 12-87 12 173 12-276 12 127 12 49 12 13M265 2270l12-14 12-15 12-15 12-15 12-17 12-23 12-34 12-23 12-22 12 18 12-32 12-8 12-7 12-15 12-45 12 12 12-2 12-52 12 15 12 15 12 36 12 18 12 10 12-71 12 14 12-9 12-24 12 7 12-36 12-78 12-28 12 18 12-3 12-44 12-34 12 45 12-115 12 50 12-45 12-8 12-80 12-21 12-29 12 74 12 75 12 38 12-44 12-83 12 89 12 142 12 42 12 18 12-33 12-30 12 36 12-47 12-61 12 79 12-3 12-28 12-32 12 78 12-33 12-70 12 102 12-10 12-50 12-6 12 26 12-6 12 8 12 13 12 16 12-4 12-86 12 67 12 11 12-56 12-3 12-53 12-52 12-32 12 62 12 64 12-55 12 12 12-62 12-103 12-81 12-39 12-27 12 140 12 43 12-35 12 23 12-38 12 94 12 30 12-80 12-86 12 69 12 106 12-2 12-142 12 46 12 54 12-53 12-63 12-77 12-9 12-2 12-14 12-117 12 10 12-25 12 46 12 62 12-60 12-139 12-5 12 179 12 10 12-2 12-42 12-101 12-119 12-51 12-119 12 31 12-379 12-136 12 63 12-148 12-56 12 57 12 104 12 378 12 28 12 315 12-140 12 49 12-120 12-37 12 138 12-173 12 21 12 43 12-57 12 66 12 42 12-11 12 110 12-42 12 248 12 33 12-163 12 35 12 147 12-160 12-94 12 113 12 49 12 11 12-123 12 69 12 138 12-117 12 59 12 10 12 105 12 157 12-138 12-31 12-164 12-202 12-255 12 183 12 141 12-131 12-118 12-49 12 17 12 58 12 76 12 162 12-176 12 40 12-339 12 115 12-171 12 224 12 115 12 79 12 183 12-60 12 21 12 101 12 4 12-129 12 9 12-17 12-113 12-256 12 16 12 151 12 22 12 73 12 63 12 46 12 61 12 38 12-21 12-163 12 313 12 5 12-71 12 158 12 108 12-42 12 14 12 34 12 143 12 45 12-18 12-17 12-7 12 106 12 75 12 18 12-5M265 2270l12-2 12-2 12-4 12-4 12-1 12-5 12-2 12-1 12 2 12-3 12-5 12-2 12 1 12-6 12-6 12-6 12-11 12-2 12-14 12 2 12-1 12-3 12-1 12-7 12-2 12-15 12-12 12 8 12-15 12-7 12 10 12-2 12 19 12-14 12 6 12-8 12-10 12 17 12-26 12-1 12-15 12-2 12 3 12 10 12 4 12-8 12 1 12 7 12-8 12-4 12-4 12 10 12-4 12 10 12-1 12 10 12-23 12 32 12-3 12-18 12-23 12 0 12 9 12-25 12 25 12-28 12-38 12 22 12 27 12 20 12-24 12 1 12-6 12-9 12 1 12-16 12-9 12 24 12-18 12-30 12-65 12-2 12-48 12 9 12 5 12-41 12 16 12-16 12 39 12 72 12 28 12-18 12-58 12 58 12-40 12-25 12 35 12-2 12-50 12 1 12-14 12 44 12 7 12-5 12 9 12-3 12-11 12-6 12 10 12-21 12 12 12 7 12-35 12-3 12-36 12 34 12 1 12 15 12-4 12-46 12 43 12 9 12-2 12 43 12-33 12-27 12-9 12 0 12 76 12-27 12-58 12-54 12-68 12-74 12-44 12 94 12-43 12-113 12 25 12-131 12 162 12 27 12 55 12-133 12 42 12 54 12 1 12-12 12-14 12-75 12 63 12-4 12 0 12-93 12-135 12 32 12 50 12-27 12-99 12 0 12 51 12 68 12-36 12-24 12 43 12-108 12 150 12-99 12 162 12-84 12-13 12-126 12 57 12-9 12-290 12 128 12-40 12 53 12 7 12-35 12-58 12 169 12-95 12-9 12 40 12 22 12-38 12-139 12 134 12 124 12-81 12 89 12-15 12 9 12-79 12 4 12-175 12 9 12 145 12-57 12-115 12 180 12 44 12-46 12 116 12 27 12 57 12-16 12 4 12-30 12-87 12 101 12-72 12 72 12 18 12 23 12-89 12 133 12-115 12-37 12-43 12-233 12 203 12 20 12-4 12 172 12 64 12-50 12-9 12 61M265 2270l12-11 12-7 12-15 12-10 12-9 12-3 12-11 12-3 12-17 12 8 12-12 12-20 12-14 12-8 12-20 12 10 12-37 12 17 12 11 12-5 12-14 12 20 12-14 12-4 12-23 12 3 12 22 12-18 12-14 12-33 12-16 12 50 12-34 12-58 12 75 12-17 12 16 12 35 12-12 12 9 12-14 12 45 12-2 12-21 12 12 12 7 12 14 12-16 12 1 12 3 12 0 12 24 12-29 12 7 12-3 12-33 12 15 12-9 12-47 12 59 12 11 12-4 12-32 12 42 12-19 12 11 12-15 12 20 12 4 12 3 12-7 12-21 12 9 12 5 12 25 12-28 12-28 12-18 12 14 12 11 12-65 12 35 12-1 12-11 12-31 12 21 12 14 12-1 12 34 12-10 12 20 12-14 12-20 12 11 12-2 12 10 12 9 12 21 12 1 12-2 12-19 12-6 12-5 12-21 12-5 12 33 12 21 12-7 12 6 12 33 12-2 12-10 12 5 12-6 12-12 12-10 12-27 12 13 12-8 12 29 12 19 12 19 12-7 12 21 12-16 12 10 12-5 12 1 12-7 12 24 12-15 12 16 12 26 12-12 12-2 12-11 12 5 12-16 12 6 12-19 12 20 12-8 12 24 12-21 12-8 12 9 12 6 12 4 12-2 12 21 12-8 12 8 12-8 12 0 12-9 12 14 12-15 12-14 12 1 12 17 12-5 12-17 12 0 12-4 12 16 12 8 12-7 12-14 12 21 12-11 12-11 12 15 12-9 12 0 12 15 12-6 12 13 12 3 12 14 12 11 12-4 12-9 12 4 12 5 12-3 12-5 12 5 12-6 12 6 12 4 12 3 12 10 12-4 12 2 12 0 12 2 12-8 12 6 12 2 12 3 12-17 12-2 12 17 12 2 12-4 12 0 12 4 12 6 12-3 12 4 12 2 12-5 12 10 12 0 12 8 12-3 12-5 12 2 12 3 12 2 12-2 12-2 12 0 12-2 12-4 12 2 12 1 12 7 12-1 12 5M265 2270l12-7 12-9 12-6 12-4 12-17 12-4 12-7 12-8 12-23 12 6 12-3 12 0 12 2 12-8 12 11 12-3 12-8 12-9 12-17 12-3 12-6 12-2 12-9 12-18 12-48 12-34 12 24 12-13 12-9 12 17 12 48 12-3 12 23 12 1 12 10 12-12 12 6 12-20 12-9 12-15 12-46 12-44 12-2 12-1 12-38 12-11 12-62 12 12 12-10 12 56 12 12 12-2 12 25 12 17 12-25 12 29 12-50 12 3 12 19 12-71 12-59 12-14 12 88 12 25 12-83 12-12 12-3 12-28 12-64 12-40 12-96 12 45 12-50 12 124 12-7 12 79 12 91 12-77 12-75 12 41 12-89 12 106 12-137 12 68 12-32 12-105 12 36 12-74 12-120 12 56 12 64 12-31 12-168 12-123 12-13 12-63 12-93 12 31 12 123 12-125 12 93 12 143 12-135 12 127 12 120 12 0 12 129 12-128 12-8 12-6 12 153 12 5 12-13 12 53 12-86 12-7 12 92 12-103 12 7 12 150 12 63 12 12 12-2 12 41 12-1 12-93 12-40 12-115 12-28 12 148 12 32 12-86 12 54 12 54 12-82 12-58 12-72 12-277 12 198 12 43 12-103 12-3 12-112 12 211 12 106 12-124 12 62 12 41 12-16 12-93 12 165 12 14 12-110 12 136 12 75 12-1 12-41 12 25 12 23 12-45 12 29 12-23 12 29 12 18 12 91 12 88 12 27 12 8 12-29 12-29 12-20 12 30 12 67 12-30 12 18 12 3 12 60 12-59 12 17 12 38 12 10 12-33 12 1 12 2 12 0 12 38 12 25 12-65 12 3 12-7 12-13 12 13 12-18 12-10 12-13 12-14 12-27 12-58 12-87 12 62 12-53 12 88 12-47 12-20 12 79 12-55 12 11 12-87 12 38 12 56 12-34 12 22 12 71 12 26 12-60 12 40 12-34 12 32 12 10 12 19 12-66 12 73 12-49 12-54 12-50 12-10 12-9 12 10 12-2 12 9M265 2270l12-23 12-16 12-24 12-12 12-37 12-8 12-5 12-23 12-14 12-10 12-25 12-11 12 14 12-19 12-14 12-17 12 51 12-12 12-7 12-48 12 23 12 48 12-8 12-14 12-8 12-16 12 12 12-25 12 46 12-2 12-6 12 17 12-29 12-2 12 10 12-2 12-41 12 14 12 64 12 6 12-22 12-8 12 21 12 17 12 2 12-50 12 18 12 1 12 18 12-4 12 30 12 14 12-14 12-14 12 18 12 29 12-22 12 1 12 11 12-13 12 6 12 15 12 0 12-11 12 26 12-14 12-4 12 4 12 10 12 19 12 9 12 5 12 0 12-6 12 3 12-2 12-7 12 11 12-5 12-13 12 4 12-35 12 16 12-7 12 12 12 2 12-18 12-7 12 7 12-20 12-9 12 45 12-11 12 19 12 3 12-2 12 2 12 7 12 5 12-16 12 4 12-5 12 8 12-3 12-6 12 1 12 8 12-17 12-2 12 7 12-19 12-2 12-3 12-17 12 13 12 8 12 20 12 7 12 8 12-19 12-17 12 21 12 2 12-1 12 4 12 14 12-5 12-1 12 0 12-8 12-8 12 10 12-13 12-10 12-8 12 17 12-9 12-30 12 21 12-9 12 3 12-1 12 22 12-10 12-1 12 12 12-17 12-1 12-2 12 5 12-10 12 16 12-4 12-7 12 26 12-10 12-5 12-11 12 13 12 7 12 2 12 2 12-3 12-20 12 7 12-10 12-14 12 14 12 2 12 31 12-10 12 12 12-16 12-10 12 12 12-3 12-11 12 7 12 13 12-24 12-8 12 8 12-6 12 6 12 17 12-12 12 15 12-4 12 21 12 4 12-6 12-14 12-16 12-19 12 21 12-28 12-27 12 36 12-10 12-4 12-1 12 16 12-6 12-5 12-10 12 13 12 4 12 5 12 25 12-2 12-24 12-18 12-29 12-3 12-20 12 39 12 22 12-4 12 17 12-11 12 12 12-11 12-7 12 20 12-16 12 13 12-18 12 15 12-4 12-27M265 2270l12-14 12-12 12-14 12-15 12-8 12-22 12 6 12-6 12-7 12 6 12-8 12-12 12-17 12-2 12 10 12 4 12-8 12-14 12-18 12-1 12-10 12 3 12-26 12-30 12 56 12-44 12 0 12 11 12-28 12-5 12-3 12 10 12 3 12 41 12-3 12-2 12-13 12-28 12 28 12 11 12 3 12-14 12-10 12-8 12 43 12-29 12-36 12 53 12 8 12 31 12 4 12-26 12 28 12 7 12 14 12 19 12 0 12 19 12-7 12 1 12-15 12 15 12 5 12 3 12-6 12-12 12-3 12-2 12-20 12 4 12-11 12-1 12-5 12-14 12 4 12-8 12-15 12-1 12 19 12-6 12-30 12 8 12 20 12-22 12-39 12 44 12-24 12 22 12-28 12-24 12 46 12 27 12-50 12 4 12 27 12 7 12 16 12 7 12-14 12-8 12-7 12 3 12-37 12 35 12-12 12 9 12 10 12-26 12 28 12 23 12-7 12 22 12-5 12 4 12 20 12 2 12 1 12 13 12 5 12-1 12-4 12 13 12-10 12-5 12-5 12-4 12 0 12 15 12 6 12 0 12-5 12 1 12 4 12 7 12 2 12 2 12 7 12 7 12-4 12 8 12 3 12-1 12-2 12 7 12-8 12-5 12 7 12 8 12 1 12 1 12-8 12 6 12-11 12 3 12-2 12 3 12-7 12 12 12 1 12 1 12 4 12-1 12-4 12-2 12 1 12-6 12 1 12 5 12-10 12 3 12 5 12-1 12-4 12 3 12-2 12-1 12 1 12-1 12 2 12-1 12-6 12-9 12 8 12 0 12-6 12 5 12-2 12 5 12 9 12-4 12-5 12 5 12-2 12 4 12 1 12 11 12 0 12-4 12 1 12-4 12-3 12 9 12 0 12 4 12-4 12-5 12 9 12 3 12 0 12 1 12-2 12-3 12 2 12-3 12 2 12 3 12-3 12 2 12-3 12 1 12 3 12 2 12 2 12 2 12-2 12-2 12-2 12 4 12 0 12 1M265 2270l12-4 12-3 12-3 12-3 12-3 12-3 12-3 12-8 12-5 12-7 12-11 12 2 12 0 12-17 12-6 12 1 12-6 12-8 12-1 12 9 12 8 12-5 12-6 12-14 12-24 12-3 12-3 12 4 12-2 12-27 12 1 12-20 12 29 12-19 12 6 12-4 12-2 12-5 12 12 12-44 12-8 12 28 12 16 12-10 12 19 12-14 12-7 12 26 12-31 12-25 12-10 12-12 12-37 12 15 12-41 12-14 12 39 12-6 12-27 12-33 12 38 12-17 12 9 12 27 12-5 12 25 12-54 12 20 12 14 12-14 12 44 12-60 12 27 12-44 12 28 12 8 12 73 12-29 12 54 12-19 12-32 12-20 12-13 12-62 12-2 12 13 12 56 12-49 12 61 12 18 12-12 12 33 12 25 12 9 12 20 12 11 12 20 12 8 12-5 12-10 12 3 12 18 12-18 12 22 12 1 12 6 12 2 12-21 12 1 12-3 12-18 12-10 12 22 12 1 12-25 12-28 12-25 12-9 12 12 12 3 12-50 12 3 12-13 12 10 12-25 12 38 12-14 12-21 12-69 12 38 12 13 12 70 12-36 12-13 12 32 12-49 12-71 12 44 12-18 12 24 12-53 12-12 12-69 12 24 12-11 12 29 12 58 12 34 12-4 12-34 12 1 12-26 12-40 12-66 12-89 12 54 12 23 12-27 12-24 12-90 12 60 12 82 12-128 12-158 12 103 12 12 12-75 12 49 12-54 12 5 12-38 12 24 12-151 12 119 12-31 12-147 12 85 12 104 12-25 12-43 12 87 12 44 12-18 12 37 12 7 12 80 12 8 12-63 12 53 12-3 12-16 12 7 12 121 12-90 12-3 12-15 12-128 12-1 12-125 12 178 12-19 12 111 12-95 12-64 12 155 12-111 12 109 12-52 12 57 12-115 12 93 12-35 12-11 12-97 12-2 12-89 12 7 12-91 12-97 12 80 12-232 12-80 12 244 12 17 12 14 12-73 12 128 12-55 12-27 12-5M265 2270l12-3 12-3 12-2 12-3 12-2 12-1 12-1 12-7 12-8 12 2 12-5 12 0 12-1 12-5 12-2 12 0 12 7 12-5 12-1 12-3 12 3 12-2 12 1 12-6 12 0 12 2 12-7 12-9 12 5 12-12 12 6 12 1 12-4 12 13 12-2 12-2 12-11 12-4 12-7 12-2 12-2 12-18 12 3 12-18 12 4 12 0 12-3 12-16 12 17 12 5 12-17 12-16 12-16 12 3 12 1 12-16 12 13 12-4 12-36 12 12 12-13 12 25 12 7 12-13 12-7 12-8 12-34 12-26 12 16 12-4 12-42 12 21 12-9 12-40 12-8 12-22 12 48 12 18 12-51 12-8 12-75 12 27 12-11 12-31 12-36 12 9 12-47 12 26 12-67 12 50 12-107 12 78 12-36 12 34 12 66 12-7 12-34 12 6 12-30 12-33 12 13 12 48 12 48 12-2 12-42 12 25 12 35 12 8 12-41 12-45 12 63 12-81 12-40 12 77 12-128 12 111 12 26 12 19 12-41 12-72 12-77 12 35 12 103 12-89 12-229 12 48 12 217 12-93 12 77 12 76 12-50 12 102 12-65 12 33 12 41 12-29 12 50 12-44 12 3 12-35 12-27 12-61 12 34 12-59 12 3 12 127 12 25 12-7 12-78 12 95 12-79 12-5 12 41 12 69 12 48 12-61 12 44 12-9 12 51 12-34 12 70 12-44 12 44 12 31 12-10 12 35 12 20 12-49 12-39 12-17 12 53 12 34 12 4 12 7 12-14 12-2 12 44 12-40 12 31 12 8 12-31 12-33 12 20 12-35 12 18 12-28 12-23 12 2 12 40 12-26 12 100 12-13 12 8 12-55 12-11 12 48 12-56 12 6 12-69 12 22 12-10 12-14 12 33 12-51 12-23 12-33 12-55 12-24 12 120 12-25 12 45 12 9 12-25 12 34 12 28 12 2 12 52 12-21 12-43 12-43 12 89 12-54 12 22 12 22 12-14 12 34 12 59 12 8 12 10 12 3M265 2270l12-11 12-15 12-21 12-17 12-20 12-10 12-25 12 1 12-13 12-11 12 8 12-23 12-32 12-14 12 24 12-16 12-38 12 9 12-25 12-16 12 34 12-22 12-18 12 23 12 4 12-19 12-2 12-1 12 4 12 7 12 3 12 50 12-16 12 14 12-16 12 10 12-41 12-29 12 34 12 17 12 3 12-48 12 49 12 15 12-13 12 7 12 8 12 2 12 1 12-6 12-3 12-12 12-5 12-27 12-14 12-2 12-15 12 20 12 25 12-40 12 19 12-10 12-24 12 74 12 40 12-53 12-77 12-3 12-104 12 93 12 52 12-16 12 25 12-49 12 7 12 18 12-9 12-54 12-4 12 0 12-13 12 5 12 37 12-16 12 48 12-44 12 33 12-21 12-27 12-8 12-26 12 54 12 12 12-41 12-65 12-54 12-7 12-180 12 40 12-131 12-13 12 50 12 92 12-39 12 30 12 55 12 17 12 82 12-34 12-11 12-30 12 56 12 31 12-61 12-30 12-86 12-71 12-9 12 30 12-7 12 29 12 124 12-45 12 115 12-80 12 134 12 61 12-37 12-68 12-102 12 100 12-32 12-32 12-61 12 67 12 13 12 69 12-20 12-83 12 30 12-35 12-41 12 54 12 77 12-8 12 8 12-37 12 8 12-12 12-10 12 36 12-38 12 69 12 11 12-77 12 45 12-21 12 41 12 69 12 83 12-52 12-22 12 2 12-15 12-92 12-73 12-3 12 17 12-6 12 34 12-76 12-32 12-10 12-2 12 86 12-28 12-15 12 72 12-7 12-106 12-32 12 2 12-67 12 34 12 32 12 17 12 120 12-73 12 23 12-30 12 110 12 24 12 54 12 11 12 30 12-1 12-29 12 68 12 49 12 1 12-18 12 24 12-46 12 22 12 45 12 4 12-9 12 7 12 15 12 9 12-33 12 45 12-8 12 14 12 12 12-27 12 48 12 5 12-26 12 5 12-8 12 18 12-39 12 58 12-12 12-12 12 24 12 9 12-22 12-10M265 2270l12-4 12-5 12-2 12-5 12-2 12-1 12-4 12-7 12 4 12-4 12-4 12-14 12 2 12 3 12 1 12-4 12-6 12 1 12-11 12-4 12 0 12-11 12 10 12 3 12-2 12 3 12-3 12-3 12-18 12-1 12 1 12-10 12-22 12-3 12 3 12 5 12-14 12 1 12 23 12-3 12 2 12-2 12-10 12 10 12 12 12 1 12-3 12 0 12 4 12-23 12 3 12 11 12-1 12-3 12-3 12 25 12 2 12-21 12-18 12 9 12 22 12 0 12-7 12 7 12 17 12-5 12-1 12-12 12-12 12-3 12-1 12 1 12-7 12 20 12 6 12-7 12 5 12 3 12 7 12 19 12-14 12 9 12-14 12-6 12 17 12 7 12-4 12-11 12 5 12-2 12-5 12-10 12-14 12-3 12 10 12 6 12-3 12-6 12-7 12 14 12 6 12 0 12-14 12 2 12-10 12 17 12 23 12-17 12 8 12-10 12 8 12 18 12-5 12 12 12 0 12 6 12-14 12 8 12-1 12 0 12 0 12 5 12-17 12 3 12 10 12 2 12-19 12 13 12-2 12-1 12 3 12 1 12-10 12 9 12 2 12 10 12 1 12-1 12-4 12 5 12-10 12 3 12-3 12-4 12 8 12-1 12 2 12-5 12-1 12 0 12 7 12 0 12-4 12-2 12 4 12-1 12-5 12 5 12 0 12-8 12 8 12 4 12-7 12-8 12-4 12 9 12-4 12-3 12-1 12-10 12-3 12-10 12 3 12 17 12-12 12-24 12-1 12 0 12-20 12-16 12-7 12-12 12 25 12-40 12-31 12-3 12-34 12-7 12-20 12 9 12-1 12-14 12-25 12 48 12 40 12-4 12 12 12 17 12-16 12-2 12 31 12-18 12-14 12 9 12-11 12-4 12 43 12-29 12-12 12-5 12 29 12 2 12 5 12 22 12-25 12 4 12 3 12-14 12 22 12 14 12-59 12-1 12 26 12-30 12-3 12-10 12 14 12-25 12-16 12-16M265 2270l12-15 12-10 12-15 12-7 12-12 12-11 12-17 12-10 12 6 12-31 12-1 12 0 12 1 12 14 12-10 12 0 12-24 12-1 12-8 12-22 12-14 12 37 12-6 12 3 12-17 12 12 12 37 12-47 12-21 12 25 12 4 12-12 12 17 12 10 12-3 12 18 12-4 12 0 12 4 12-24 12 3 12 13 12-20 12-37 12 19 12-11 12 16 12 40 12-5 12-5 12 14 12 10 12 27 12-3 12 1 12 2 12-9 12 4 12-13 12-3 12 5 12-12 12-4 12-18 12 13 12-23 12 10 12-29 12 18 12-27 12 4 12 13 12 27 12 16 12-14 12 7 12-12 12 9 12 12 12-13 12-6 12 1 12-15 12-13 12 22 12 3 12 7 12-28 12 19 12-21 12-39 12 9 12 28 12-41 12 42 12-3 12 26 12 13 12-14 12 0 12 16 12-4 12 7 12 11 12 0 12-14 12-7 12-3 12 0 12 0 12 0 12-3 12-3 12-27 12 5 12-7 12 15 12 28 12-11 12 2 12-4 12 17 12 12 12 16 12-2 12 7 12-23 12 9 12-7 12 9 12 13 12 8 12-8 12 3 12 10 12 1 12-7 12 15 12 15 12-2 12 3 12 7 12-2 12-5 12 5 12 7 12-1 12-1 12 0 12-2 12 9 12 2 12 0 12-1 12-1 12 2 12-4 12-3 12 3 12 0 12-2 12-2 12 4 12 1 12 1 12-2 12-1 12-3 12 0 12-1 12 3 12 5 12 4 12-8 12 4 12-2 12 0 12-1 12 7 12-5 12 3 12-1 12 3 12 0 12-1 12 4 12-1 12 0 12 6 12 0 12-1 12 3 12-2 12-4 12-2 12 0 12-1 12 3 12 3 12 0 12-6 12 1 12-3 12-3 12 1 12-3 12-1 12-2 12-4 12 3 12-1 12 2 12 2 12-3 12-1 12-3 12 1 12 7 12-1 12-2 12 3 12 1 12-1 12 1 12-5 12-5 12 7 12 3 12 0 12 3M265 2270l12-4 12-3 12-4 12-4 12-5 12-5 12-1 12-7 12-6 12-3 12-3 12-8 12 1 12-10 12-11 12-7 12-4 12-26 12-14 12-2 12 7 12-9 12-2 12 9 12-3 12-22 12-7 12-39 12 2 12-28 12-4 12 9 12-25 12-18 12-42 12-3 12-20 12-37 12-8 12-13 12 39 12-10 12-37 12-18 12 97 12 59 12-44 12-22 12 32 12-18 12 0 12 18 12-39 12 34 12-27 12-32 12-12 12-17 12-19 12 26 12-25 12 69 12-31 12 6 12-6 12-14 12 9 12 19 12 37 12 8 12-33 12 25 12-32 12-5 12 50 12-12 12 1 12 27 12 9 12-8 12-20 12 22 12 25 12-19 12 14 12-20 12-23 12 59 12-33 12 28 12-37 12-40 12-41 12-19 12-94 12 23 12 31 12 19 12 15 12-36 12-4 12-5 12 18 12-52 12 53 12-32 12 18 12-85 12-28 12 70 12-16 12 66 12-17 12-31 12-9 12 41 12-14 12-65 12 1 12-9 12-136 12 45 12-44 12 83 12 51 12-15 12 43 12-36 12-24 12-16 12 92 12-28 12-136 12 72 12 6 12-214 12 6 12-6 12-27 12-81 12-35 12-72 12-63 12 85 12-11 12 68 12-61 12 7 12 22 12-70 12 138 12-70 12 63 12 74 12 49 12 1 12 76 12 1 12-6 12 38 12-46 12 86 12 53 12 4 12-44 12 17 12 16 12 6 12 25 12 5 12-57 12 68 12-74 12 51 12 59 12-52 12 37 12-47 12-53 12 8 12-104 12-41 12-60 12-87 12 131 12 7 12-161 12-6 12 100 12-138 12-3 12-80 12 320 12-85 12 66 12 1 12 60 12-141 12-68 12 26 12-125 12 78 12 56 12 17 12-172 12 53 12-200 12 42 12 13 12 167 12 32 12 43 12 13 12-18 12 88 12-117 12 68 12-53 12-114 12 309 12-92 12-175 12-112 12 161 12 28 12-69 12 95 12-150 12 186 12-76M265 2270l12-23 12-16 12-21 12-5 12-9 12-6 12-21 12 1 12-19 12 11 12 11 12-20 12 0 12-10 12-5 12-5 12-3 12-33 12-13 12-26 12-13 12 32 12-11 12-9 12 3 12 17 12 30 12-7 12 12 12 1 12-4 12 24 12 5 12 5 12-4 12 3 12-3 12 12 12-7 12-10 12-8 12 5 12-7 12-6 12 12 12-35 12 14 12 14 12 4 12-53 12 18 12-16 12-1 12 11 12 7 12 17 12 20 12-23 12-22 12 2 12-2 12-30 12 14 12-5 12 0 12 2 12-12 12-12 12-66 12-10 12 46 12 35 12-11 12 29 12 19 12 27 12-29 12 7 12-1 12 26 12-8 12-13 12-48 12 28 12 3 12-12 12-24 12-7 12-9 12 36 12 2 12 2 12 23 12 29 12-9 12-27 12-3 12-10 12 19 12 6 12-56 12 6 12 40 12-59 12 12 12 2 12-51 12 11 12 19 12-31 12-25 12-7 12 27 12 31 12-25 12-65 12 39 12-18 12 15 12-9 12 62 12 8 12 40 12 25 12-32 12 12 12-12 12-33 12 31 12-14 12 30 12-13 12-4 12-13 12 19 12-16 12-3 12 34 12 4 12 26 12 22 12-9 12 15 12-7 12-47 12 15 12-1 12-1 12 30 12-2 12 14 12-11 12 23 12 2 12-30 12 20 12-17 12-26 12 15 12 1 12 7 12-10 12-44 12 46 12-45 12 43 12 22 12-15 12 26 12-27 12-4 12-21 12-31 12 17 12 15 12 21 12 7 12 27 12-15 12-11 12 11 12-12 12-14 12 19 12-10 12 19 12-8 12 4 12 6 12 13 12 25 12 7 12 8 12-24 12 0 12-7 12 10 12 5 12 3 12 5 12 0 12 3 12 8 12 1 12-3 12-2 12-8 12 3 12-22 12 41 12-1 12 1 12-5 12-6 12 19 12-13 12 2 12-19 12 7 12-3 12-7 12 9 12-20 12 4 12 4 12 12 12 8 12 0 12-1 12 0M265 2270l12-4 12-5 12-7 12-6 12-3 12 0 12-6 12 1 12-7 12-7 12-7 12-12 12-3 12-11 12-11 12 18 12-4 12 11 12-1 12-4 12-1 12 0 12 0 12 1 12-4 12-12 12-6 12 8 12 10 12 7 12 4 12-9 12 1 12-8 12 6 12-3 12 10 12-1 12-3 12 10 12 4 12-2 12 2 12 4 12 3 12 4 12-1 12-2 12-8 12 10 12 1 12-3 12 1 12-7 12 2 12-5 12 4 12-8 12 8 12 2 12 9 12-3 12 4 12-1 12 2 12 4 12-2 12-11 12 9 12 4 12-3 12-2 12 2 12-2 12 1 12-2 12-12 12 3 12-8 12-3 12-7 12-5 12-7 12 12 12 7 12 2 12 2 12 2 12 4 12-1 12-7 12-1 12-3 12 2 12 1 12 4 12-4 12-2 12 6 12 11 12 5 12 2 12-9 12 9 12-3 12 1 12 8 12 4 12 4 12-3 12 3 12 0 12 0 12-1 12-2 12 0 12 1 12 1 12 3 12-2 12 3 12 1 12 3 12 3 12-3 12 0 12 1 12 1 12 1 12 1 12 0 12 1 12 1 12-1 12 1 12 1 12-1 12 0 12 1 12-1 12-1 12-3 12 0 12-1 12 2 12 1 12 1 12-1 12-1 12 0 12-4 12 1 12 0 12-4 12 2 12 0 12 1 12-5 12-2 12-1 12 0 12-4 12 1 12-1 12 0 12-4 12 3 12 1 12-4 12 2 12-1 12 3 12 0 12-1 12 0 12 4 12 2 12 5 12 3 12 0 12 1 12 1 12 0 12 0 12 0 12 0 12 3 12 2 12 1 12-2 12-3 12-1 12 1 12 3 12-1 12 0 12 0 12 1 12-1 12-1 12-1 12 3 12-3 12 1 12 0 12 1 12 0 12 1 12-2 12 1 12 1 12 0 12 1 12 1 12 0 12 0 12-1 12 0 12 2 12 1 12-1 12 1 12-1 12 0 12 1 12 0 12 0 12 1 12 0 12 0M265 2270l12-3 12-4 12-3 12-2 12-2 12-1 12-3 12-4 12-3 12 0 12-1 12 1 12-5 12-5 12-8 12-8 12 0 12-5 12-1 12-9 12-19 12-24 12-10 12-14 12-13 12 8 12-3 12-10 12-42 12-13 12-8 12-12 12 22 12-30 12-2 12-57 12-6 12-29 12 12 12 40 12-63 12 37 12-22 12-14 12-3 12 53 12 17 12-26 12 23 12-20 12 22 12-18 12 39 12-39 12-42 12-25 12-29 12-71 12-55 12-7 12-4 12 3 12-44 12 0 12 71 12-107 12-62 12-46 12 35 12 100 12-214 12 160 12-10 12-56 12-92 12-107 12 94 12-186 12 119 12 45 12-68 12-52 12 28 12-50 12 161 12-16 12 108 12 122 12 43 12-44 12-65 12 13 12 68 12 33 12-17 12-6 12 54 12 57 12-51 12 78 12 63 12 68 12-74 12 3 12 30 12 52 12-35 12-7 12 17 12-32 12 9 12 5 12-17 12-70 12-37 12 23 12 28 12-39 12 19 12 26 12 8 12 17 12 19 12 48 12-28 12-26 12 40 12 56 12-3 12 32 12-3 12-18 12 7 12-10 12-40 12 3 12-33 12-17 12-10 12-9 12-2 12-30 12-32 12 16 12 17 12-81 12-77 12 58 12 37 12-9 12-34 12 106 12-52 12-76 12-2 12 26 12 4 12 54 12 37 12 42 12-7 12-34 12 34 12-44 12-113 12 60 12 31 12-17 12 50 12 30 12-23 12-27 12 22 12 67 12-6 12-19 12-17 12 80 12 6 12-35 12 54 12 10 12-29 12 0 12-38 12-35 12 40 12-35 12 2 12 27 12-51 12-32 12-53 12-125 12-10 12 57 12-34 12-125 12 116 12-126 12-59 12-32 12-75 12 107 12-1 12 11 12-118 12 197 12-87 12 18 12 48 12 57 12 86 12-42 12 49 12 24 12 9 12 1 12 29 12-52 12 78 12-99 12-29 12 53 12 93 12 3 12 32 12-43 12-53 12 46M265 2270l12-12 12-12 12-16 12-5 12-18 12 2 12-1 12-27 12 1 12-1 12 10 12-10 12 11 12 5 12-3 12 5 12-14 12 4 12 6 12-8 12 12 12 1 12 5 12 3 12 9 12 7 12-12 12-1 12-2 12 8 12 3 12-3 12 0 12 8 12 7 12-7 12-1 12-3 12 1 12-2 12 4 12 6 12-6 12-1 12 6 12 0 12 0 12-1 12 8 12-1 12-3 12 2 12-6 12-5 12 3 12 0 12 5 12 1 12 0 12 4 12-1 12-4 12 2 12-4 12 6 12 0 12 0 12-2 12 3 12 2 12 1 12 6 12-8 12-9 12 3 12-4 12-4 12 4 12-7 12 5 12 1 12 1 12 2 12-1 12-7 12 0 12 1 12 2 12 2 12-8 12 8 12-9 12 8 12-2 12 12 12 3 12-1 12-1 12 6 12 1 12-1 12-7 12 4 12 1 12-1 12-3 12-1 12-6 12 5 12 4 12-6 12-1 12 3 12 0 12-1 12 3 12-3 12-4 12 6 12 2 12-1 12-2 12 9 12 4 12 2 12-1 12 2 12 3 12-3 12 0 12-3 12 1 12 0 12 1 12 2 12 3 12 3 12 2 12 2 12-1 12-1 12 1 12 1 12 0 12 0 12 0 12 2 12-2 12 0 12 1 12-1 12-1 12 1 12 1 12 1 12 0 12-1 12 0 12-2 12 1 12 0 12-1 12 0 12 1 12 0 12 1 12 0 12 0 12 0 12 1 12 0 12-1 12 0 12 1 12 0 12-1 12 0 12 0 12 1 12-2 12 0 12 0 12-1 12 0 12 0 12-1 12 2 12 0 12 1 12-2 12 0 12 0 12 2 12-1 12 0 12 0 12-1 12 2 12 1 12-1 12 1 12-1 12 0 12 1 12 0 12-1 12 1 12-1 12 0 12 1 12 0 12 0 12 0 12 0 12 0 12 1 12-1 12 0 12 0 12 0 12 1 12 0 12 0 12-1 12 0 12 1 12 1 12-1 12 0 12 0M265 2270l12-20 12-20 12-12 12-8 12-2 12-1 12-11 12 18 12-13 12 2 12 10 12 2 12 5 12-5 12 2 12-4 12 5 12 5 12 7 12-3 12 9 12-1 12-1 12-4 12-1 12 3 12-1 12 2 12 3 12-5 12 3 12-6 12 4 12-13 12 8 12-3 12 1 12-8 12 6 12 8 12-4 12 7 12-2 12-2 12 2 12 7 12-3 12-1 12-1 12-2 12-3 12 2 12 3 12 1 12 3 12-15 12-5 12-5 12 2 12-7 12 10 12 3 12 5 12 2 12 1 12 4 12-1 12-2 12 6 12 0 12 3 12 6 12 3 12-3 12-5 12 6 12-1 12 0 12 0 12 4 12-1 12-9 12 0 12 4 12 0 12 2 12-9 12 2 12-2 12 3 12-4 12 5 12-2 12 3 12 0 12 0 12-8 12 6 12 1 12 2 12 1 12 2 12-3 12 1 12 1 12 1 12-2 12 1 12-1 12 0 12 1 12 4 12 1 12 0 12-2 12 0 12 3 12 1 12-1 12 3 12-3 12-2 12 2 12 1 12 0 12 2 12-3 12-1 12-4 12 0 12 2 12 2 12 1 12 0 12-1 12 2 12-1 12 1 12-1 12 1 12-1 12 0 12-5 12 2 12 0 12-4 12 4 12 3 12-1 12 3 12-4 12-4 12 1 12-2 12 4 12 2 12-1 12 0 12 2 12 1 12-1 12 1 12 0 12-1 12 2 12-1 12 2 12 0 12 0 12 1 12-1 12-6 12 1 12-5 12-1 12 1 12-2 12 1 12-5 12 1 12-1 12-1 12-2 12 1 12 6 12-4 12 2 12 2 12 2 12-5 12-6 12 0 12-5 12 2 12-9 12-6 12 10 12-2 12-11 12 3 12-7 12 1 12-2 12 0 12-1 12 3 12 7 12 15 12-7 12 4 12 1 12 4 12-4 12-4 12-10 12 1 12 8 12 2 12-11 12 3 12-2 12-8 12 2 12 2 12 1 12 13 12-7 12 2 12 5 12 0M265 2270l12-12 12-13 12-6 12-16 12-7 12-10 12 2 12-10 12-14 12-20 12-4 12-10 12 0 12 12 12-17 12-14 12-16 12-4 12 7 12 37 12 1 12 3 12-24 12-21 12 14 12 18 12-10 12 16 12-29 12-17 12 9 12 10 12 1 12 0 12 13 12-4 12-8 12 16 12-26 12-3 12-25 12 12 12-1 12-8 12 31 12-3 12 20 12 4 12 10 12 9 12 9 12-24 12-2 12 14 12-16 12-7 12-12 12-6 12-3 12 14 12-7 12-1 12-41 12 19 12-36 12 20 12-33 12-8 12 18 12 15 12 37 12 6 12-14 12-17 12-10 12-12 12 26 12-21 12 26 12-39 12 8 12-54 12 73 12-21 12 38 12 2 12-10 12 1 12 12 12 9 12-35 12 0 12-52 12-20 12-46 12 56 12-62 12-34 12 33 12 14 12 6 12 45 12 0 12 11 12-58 12 44 12 10 12 47 12-40 12 41 12-28 12 41 12 18 12 10 12 5 12 15 12-3 12-15 12 18 12 12 12 20 12-6 12 9 12-15 12-6 12-8 12-22 12 23 12 1 12 24 12-13 12 9 12 0 12 7 12 4 12 6 12-5 12-6 12 13 12 7 12 1 12-2 12 1 12 10 12-2 12 6 12 0 12 13 12 0 12-3 12-2 12 7 12-1 12 3 12-12 12 12 12 8 12-5 12-6 12-4 12 11 12 1 12-6 12 1 12-6 12 2 12-8 12 13 12 2 12-7 12 7 12 0 12 6 12 1 12 5 12-4 12 1 12 0 12-5 12 3 12 8 12-6 12 6 12 5 12-4 12 3 12 0 12-5 12 6 12 0 12 3 12-1 12 5 12 0 12 1 12-2 12-3 12-4 12 5 12 0 12 1 12-4 12 0 12 2 12-2 12-2 12 1 12-2 12 4 12-1 12-1 12 2 12-5 12 2 12-4 12-7 12-1 12 5 12 2 12-4 12 5 12 0 12-3 12-2 12 3 12-1 12-2 12-6 12 5 12 0M265 2270l12-2 12-2 12-1 12-2 12-1 12-4 12 1 12 0 12-2 12-1 12-2 12-2 12-6 12-3 12 3 12-1 12-3 12-1 12 3 12-2 12-6 12 5 12 3 12 0 12 1 12-1 12 4 12-8 12-1 12-7 12-6 12 1 12-8 12-17 12-6 12 2 12 1 12-4 12-3 12-19 12 21 12-9 12-4 12-1 12 6 12 0 12-18 12 20 12-17 12 9 12 9 12 0 12 0 12 9 12-4 12 2 12-6 12-2 12 1 12 17 12 1 12-11 12 4 12-7 12-3 12 1 12 7 12-5 12 8 12 2 12 7 12-12 12 2 12-7 12-15 12 14 12-19 12 1 12 5 12-13 12 11 12-25 12 20 12-2 12-27 12 8 12 1 12 9 12 0 12-19 12 3 12 10 12-7 12-1 12-19 12 34 12 13 12-12 12-11 12 4 12-4 12-28 12-17 12 32 12-25 12 7 12-12 12-10 12 3 12 23 12-9 12 8 12 2 12 5 12 1 12 5 12-7 12 20 12 6 12-30 12 26 12 25 12-1 12 5 12 1 12-10 12 0 12 7 12-2 12-11 12 8 12 6 12 6 12-11 12-9 12 16 12-3 12-41 12 20 12 0 12-10 12 9 12-2 12 3 12-6 12 18 12-4 12 12 12-2 12 1 12-18 12-8 12-10 12 0 12 8 12 12 12 6 12 8 12-10 12 12 12 4 12-6 12-8 12 1 12 13 12 6 12 4 12 0 12-5 12-3 12-7 12-13 12-13 12 12 12 0 12-9 12-2 12 10 12 4 12-9 12 1 12 6 12 3 12 1 12-4 12-10 12 25 12-32 12 9 12 1 12 4 12 9 12-6 12-13 12-17 12 9 12 17 12-10 12 14 12-5 12-18 12 11 12-15 12 18 12-28 12 17 12 1 12-18 12 15 12-11 12-10 12-7 12 27 12 1 12-1 12 24 12-6 12 5 12-14 12-26 12 16 12-1 12 9 12 6 12-2 12 5 12 4 12-22 12 18 12 6M265 2270l12-18 12-19 12-19 12-3 12-6 12-5 12-5 12-14 12-2 12-23 12 4 12-28 12-18 12-23 12-16 12-53 12-54 12 35 12-33 12-16 12 34 12 13 12-14 12 7 12 16 12 19 12-50 12-36 12-18 12-26 12-63 12 24 12-50 12 25 12 12 12-30 12-43 12-1 12 7 12-90 12 9 12 9 12 151 12-107 12 17 12-121 12-106 12-32 12-148 12-3 12-182 12 157 12-16 12-252 12-75 12 99 12-65 12-3 12 50 12 114 12-143 12 11 12 96 12-292 12-204 12 326 12 82 12-142 12 95 12 199 12-5 12-170 12 99 12 7 12 100 12-94 12 50 12 81 12-52 12 184 12-46 12 22 12-149 12-16 12 88 12 59 12-1 12-26 12-131 12-265 12 119 12 23 12 82 12-171 12-241 12 256 12 43 12 133 12 93 12 122 12-136 12-85 12 10 12-19 12-307 12 153 12 9 12 89 12 148 12-107 12-17 12 39 12 51 12-219 12 324 12 59 12 100 12 55 12-50 12-57 12 13 12 173 12-148 12-17 12-3 12-67 12 20 12 64 12-157 12-24 12 86 12-53 12 138 12 100 12 57 12-177 12-27 12 73 12 24 12 102 12-1 12-158 12-9 12 108 12-14 12 15 12-123 12 22 12-109 12-32 12-138 12 98 12-273 12 124 12 87 12 47 12-63 12-18 12-5 12 117 12-34 12-50 12-30 12 236 12 14 12 198 12-90 12 40 12 94 12-26 12 12 12 18 12 1 12-79 12 18 12-61 12-178 12-56 12 23 12-93 12-8 12-54 12 196 12-227 12 54 12-241 12 249 12 11 12-146 12 65 12 81 12 175 12-118 12-43 12-42 12 189 12 49 12 81 12 22 12-86 12 233 12-181 12-78 12 205 12-69 12-185 12 159 12 34 12-81 12-44 12 10 12-76 12-7 12 70 12 150 12-61 12-152 12 151 12-105 12 113 12 134 12-42 12-14 12 39 12-100 12 17 12-18 12-76 12 123 12 49M265 2270l12-1 12-2 12-1 12-1 12-1 12 0 12-3 12-3 12-1 12-3 12 2 12-3 12 0 12-5 12-8 12 2 12 2 12 0 12-2 12-1 12 5 12-4 12 3 12 1 12 4 12-1 12-2 12 0 12-4 12 0 12-9 12 5 12-1 12 2 12-9 12 2 12-4 12 3 12-2 12 0 12 5 12 2 12 1 12-1 12 2 12 1 12-7 12 3 12 0 12-3 12-5 12-3 12-7 12 1 12 5 12-4 12 1 12-3 12 4 12-9 12-2 12 9 12-13 12 3 12-14 12 0 12 3 12-2 12 3 12 2 12 4 12-17 12 9 12 9 12-29 12 9 12-5 12 10 12 3 12 1 12-12 12-6 12 21 12-16 12-5 12 14 12 0 12-21 12 10 12-9 12 14 12-1 12 2 12-10 12-2 12-12 12 11 12-8 12-19 12 18 12-8 12-6 12 16 12-7 12-2 12 3 12-8 12 2 12 4 12 8 12 6 12-11 12 5 12-8 12-1 12-31 12 7 12-26 12 1 12 11 12 7 12 10 12 6 12 10 12-19 12 14 12 3 12 17 12-1 12-3 12 12 12-12 12 3 12 9 12-2 12 27 12-8 12 6 12-7 12 11 12 0 12 0 12-4 12-4 12-3 12 0 12-11 12-7 12 3 12 4 12-9 12-2 12-1 12 6 12 2 12 1 12-2 12-5 12-3 12 2 12-21 12-16 12-11 12-30 12 23 12-24 12-6 12-18 12 23 12 32 12-14 12-7 12 20 12-49 12 10 12 16 12 39 12-28 12-39 12 2 12 14 12-39 12 52 12-19 12 20 12 16 12-4 12-5 12-11 12 42 12 13 12 16 12-1 12-6 12 19 12-19 12-3 12 1 12-22 12 23 12-17 12-14 12 14 12-12 12 41 12-4 12 3 12-7 12-14 12 9 12 1 12-22 12 28 12-3 12 2 12-23 12 12 12 9 12-3 12-19 12-12 12-13 12-17 12-9 12-7 12 5 12-28 12 25 12 49 12 2M265 2270l12-23 12-22 12-20 12-24 12-25 12-16 12-38 12-17 12 9 12-3 12 21 12-4 12-2 12-52 12-48 12-17 12 9 12-51 12-32 12 21 12-18 12-70 12-35 12 48 12-27 12-68 12-12 12 66 12-5 12-66 12 31 12 50 12-85 12 14 12 39 12-26 12-32 12-30 12-70 12-96 12 78 12-23 12 99 12-17 12 84 12 49 12 12 12 13 12 20 12-9 12-5 12 37 12-4 12 6 12-49 12-36 12 33 12 68 12-51 12-6 12-45 12 72 12-84 12 86 12 5 12-37 12-79 12 42 12 5 12-90 12 57 12 75 12-3 12 35 12 74 12-69 12 43 12 7 12-1 12 22 12-17 12 18 12-21 12 83 12 0 12-1 12-8 12-41 12-55 12 7 12 18 12 11 12 1 12-53 12-16 12 22 12 71 12-2 12 33 12-2 12 64 12 5 12 27 12-15 12 31 12 11 12 3 12 6 12-15 12-14 12 15 12-13 12 35 12-29 12 13 12 13 12-5 12-2 12 10 12-20 12-5 12-19 12 21 12-14 12-39 12-6 12 9 12-7 12 13 12-10 12-5 12 23 12 3 12 14 12 26 12 8 12-3 12-22 12 6 12 8 12 7 12 4 12 0 12 4 12-18 12-8 12 13 12-4 12 5 12 1 12 11 12 10 12 7 12 8 12 10 12 3 12 5 12 9 12-14 12 4 12-8 12-14 12-1 12 8 12-11 12-26 12-13 12-5 12-19 12 24 12 3 12 15 12 8 12-19 12-18 12-14 12 9 12 37 12-10 12 14 12-17 12 34 12-15 12 3 12 4 12 7 12-12 12 5 12 14 12-5 12 5 12-9 12 0 12-6 12-1 12-16 12-5 12 9 12-5 12-22 12 13 12 13 12 5 12-15 12 17 12 3 12-8 12 6 12 23 12-1 12 5 12-6 12 16 12 16 12 2 12 0 12 6 12 5 12-4 12 3 12-2 12-5 12 2 12-1 12 0 12 0 12 5 12-2 12-3 12 4M265 2270l12-6 12-5 12-5 12-9 12-1 12-6 12-8 12-2 12-5 12-10 12 4 12 2 12 1 12 0 12 0 12-8 12-2 12-5 12-6 12-8 12-16 12 6 12 3 12 18 12-8 12 1 12 4 12-2 12 16 12-17 12 1 12 10 12 4 12-3 12 3 12-4 12 0 12 3 12-2 12-9 12-3 12-17 12 13 12-2 12-30 12 0 12 9 12-5 12 8 12-1 12 22 12-17 12 6 12-5 12 15 12 6 12-5 12 18 12 1 12-4 12 1 12-10 12-11 12 4 12-6 12 3 12-2 12 7 12 2 12-21 12 14 12 4 12-31 12 10 12 8 12-19 12 16 12 8 12 12 12 3 12 5 12 5 12-13 12 8 12-4 12 1 12-2 12 2 12-5 12 10 12 4 12 3 12 1 12 4 12-3 12-2 12 2 12 4 12 2 12 5 12 4 12 5 12-2 12-1 12-2 12-5 12 4 12 1 12-2 12-9 12-7 12 5 12 2 12 7 12 7 12-2 12-3 12 2 12-1 12 1 12 2 12 3 12 0 12 5 12 3 12 0 12 1 12 2 12-2 12 5 12-1 12 4 12 0 12-5 12 1 12 1 12-3 12-3 12 2 12-2 12 1 12 1 12 1 12 3 12 1 12-3 12 4 12-1 12-1 12-3 12 0 12-4 12 1 12 6 12-2 12-4 12 6 12 0 12 2 12-1 12 4 12-4 12 0 12-3 12 4 12-2 12 4 12 1 12-5 12 2 12 1 12-2 12-2 12 3 12 1 12-4 12 0 12-3 12-5 12 4 12 0 12-5 12-7 12-1 12 6 12-2 12-2 12-5 12 4 12 0 12 3 12 5 12-3 12 3 12 3 12 2 12-4 12 3 12-2 12 1 12-1 12 6 12-1 12-2 12 4 12-4 12 2 12-7 12 3 12 0 12 0 12-1 12 3 12-3 12 4 12 0 12 1 12 0 12-1 12 0 12-2 12-4 12-2 12 4 12 1 12-2 12-4 12 2 12 5 12-1M265 2270l12-1 12-1 12-1 12-1 12-1 12-1 12 0 12-1 12-1 12 0 12 0 12-2 12 0 12 0 12-1 12-4 12-2 12 3 12-4 12-1 12-5 12 0 12 4 12-2 12-1 12 2 12 1 12-3 12-1 12-1 12 2 12 0 12 0 12-2 12 1 12-2 12-1 12 5 12-2 12 1 12 1 12-2 12-2 12 1 12-2 12-3 12-4 12-7 12-1 12-3 12-3 12 5 12-18 12 5 12-2 12-7 12 7 12 6 12-12 12 7 12 6 12 4 12-9 12 8 12 1 12 0 12-2 12 11 12-5 12 3 12-6 12 6 12-3 12-1 12-7 12-1 12-4 12 6 12-4 12 6 12 9 12-4 12-8 12-3 12 0 12-13 12 2 12 2 12-5 12 7 12-9 12 2 12 6 12-4 12-9 12 7 12 3 12 0 12 8 12-3 12-2 12-10 12-10 12-7 12-2 12 0 12-19 12 14 12 13 12-23 12 1 12 2 12-13 12 5 12-32 12 16 12-6 12 12 12 15 12 1 12 12 12 11 12-1 12-11 12 10 12 4 12 8 12-2 12 4 12 4 12 8 12 8 12-5 12-1 12-9 12 4 12-4 12 7 12-9 12 1 12 8 12-12 12 8 12-2 12 13 12 9 12-6 12-15 12-7 12-2 12 3 12 17 12-8 12 17 12-13 12 3 12 3 12 4 12 12 12 2 12 2 12 1 12 3 12 0 12 4 12-6 12 6 12 3 12 0 12-3 12 0 12 0 12-2 12 3 12 1 12-1 12-7 12 2 12 4 12 1 12-2 12 2 12-4 12 1 12 2 12-2 12-1 12 0 12-3 12 0 12 0 12 3 12-3 12 0 12 1 12 5 12-1 12-1 12-3 12 0 12-4 12 3 12 0 12 5 12 0 12-1 12-1 12-1 12-1 12 0 12-1 12-1 12-2 12 2 12 3 12 1 12-2 12-1 12-1 12 3 12 1 12-1 12 1 12 1 12 0 12 3 12 0 12 2 12-2 12-1M265 2270l12-2 12-1 12-2 12-1 12-3 12 1 12-3 12 0 12 0 12 0 12-1 12 1 12-3 12 3 12-2 12 0 12-2 12 0 12 0 12 0 12-2 12-2 12 1 12 1 12-1 12-2 12 0 12 1 12 1 12-4 12 3 12-2 12-1 12 0 12-2 12-4 12-5 12 4 12 2 12-6 12-2 12-3 12-1 12 4 12-2 12-1 12 3 12 0 12 1 12 3 12 2 12 3 12 2 12-1 12 0 12 7 12 1 12 1 12-1 12-5 12 4 12 1 12 1 12 2 12 0 12-1 12-1 12-2 12 1 12-2 12-5 12 2 12 0 12 1 12-1 12-1 12 1 12-3 12 3 12 2 12 0 12 2 12 0 12 3 12-2 12-3 12 1 12 2 12 1 12 3 12 0 12-1 12 0 12 2 12 1 12 0 12-1 12-1 12 1 12-1 12-3 12 0 12-2 12-1 12 2 12-2 12 1 12-1 12 0 12-3 12 3 12 0 12 0 12 0 12 0 12-2 12-1 12 2 12-2 12-2 12 2 12 0 12-5 12-2 12-5 12 2 12 2 12-3 12-3 12 3 12 0 12 1 12-12 12 4 12 2 12-8 12 1 12 2 12-1 12 1 12-3 12-3 12 0 12-2 12 10 12 8 12 5 12-7 12 0 12-5 12 5 12-5 12 10 12-4 12-1 12 4 12-2 12 4 12 5 12-1 12-2 12 1 12-1 12 1 12-1 12 2 12-2 12-4 12 4 12 1 12-2 12 1 12 3 12 1 12-1 12 2 12 0 12-1 12-1 12-5 12 3 12-4 12 1 12 4 12 3 12 2 12 0 12 0 12 2 12-2 12 1 12 2 12 1 12-1 12-1 12 2 12 0 12-3 12 0 12-1 12-3 12-4 12-2 12-5 12 5 12 1 12 3 12-3 12-3 12 4 12-2 12 8 12-2 12 0 12 0 12 1 12 3 12 1 12 0 12 3 12-1 12 3 12 0 12 1 12-1 12 1 12-1 12 2 12 0 12 1M265 2270l12-2 12-1 12-2 12-2 12-1 12-2 12-2 12-1 12-3 12 1 12 1 12-1 12 0 12-2 12-4 12 1 12 2 12 4 12-2 12 2 12-4 12-2 12-1 12-2 12-6 12 5 12-3 12 4 12 0 12-9 12 5 12-7 12 3 12-5 12-1 12 5 12-1 12-2 12-7 12-3 12-7 12-10 12 3 12-4 12 3 12-20 12 17 12-1 12-5 12 3 12-23 12-7 12-5 12 19 12 1 12 2 12-10 12 12 12 14 12-1 12 7 12-1 12 0 12-2 12 4 12-9 12-5 12-4 12 3 12-19 12 2 12-15 12-24 12-8 12 7 12-16 12-16 12-40 12 12 12 2 12-24 12-42 12 18 12-5 12 8 12 27 12-10 12-33 12-1 12 32 12 1 12 12 12 22 12-13 12-39 12 44 12 24 12 2 12 4 12-22 12-2 12-21 12 45 12-20 12-1 12 3 12 15 12-10 12 11 12-38 12 18 12 13 12 13 12 17 12 2 12 8 12-38 12-31 12 21 12-14 12 3 12 29 12-23 12-49 12 1 12-20 12-26 12-11 12-56 12 81 12 37 12-9 12-5 12-70 12-51 12 19 12-16 12-13 12-25 12-10 12-37 12 27 12-34 12-29 12-20 12 12 12-28 12-98 12 31 12 66 12-18 12 81 12 95 12-31 12-47 12 81 12-2 12 45 12-1 12 46 12-41 12-9 12 4 12 63 12-29 12 6 12 5 12 5 12 15 12 32 12 8 12-28 12-2 12 29 12 39 12-13 12 27 12-20 12-19 12-9 12-25 12 13 12-33 12 12 12-20 12 22 12 13 12-28 12 41 12 26 12 0 12 4 12 26 12 3 12 10 12-8 12-10 12-13 12-8 12 33 12-21 12 20 12 17 12 3 12-36 12 1 12-10 12 7 12 17 12-37 12 38 12-12 12-1 12 10 12-5 12-2 12 6 12-7 12 5 12-1 12-21 12-10 12-29 12 30 12-9 12 4 12-1 12-9 12-4 12 7" stroke="#F1BDBD" stroke-width="5.0" fill="none" opacity="0.80"/></g>
</g>
<line x1="26.5" x2="303.5" y1="162.7" y2="162.7" stroke="#F2E6E6" stroke-width="1" opacity="0.7"/>
<line x1="26.5" x2="303.5" y1="98.3" y2="98.3" stroke="#F2E6E6" stroke-width="1" opacity="0.7"/>
<line x1="26.5" x2="303.5" y1="34.0" y2="34.0" stroke="#F2E6E6" stroke-width="1" opacity="0.7"/>
<polyline points="26.4,224.5 27.6,224.7 28.8,224.0 30.1,224.0 31.2,222.4 32.5,222.4 33.6,220.8 34.6,219.8 36.0,218.9 37.4,218.1 38.4,216.8 39.8,214.9 40.8,214.4 42.0,212.7 43.2,212.0 44.4,210.5 45.6,208.8 46.6,206.9 48.0,206.1 49.1,205.0 50.4,202.4 51.7,199.8 52.8,198.4 54.1,195.7 55.2,194.4 56.8,192.0 58.4,190.9 60.0,191.2 61.6,189.9 62.8,188.9 64.0,189.3 65.4,185.4 66.5,184.1 67.9,181.5 69.1,180.0 70.5,179.5 72.0,179.3 73.1,177.7 74.4,175.1 75.6,174.0 76.9,171.3 78.7,167.4 80.8,161.0 82.0,157.9 83.3,157.2 84.6,155.9 85.8,154.1 87.2,150.8 88.5,146.9 89.8,147.1 91.0,145.6 92.3,144.4 93.8,142.1 94.9,140.5 96.1,138.6 97.4,138.0 98.7,134.1 100.8,130.3 102.6,126.4 104.4,127.7 106.4,123.8 107.6,122.7 109.0,123.1 110.1,124.4 111.3,125.4 112.6,129.7 113.8,128.7 115.1,127.2 116.4,121.5 117.7,115.1 119.0,101.0 120.3,89.5 121.5,85.6 122.8,98.5 124.1,93.3 125.4,90.8 126.7,78.0 127.9,95.9 128.7,112.6 130.0,103.6 131.8,108.7 133.6,107.4 135.6,115.1 137.7,128.0 138.7,120.3 140.3,119.0 142.0,121.0 143.1,119.7 144.6,117.7 146.4,110.0 147.9,97.2 149.2,102.3 151.0,101.0 152.3,83.1 153.8,66.7 155.1,51.3 156.4,35.9 157.7,18.0 158.5,-3.0 160.8,-3.0 161.0,15.4 162.1,33.3 163.3,46.2 164.6,55.1 166.2,56.9 167.2,44.9 168.0,51.3 168.7,64.1 169.9,82.4 171.3,88.0 172.2,85.8 173.1,90.3 174.4,95.9 175.5,83.6 176.7,85.8 178.0,78.0 178.9,71.2 180.0,81.3 181.2,82.4 182.5,89.2 184.1,101.5 185.2,108.2 186.3,109.8 187.9,108.2 189.7,100.4 191.5,90.3 192.6,93.7 193.7,101.5 194.8,110.5 196.0,113.8 197.1,110.5 198.7,111.2 199.8,104.9 200.9,95.9 202.0,98.1 203.6,93.7 205.4,90.3 206.7,84.7 208.1,71.2 209.4,73.5 210.6,65.0 211.7,53.8 212.9,57.2 214.0,47.1 215.0,38.5 215.9,40.3 216.8,42.9 217.6,50.0 218.9,52.6 219.9,57.0 221.2,40.3 222.4,24.4 223.3,14.7 224.2,30.6 225.6,32.3 226.5,35.9 227.7,47.3 228.8,37.6 230.0,34.1 230.9,26.2 232.1,12.9 233.2,13.8 234.4,26.2 235.3,31.5 236.2,19.1 237.6,13.8 238.5,15.6 239.7,22.6 241.1,32.3 242.3,27.9 243.7,26.2 244.6,20.0 245.4,-3.0 246.8,23.0 248.1,-3.0 251.5,-3.0 252.3,6.7 253.2,-3.0" fill="none" stroke="#000" stroke-width="1.6" stroke-linejoin="round"/>
<path d="M26.5,0 V226.8" fill="none" stroke="#222" stroke-width="1.1"/><path d="M26,226.9 H303.5 M303.5,227.4 V221.5" fill="none" stroke="#262626" stroke-width="1.2"/>
<path d="M72.7,227 v-5.5 M118.8,227 v-5.5 M165.0,227 v-5.5 M211.2,227 v-5.5 M257.3,227 v-5.5 " stroke="#333" stroke-width="0.9" opacity="0.55"/>
<path d="M26.5,162.7 h3 M26.5,98.3 h3 M26.5,34.0 h3 " stroke="#222" stroke-width="1"/>
<line x1="453.5" x2="453.5" y1="0" y2="227" stroke="#E0E0E0" stroke-width="1"/>
<line x1="499.5" x2="499.5" y1="0" y2="227" stroke="#E0E0E0" stroke-width="1"/>
<line x1="545.5" x2="545.5" y1="0" y2="227" stroke="#E0E0E0" stroke-width="1"/>
<line x1="591.5" x2="591.5" y1="0" y2="227" stroke="#E0E0E0" stroke-width="1"/>
<line x1="637.5" x2="637.5" y1="0" y2="227" stroke="#E0E0E0" stroke-width="1"/>
<line x1="683.5" x2="683.5" y1="0" y2="227" stroke="#E0E0E0" stroke-width="1"/>
<line x1="407.5" x2="683.5" y1="155.8" y2="155.8" stroke="#E0E0E0" stroke-width="1"/>
<line x1="407.5" x2="683.5" y1="84.7" y2="84.7" stroke="#E0E0E0" stroke-width="1"/>
<line x1="407.5" x2="683.5" y1="13.5" y2="13.5" stroke="#E0E0E0" stroke-width="1"/>
<defs><linearGradient id="gB" x1="0" y1="100" x2="0" y2="227" gradientUnits="userSpaceOnUse"><stop offset="0" stop-color="#FADCDC"/><stop offset="0.3" stop-color="#F8D2D2"/><stop offset="1" stop-color="#F7CCCC"/></linearGradient></defs>
<polygon points="407.5,226.6 407.5,108.0 409.0,102.0 412.0,101.0 415.0,104.0 418.0,106.0 420.3,112.0 421.3,125.0 421.6,226.6" fill="url(#gB)"/>
<path d="M414.5 157.4v25.9M409.6 125.8v4.3M414.5 152.1v28.8M420.4 146.7v16.9M409.4 186.6v17.5M410.2 200.8v5.1M410.6 154.9v29.9M409.8 130.6v24.6M412.5 206.8v4.5M411.2 135.6v26.1M409.4 177.5v27.1M421.0 192.7v5.3M414.4 125.1v7.2M411.2 184.5v19.0M409.7 132.8v5.7M420.3 186.7v16.3M420.8 212.5v9.4M411.4 122.0v20.3M415.9 159.6v24.1M415.0 136.2v21.4M420.6 105.7v16.6M409.9 185.9v15.2M419.2 177.0v28.9M415.7 168.5v29.3M418.7 138.9v6.7M420.3 107.3v28.0M420.4 176.1v28.7M416.1 185.8v19.5M411.0 109.1v23.3M414.0 114.3v18.5M411.5 130.2v26.8M416.2 186.0v25.2M413.8 151.9v15.2M412.8 189.5v27.0M412.0 181.8v9.6M408.1 178.8v24.2M412.4 214.4v11.6M412.3 187.4v25.9M409.9 204.9v15.3M411.6 143.4v17.7M415.0 133.8v5.6M416.4 182.5v22.1M413.3 198.6v4.4M409.7 102.1v18.4M415.0 126.2v17.7M408.0 104.2v29.0M419.8 108.0v21.1M414.8 161.9v25.9M416.5 208.2v17.8M420.2 113.4v25.4M412.3 205.9v20.1M420.9 186.9v14.2M415.0 190.0v5.5M415.2 165.3v22.7M412.5 169.7v23.1M413.1 178.4v27.5M412.9 160.5v16.6M419.2 131.0v11.4M413.2 175.0v8.0M421.0 157.8v23.0M413.5 103.1v14.0M415.6 110.4v29.5M415.8 152.8v4.7M411.3 138.8v20.9M410.3 155.8v11.0M415.5 179.1v17.5M418.0 171.6v6.2M416.7 155.6v23.7M420.5 140.4v26.1M411.1 174.8v4.1M419.0 151.3v15.8M414.6 142.8v10.0M417.2 172.1v5.4M411.6 207.1v11.4M411.9 166.5v13.7M420.6 213.0v7.4M411.0 119.7v15.6M411.8 177.6v27.0M408.9 103.0v6.9M412.1 115.4v15.2M412.8 183.6v29.1M421.0 148.4v20.7M409.8 170.2v27.0M419.8 116.1v8.3M420.0 180.2v23.8M408.9 171.1v4.6M417.8 191.4v12.4M408.0 184.3v30.0M416.3 142.1v12.6M418.8 211.4v13.5M410.9 214.6v11.4M413.9 135.7v22.8M421.1 154.0v26.2M413.3 148.5v24.9M420.9 186.8v22.3M419.0 205.7v20.3M415.1 144.6v4.2M415.0 140.9v4.0M421.2 135.4v28.2M408.2 141.4v24.4M417.0 177.4v16.7M409.2 195.6v23.8M414.4 164.6v24.9M414.6 154.7v16.6M417.8 184.6v12.7M418.3 143.2v21.5M413.0 203.4v22.6M418.3 143.8v13.1M413.8 169.5v4.9M415.3 206.8v5.7M419.9 165.8v29.9M417.6 182.7v23.6M413.6 113.6v26.2M419.7 183.0v9.7M414.6 159.2v13.5M414.5 152.6v29.5M416.3 212.3v13.7M410.4 188.7v13.9M415.9 164.8v23.2M412.0 178.0v13.6M418.4 156.8v20.7M421.3 132.2v4.1M419.9 160.4v20.8M419.0 202.4v14.0M421.1 144.9v22.9M419.1 141.7v14.9M412.9 139.3v14.7M419.3 107.0v29.7M418.5 164.3v20.7M412.0 187.9v26.7" stroke="#fff" stroke-width="0.6" opacity="0.6" fill="none"/>
<g clip-path="url(#clipR)"><path d="M407.8 133.1 408.6 110.8 409.4 156.7 410.0 133.5 410.5 153.8 411.0 118.9 411.8 141.9 412.6 126.1 413.2 140.7 413.8 175.1 414.3 147.5 415.1 169.8 415.9 189.8 416.4 181.3 417.2 180.4 418.1 180.3 419.0 173.9 419.7 171.9 420.4 191.5 420.9 190.3M407.8 120.1 408.4 124.9 409.1 115.2 409.7 134.8 410.4 150.9 411.1 160.2 411.7 119.0 412.5 127.2 413.0 98.9 413.6 120.0 414.4 146.1 415.1 161.9 415.6 141.9 416.5 142.4 417.3 154.5 418.1 181.9 418.8 182.0 419.4 186.6 420.3 182.4 421.1 162.8M407.8 144.9 408.4 124.6 409.3 116.2 409.9 92.9 410.6 118.3 411.3 142.6 411.9 159.7 412.4 170.9 413.0 161.3 413.9 134.0 414.8 138.0 415.4 165.3 416.0 191.1 416.5 163.0 417.2 147.1 417.8 108.9 418.5 107.3 419.2 134.1 420.0 161.7 420.6 188.1M407.8 118.6 408.5 155.4 409.1 130.7 410.0 135.0 410.5 120.3 411.2 125.8 412.0 187.4 412.9 150.1 413.5 180.5 414.2 178.2 415.0 181.1 415.6 195.5 416.3 196.7 416.8 189.1 417.6 189.0 418.5 181.6 419.2 182.9 419.9 198.9 420.8 182.7M407.8 165.2 408.3 154.6 409.0 149.9 409.7 161.2 410.4 163.0 411.0 160.0 411.6 161.5 412.2 156.3 412.8 146.5 413.6 151.5 414.1 175.1 415.0 154.8 415.8 156.9 416.5 164.2 417.3 179.7 418.2 158.1 418.8 189.4 419.5 180.9 420.1 193.0 420.6 188.6M407.8 130.6 408.7 156.7 409.2 174.8 409.9 176.5 410.5 116.5 411.4 150.2 412.3 155.4 412.8 157.7 413.4 183.7 414.3 200.2 415.0 172.3 415.9 160.5 416.7 177.4 417.5 180.4 418.2 183.3 419.1 181.6 419.6 178.0 420.3 160.8 421.0 160.1M407.8 162.8 408.5 150.7 409.4 152.5 409.9 174.7 410.7 182.5 411.5 193.8 412.3 197.9 412.9 199.6 413.8 192.2 414.3 190.6 415.1 194.7 415.7 158.3 416.4 200.6 417.0 193.9 417.9 193.4 418.7 202.3 419.6 197.1 420.1 204.1 420.7 201.0M407.8 147.7 408.6 138.3 409.3 177.9 410.0 123.4 410.8 157.1 411.3 160.0 411.8 169.0 412.6 161.7 413.4 138.2 413.9 130.8 414.7 181.6 415.6 175.2 416.4 190.7 417.3 187.6 418.0 189.6 418.8 191.4 419.4 183.9 420.0 191.1 420.8 189.8M407.8 166.6 408.4 176.5 409.1 184.0 409.7 176.0 410.4 154.0 411.0 177.3 411.6 165.2 412.3 168.6 413.0 168.3 413.5 167.3 414.4 180.2 415.1 171.8 415.6 141.4 416.4 145.5 417.0 168.2 417.6 168.5 418.3 175.1 419.1 192.4 420.0 190.4 420.6 188.5M407.8 75.9 408.7 97.9 409.4 144.7 409.9 142.1 410.5 156.1 411.4 105.8 412.1 106.1 413.0 90.2 413.6 140.2 414.5 108.0 415.0 138.6 415.7 162.4 416.5 127.4 417.2 120.7 418.0 146.1 418.5 169.1 419.3 168.9 420.1 181.9 421.0 171.2M407.8 92.6 408.4 95.4 409.3 144.2 410.2 150.3 410.9 173.0 411.6 161.5 412.5 178.8 413.0 179.6 413.6 174.1 414.2 149.2 415.0 156.8 415.6 160.9 416.4 185.8 416.9 181.6 417.5 176.9 418.3 165.8 419.0 159.6 419.8 153.3 420.7 191.1M407.8 138.0 408.4 144.9 409.1 122.4 410.0 132.1 410.8 148.1 411.4 148.7 412.1 142.9 412.9 159.3 413.7 142.4 414.6 138.2 415.2 129.7 415.8 158.1 416.3 172.0 416.8 146.1 417.3 157.4 418.1 101.8 418.7 155.5 419.5 144.7 420.1 167.2 420.7 146.0M407.8 156.8 408.5 162.1 409.1 183.2 409.8 166.7 410.3 169.0 411.2 178.6 411.7 192.2 412.4 190.1 413.1 177.5 413.7 187.6 414.2 172.9 415.0 191.3 415.7 195.1 416.4 175.1 417.3 178.6 418.1 177.3 418.9 202.1 419.5 194.2 420.2 200.6 420.9 185.4M407.8 128.3 408.5 167.7 409.0 134.2 409.8 144.1 410.5 137.8 411.1 127.9 411.9 169.7 412.7 137.6 413.4 133.8 414.1 135.7 414.8 77.1 415.3 98.3 416.1 131.9 416.7 115.4 417.4 118.2 418.1 103.3 418.6 124.7 419.2 146.9 419.8 168.0 420.7 148.4M408.0 132.7 408.6 112.4 409.3 118.7 409.8 143.5 410.3 133.1 410.9 150.2 411.5 125.2 412.2 131.3 412.7 162.6 413.2 145.0M408.0 122.3 408.8 104.7 409.4 89.8 410.0 104.7 410.6 100.0 411.2 127.0 411.7 140.1 412.5 141.0 413.0 118.8M408.2 112.7 408.8 83.5 409.3 116.4 409.7 82.1 410.2 118.0" stroke="#F4C4C6" stroke-width="0.5" fill="none"/></g>
<g clip-path="url(#clipR)"><path d="M422.0 226.0 422.7 218.9 423.4 221.0 423.9 225.1 424.7 221.5 425.3 224.4 425.9 216.2 426.6 219.4 427.2 225.0 427.6 222.9 428.2 222.7 428.8 216.9 429.4 217.3 429.9 222.9 430.3 220.6 430.9 223.9 431.3 222.6 432.0 222.0 432.5 223.1 433.1 218.3 433.6 223.3 434.4 224.4 434.8 223.1 435.3 220.8 435.8 210.7 436.4 218.2 437.1 218.0 437.5 224.6M422.0 225.8 422.7 225.4 423.3 225.3 423.9 222.8 424.4 224.8 425.1 225.5 425.5 225.5 426.0 222.4 426.6 223.8 427.1 224.8 427.5 223.8 428.2 224.0 428.8 223.1 429.5 223.5 430.2 221.2 430.9 222.9 431.5 223.3 432.0 224.8 432.8 224.7 433.5 221.8 433.9 218.9 434.7 222.6 435.2 218.1 435.7 216.0 436.2 218.2 436.9 211.5 437.6 219.1M422.0 223.5 422.6 213.8 423.3 222.4 424.0 223.4 424.4 221.6 425.1 222.5 425.7 223.7 426.3 216.5 426.8 220.1 427.5 217.6 428.3 224.1 428.9 217.0 429.5 208.0 430.0 212.9 430.8 219.5 431.3 219.3 431.8 194.3 432.5 212.8 433.1 203.5 433.6 198.7 434.3 222.8 434.8 210.5 435.5 212.6 436.1 172.3 436.8 214.4 437.3 217.5M422.0 225.7 422.5 225.9 423.1 225.1 423.6 224.7 424.3 222.7 424.9 225.2 425.4 221.6 426.0 218.0 426.6 220.8 427.3 223.0 427.8 215.6 428.5 223.7 429.2 223.1 429.8 222.5 430.4 219.3 430.9 205.4 431.5 215.9 432.1 219.1 432.6 220.8 433.3 202.5 433.9 212.1 434.7 213.0 435.2 221.3 435.8 219.5 436.4 223.1 437.2 221.0M422.0 225.8 422.6 219.6 423.2 225.0 423.8 222.5 424.6 221.5 425.1 222.9 425.8 224.5 426.3 225.3 426.7 225.1 427.4 224.8 428.0 223.8 428.6 223.1 429.0 223.9 429.5 224.2 430.2 224.3 430.9 224.5 431.4 220.0 432.0 222.7 432.7 223.5 433.1 217.6 433.9 221.7 434.6 220.6 435.2 212.7 435.8 222.2 436.4 224.8 436.9 213.5 437.5 222.1M422.0 224.9 422.6 222.5 423.1 222.9 423.5 216.9 424.1 224.3 424.6 220.6 425.2 221.5 426.0 221.0 426.5 223.1 427.1 206.2 427.7 213.9 428.4 214.0 429.1 212.6 429.6 224.3 430.1 217.7 430.7 212.1 431.3 218.9 431.9 222.0 432.5 213.9 433.0 206.6 433.7 216.4 434.2 222.5 434.7 215.2 435.3 208.9 435.9 220.0 436.4 216.6 437.1 221.1M422.0 224.5 422.5 225.4 422.9 224.9 423.7 224.3 424.2 225.3 424.8 221.7 425.5 219.6 426.1 210.0 426.8 222.4 427.3 224.6 427.8 218.5 428.3 210.5 428.9 216.5 429.4 218.9 429.9 207.6 430.6 210.3 431.1 220.6 431.7 219.8 432.4 216.2 433.0 218.3 433.7 213.1 434.4 220.8 434.9 211.7 435.5 220.5 436.2 220.9 436.8 216.7 437.4 217.4M422.0 226.1 422.6 225.8 423.3 221.7 424.1 217.4 424.7 219.4 425.3 224.1 425.8 225.1 426.5 223.0 427.2 225.4 427.8 223.9 428.2 224.4 428.9 220.7 429.4 210.7 429.9 217.4 430.6 221.6 431.2 221.6 431.9 219.0 432.4 196.7 432.8 222.0 433.5 223.2 434.2 221.0 434.8 219.2 435.4 222.6 436.1 218.5 436.7 221.6 437.2 223.9M422.0 224.4 422.7 217.5 423.2 216.3 423.8 215.7 424.4 220.0 424.8 220.8 425.5 219.1 426.0 221.0 426.6 217.9 427.4 221.7 427.8 218.5 428.5 219.4 429.2 220.3 429.8 224.5 430.5 217.9 431.2 219.8 432.0 216.8 432.7 208.5 433.3 205.3 433.9 217.9 434.4 219.0 434.9 193.0 435.6 208.3 436.2 221.4 436.6 207.3 437.3 200.5M422.0 225.5 422.7 222.6 423.5 222.6 423.9 223.3 424.4 221.6 425.0 217.0 425.6 216.0 426.1 194.8 426.5 198.7 427.0 214.0 427.6 206.2 428.2 213.3 428.8 212.8 429.6 188.7 430.3 176.5 430.9 217.3 431.5 222.6 432.0 212.1 432.5 221.0 433.3 215.0 433.8 204.9 434.5 212.7 435.0 221.5 435.7 218.7 436.2 223.6 437.0 223.8 437.6 222.3M422.0 225.9 422.6 225.1 423.1 225.3 423.5 225.0 424.0 224.3 424.6 224.6 425.3 221.6 425.9 224.2 426.6 223.6 427.3 224.6 427.8 223.3 428.3 222.0 428.8 220.2 429.3 223.9 429.7 220.1 430.4 224.1 431.0 220.9 431.7 221.6 432.3 222.5 432.8 221.4 433.3 223.5 433.8 220.0 434.3 220.7 435.0 215.6 435.6 218.0 436.3 217.4 436.8 225.2 437.3 223.0 437.8 221.5M422.0 225.5 422.6 218.5 423.2 221.7 423.7 222.5 424.3 218.9 425.0 220.1 425.5 222.4 426.1 218.1 426.8 222.2 427.3 223.9 428.0 225.4 428.6 221.7 429.2 222.8 429.8 223.8 430.5 225.3 431.0 225.3 431.6 215.5 432.2 220.3 432.8 218.0 433.3 213.6 433.9 218.7 434.5 212.0 435.0 221.8 435.5 224.0 436.0 216.7 436.7 217.9 437.2 223.3 437.7 223.3M422.0 225.8 422.5 225.5 423.0 225.4 423.5 225.4 424.0 224.4 424.7 217.4 425.3 217.6 425.7 222.8 426.2 216.8 426.6 223.3 427.2 223.9 427.6 219.7 428.3 222.8 428.8 221.9 429.4 212.0 430.1 221.2 430.9 221.0 431.4 221.3 432.0 222.3 432.5 219.1 433.2 221.1 433.8 222.5 434.5 216.2 435.0 210.4 435.8 212.0 436.3 224.5 436.9 223.0 437.7 217.3M422.0 225.7 422.7 224.2 423.3 218.7 423.8 223.9 424.4 223.5 424.9 223.8 425.4 214.9 426.2 211.0 426.9 224.0 427.6 222.3 428.1 222.7 428.6 221.6 429.2 223.3 429.7 215.8 430.2 209.8 431.0 222.6 431.7 219.1 432.4 212.2 433.1 217.0 433.7 210.4 434.1 217.2 434.8 204.1 435.4 221.7 435.9 222.1 436.4 220.9 437.0 224.4 437.7 219.2M422.0 225.5 422.8 225.5 423.4 223.1 423.9 223.5 424.6 223.0 425.1 223.4 425.8 220.0 426.5 222.2 427.0 211.6 427.7 223.1 428.3 223.7 429.1 222.4 429.7 223.4 430.4 221.5 431.1 215.1 431.8 203.6 432.4 217.9 432.9 220.3 433.7 223.5 434.4 222.5 434.8 217.4 435.5 221.9 436.0 217.7 436.6 214.4 437.3 220.2M422.0 225.7 422.6 222.5 423.4 224.9 424.1 224.3 424.8 224.8 425.3 221.0 425.8 220.0 426.5 223.8 427.0 224.4 427.7 223.0 428.3 224.1 428.8 221.3 429.3 222.8 429.8 224.0 430.3 225.6 430.9 222.1 431.4 213.8 432.0 221.2 432.6 221.3 433.2 219.3 433.8 216.7 434.3 217.0 434.9 223.0 435.6 216.8 436.2 221.6 436.7 220.8 437.3 221.0M422.0 225.4 422.6 224.4 423.2 224.4 423.8 224.5 424.5 222.3 424.9 223.4 425.4 221.1 426.0 221.6 426.6 223.5 427.3 225.1 427.8 216.4 428.2 223.1 428.8 222.4 429.3 221.3 430.0 215.4 430.8 218.3 431.3 206.3 431.8 215.8 432.6 222.1 433.3 215.1 433.8 219.0 434.5 207.3 435.0 204.5 435.7 210.7 436.4 214.6 437.0 224.5 437.7 217.1M422.0 225.9 422.5 224.9 423.0 224.6 423.8 222.9 424.3 225.4 425.0 224.9 425.5 215.5 426.2 223.2 426.7 220.8 427.2 224.5 427.7 223.9 428.5 224.7 429.2 217.8 429.7 225.2 430.5 216.4 430.9 220.3 431.5 222.3 432.2 221.2 432.9 220.9 433.6 217.9 434.2 216.0 434.9 219.7 435.5 221.8 436.2 216.6 436.9 223.5 437.3 218.6 437.8 223.5M422.0 223.6 422.5 221.4 422.9 221.4 423.5 224.2 424.0 223.7 424.6 223.2 425.0 215.0 425.7 191.4 426.2 214.0 426.8 214.3 427.3 208.0 428.0 212.3 428.7 223.3 429.3 222.6 429.8 220.2 430.5 215.4 431.1 216.1 431.7 219.5 432.4 219.4 433.0 219.0 433.4 207.3 433.8 210.0 434.4 215.7 435.1 177.5 435.6 202.1 436.3 220.2 437.0 213.6 437.4 222.7M422.0 226.0 422.5 225.6 422.9 223.6 423.6 220.2 424.1 219.5 424.6 215.4 425.3 222.1 425.9 225.0 426.4 224.5 426.9 221.9 427.5 214.5 428.2 219.0 429.0 215.9 429.7 222.4 430.3 219.3 430.8 220.4 431.5 222.4 432.0 209.1 432.4 221.9 432.9 209.6 433.4 221.7 434.1 222.5 434.8 221.9 435.3 213.1 436.0 204.2 436.5 222.5 437.1 217.9 437.6 225.0M422.0 224.4 422.8 223.2 423.4 223.1 423.9 222.6 424.5 220.9 425.3 217.6 426.0 221.3 426.7 208.1 427.2 211.8 428.0 206.6 428.6 202.1 429.2 213.8 429.9 210.7 430.5 207.3 431.2 218.1 431.7 219.7 432.5 223.6 433.0 224.7 433.5 220.4 434.1 214.9 434.7 222.7 435.1 220.3 435.6 223.0 436.1 213.7 436.9 205.0 437.6 218.6M422.0 225.4 422.5 223.7 423.1 222.4 423.7 214.0 424.3 216.9 424.8 216.2 425.3 217.1 425.9 216.9 426.5 217.3 427.0 224.6 427.6 222.4 428.1 222.1 428.5 222.0 429.0 222.7 429.5 221.4 429.9 218.4 430.6 220.8 431.3 223.6 431.9 219.4 432.6 220.1 433.2 221.0 433.7 222.1 434.3 219.9 435.0 219.9 435.4 222.5 436.0 214.3 436.6 221.1 437.3 224.1M422.0 226.1 422.5 225.2 423.1 220.2 423.8 221.9 424.3 224.2 425.0 220.3 425.5 218.5 426.1 223.2 426.7 224.3 427.1 217.7 427.9 223.1 428.5 224.3 429.2 224.9 429.9 221.8 430.5 220.5 431.3 221.9 431.8 218.6 432.6 219.3 433.1 221.6 433.6 220.4 434.3 222.4 434.9 219.1 435.3 213.3 436.1 210.4 436.6 217.0 437.1 216.2 437.8 195.3M422.0 224.8 422.6 225.6 423.2 225.2 424.0 225.6 424.5 222.4 425.1 224.9 425.8 224.4 426.4 221.4 427.2 222.5 427.8 214.0 428.6 222.6 429.3 217.1 430.1 223.1 430.7 225.2 431.3 222.8 432.1 218.2 432.9 217.8 433.4 220.5 434.1 219.1 434.6 212.8 435.1 218.2 435.8 221.7 436.3 222.1 436.9 223.2 437.5 220.0M422.0 224.3 422.6 216.7 423.1 223.1 423.8 222.9 424.5 219.2 425.2 220.4 425.8 217.8 426.3 218.3 426.8 216.4 427.4 219.1 428.0 182.9 428.7 211.5 429.3 222.1 429.8 210.7 430.4 223.3 430.9 215.2 431.6 212.3 432.2 216.4 432.6 202.9 433.3 211.0 433.7 219.4 434.5 211.9 435.0 222.2 435.8 219.0 436.5 218.0 437.2 209.2M422.0 225.1 422.5 224.1 423.0 224.1 423.4 224.3 424.1 223.8 424.7 221.8 425.5 225.3 426.0 225.0 426.5 218.5 427.3 222.7 427.8 215.9 428.5 220.5 429.1 214.9 429.9 216.9 430.4 216.8 431.1 222.0 431.8 224.1 432.3 221.9 432.8 220.5 433.5 220.4 434.0 205.5 434.5 218.6 435.2 221.8 435.8 218.5 436.4 218.8 437.1 222.6 437.8 224.7M422.0 225.8 422.5 225.1 423.0 223.6 423.5 222.8 424.1 222.8 424.8 224.4 425.6 222.7 426.1 218.7 426.5 221.7 426.9 220.4 427.4 219.7 428.1 225.0 428.5 216.0 429.1 219.8 429.6 222.6 430.2 224.4 430.6 218.9 431.4 215.9 431.8 219.7 432.3 214.9 432.9 222.7 433.4 222.0 434.0 221.1 434.6 222.9 435.3 223.9 436.0 223.4 436.7 219.4 437.3 221.3M422.0 225.9 422.7 225.3 423.3 224.1 423.8 223.3 424.3 220.2 425.0 223.2 425.5 224.4 426.3 223.7 426.9 225.0 427.6 221.4 428.4 224.2 429.1 222.7 429.7 221.4 430.2 217.2 430.7 220.4 431.3 223.7 431.9 217.2 432.6 214.2 433.2 221.8 433.8 222.8 434.6 221.2 435.2 224.3 435.7 214.3 436.1 216.9 436.6 223.9 437.3 219.6M422.0 225.3 422.5 223.6 423.0 220.3 423.6 223.4 424.0 221.6 424.7 223.3 425.2 222.9 425.8 220.7 426.4 224.5 426.9 224.1 427.3 224.4 427.9 222.8 428.5 220.8 429.1 219.1 429.8 222.1 430.4 224.1 430.9 217.6 431.5 221.9 432.0 224.9 432.6 211.7 433.3 211.2 433.8 211.1 434.3 219.8 434.9 214.5 435.5 216.7 436.2 221.2 436.8 219.5 437.3 223.1M422.0 226.1 422.8 225.4 423.5 223.3 424.0 224.1 424.7 221.2 425.3 225.3 425.9 222.9 426.3 223.5 426.8 223.8 427.4 220.2 428.0 218.5 428.6 220.9 429.0 225.3 429.7 223.1 430.4 219.9 430.9 223.7 431.3 225.1 431.8 224.7 432.3 222.8 432.9 224.5 433.4 224.8 434.0 223.9 434.8 214.7 435.3 215.6 435.9 223.3 436.5 215.6 436.9 222.4 437.3 221.9 437.8 223.8M422.0 220.9 422.6 214.9 423.4 220.4 424.0 221.4 424.5 219.7 425.2 221.2 425.7 222.3 426.4 216.3 427.1 219.2 427.7 217.1 428.4 212.5 429.2 214.0 429.6 209.5 430.1 213.3 430.6 204.5 431.3 212.8 431.9 207.0 432.4 209.4 432.8 212.8 433.4 202.2 434.2 208.8 434.8 216.3 435.4 206.3 435.9 207.5 436.4 211.9 436.9 216.4 437.5 213.0M422.0 226.1 422.7 224.8 423.3 223.8 424.0 222.5 424.5 222.8 425.0 221.2 425.7 225.0 426.5 222.2 427.0 220.5 427.5 205.0 428.1 209.9 428.7 220.5 429.4 210.3 430.1 223.7 430.6 220.8 431.4 219.9 432.0 203.7 432.5 223.2 433.3 221.3 433.8 217.0 434.6 213.1 435.1 219.8 435.9 215.7 436.4 224.3 436.9 225.2 437.6 223.2M422.0 222.9 422.7 223.5 423.4 224.7 424.1 220.9 424.7 224.6 425.4 222.5 426.2 223.3 426.8 214.2 427.5 216.8 428.0 208.0 428.7 215.6 429.2 217.5 429.7 222.9 430.2 222.6 430.7 223.0 431.2 221.9 431.8 220.4 432.5 213.5 433.0 217.3 433.5 222.0 434.1 222.1 434.8 223.9 435.3 219.8 435.8 214.2 436.3 218.4 437.0 224.2 437.4 221.6M422.0 225.8 422.5 225.3 423.1 219.4 423.8 223.7 424.5 221.9 424.9 225.0 425.5 225.7 426.0 220.2 426.5 221.1 427.0 224.0 427.6 224.9 428.2 220.8 428.8 223.3 429.4 218.5 430.2 223.8 430.9 220.1 431.6 221.9 432.1 219.1 432.8 218.2 433.3 223.1 434.1 208.6 434.8 222.9 435.3 214.7 435.7 215.4 436.2 218.7 436.9 224.7 437.5 221.3M422.0 226.1 422.8 223.8 423.5 220.4 424.2 219.3 424.7 218.6 425.2 219.8 425.9 222.8 426.3 225.4 427.0 222.9 427.4 223.0 428.2 220.8 428.7 221.5 429.3 217.8 429.8 212.6 430.3 222.6 431.0 219.9 431.4 220.3 432.0 217.8 432.5 223.0 433.2 198.8 433.8 218.4 434.5 220.5 435.3 205.6 435.8 206.2 436.3 221.5 436.8 224.1 437.3 223.1M422.0 225.2 422.6 223.7 423.2 221.8 424.0 224.5 424.6 222.4 425.4 218.2 425.9 221.2 426.6 224.5 427.1 224.6 427.8 220.9 428.2 218.8 428.8 223.4 429.6 217.7 430.1 222.3 430.7 222.0 431.2 216.1 431.9 218.1 432.6 220.5 433.2 222.7 433.6 219.6 434.3 188.7 434.8 219.3 435.4 220.1 435.9 224.4 436.7 217.4 437.2 221.5M422.0 223.9 422.4 224.8 422.8 223.1 423.3 224.5 423.9 222.9 424.3 223.0 424.8 218.4 425.4 218.9 426.1 211.6 426.5 223.1 427.2 220.7 427.9 215.0 428.4 222.6 429.1 219.9 429.9 222.8 430.3 215.5 430.9 219.8 431.6 214.5 432.0 207.4 432.5 208.8 433.1 216.7 433.5 207.3 434.2 218.2 434.8 220.9 435.4 217.7 436.1 222.3 436.6 221.6 437.4 215.7M422.0 225.0 422.5 220.3 423.1 222.3 423.8 224.5 424.5 224.6 425.1 219.3 425.7 221.3 426.2 221.7 427.0 221.8 427.6 224.4 428.1 209.2 428.8 215.9 429.4 217.4 429.8 213.3 430.5 215.4 431.1 194.6 431.7 181.9 432.4 210.4 432.9 208.4 433.3 210.3 433.9 200.4 434.6 207.4 435.2 208.0 435.9 215.7 436.3 210.1 436.9 221.3 437.4 207.4M422.0 222.4 422.7 221.6 423.3 223.8 423.8 220.9 424.5 218.2 425.0 224.1 425.8 221.7 426.4 222.8 426.9 213.6 427.5 221.0 428.2 221.9 428.8 220.5 429.2 224.9 429.8 221.5 430.4 220.2 431.0 213.9 431.7 216.5 432.3 213.9 432.8 217.3 433.5 214.7 434.0 221.5 434.7 215.3 435.3 220.2 435.9 219.8 436.5 216.4 437.1 215.8 437.6 220.5M422.0 224.9 422.6 224.2 423.2 223.3 423.9 224.0 424.4 219.2 425.0 220.0 425.7 219.5 426.4 190.8 427.1 215.4 427.7 218.2 428.2 202.5 428.8 202.9 429.5 203.8 430.2 210.3 430.8 209.9 431.3 189.6 431.9 220.8 432.4 223.3 433.0 221.7 433.6 223.8 434.3 223.4 435.0 224.5 435.6 222.1 436.3 219.4 436.9 214.3 437.4 209.7M438.3 225.2 438.9 225.6 439.6 215.6 440.0 222.8 440.6 222.2 441.2 224.0 441.8 218.8 442.5 222.6 443.2 223.9 443.7 222.8 444.4 221.5 445.1 212.6 445.5 225.1 446.3 217.5 447.0 219.6 447.5 213.1 448.1 223.0 448.6 221.1 449.3 219.7 449.9 218.5 450.3 213.6 450.8 220.5 451.4 222.4 451.9 219.5 452.7 222.1 453.4 218.1 454.1 221.1 454.5 212.5M438.3 225.2 438.8 220.1 439.4 224.1 440.1 219.5 440.7 221.7 441.1 216.8 441.9 222.9 442.5 223.0 443.1 222.9 443.9 224.4 444.4 223.5 445.0 219.1 445.5 220.0 445.9 209.1 446.7 214.2 447.4 216.8 448.1 221.5 448.7 218.3 449.2 221.6 449.8 219.8 450.5 215.3 451.2 205.9 451.7 217.9 452.3 223.0 453.1 223.0 453.7 215.3 454.3 220.1M438.3 224.1 438.8 223.2 439.3 216.2 439.7 224.4 440.4 223.5 440.9 222.2 441.5 224.0 442.0 220.1 442.6 222.0 443.2 222.0 444.0 214.3 444.6 221.7 445.3 224.0 445.8 219.2 446.4 219.4 447.1 223.1 447.6 222.9 448.2 212.3 448.8 219.8 449.4 214.8 450.2 213.3 450.8 202.1 451.4 218.1 451.9 221.6 452.4 223.5 453.2 221.0 453.8 221.3 454.5 222.1M438.3 226.0 438.9 224.8 439.7 224.0 440.3 223.5 440.8 222.7 441.4 212.9 442.0 221.9 442.5 221.4 442.9 215.5 443.5 222.2 444.0 211.4 444.4 221.8 445.1 225.6 445.7 225.0 446.3 219.4 446.8 221.2 447.5 220.6 448.1 207.7 448.8 221.5 449.4 225.3 450.0 223.5 450.4 219.9 451.0 223.2 451.4 213.7 452.0 222.1 452.6 222.0 453.1 222.0 453.9 223.4 454.4 221.1M438.3 224.6 439.1 224.5 439.8 221.8 440.2 214.1 440.7 214.9 441.2 217.3 442.0 210.4 442.6 220.3 443.1 223.6 443.6 222.9 444.3 218.6 444.7 223.5 445.2 216.3 445.9 222.7 446.4 223.4 446.9 212.0 447.4 224.4 448.1 221.1 448.7 217.9 449.2 211.2 449.7 223.2 450.2 224.4 450.6 221.9 451.3 216.2 451.7 213.6 452.2 221.3 452.9 220.6 453.7 220.4 454.3 223.3M438.3 225.9 439.0 224.0 439.8 223.8 440.3 225.5 440.8 223.7 441.5 218.6 442.2 212.3 442.7 222.8 443.1 223.9 443.9 222.0 444.6 224.7 445.3 223.4 445.9 225.3 446.6 220.0 447.2 217.3 447.9 219.6 448.5 220.7 449.2 217.9 449.9 212.9 450.7 197.3 451.2 221.4 451.7 221.6 452.2 221.4 452.9 197.5 453.7 221.8 454.1 220.7M438.3 225.6 438.7 224.7 439.5 224.2 440.2 221.4 440.6 225.0 441.1 224.2 441.7 220.7 442.5 221.7 443.1 224.7 443.6 222.7 444.2 223.6 444.8 224.2 445.3 223.7 446.0 223.7 446.4 222.6 447.0 224.0 447.7 215.8 448.2 223.5 448.9 224.1 449.5 222.7 450.2 216.5 450.8 220.9 451.6 223.9 452.3 223.0 452.8 223.5 453.2 224.4 453.7 222.8 454.4 223.9M438.3 225.7 438.9 225.5 439.7 223.8 440.3 212.6 441.0 220.5 441.7 209.1 442.3 216.0 442.9 206.5 443.7 210.4 444.4 223.1 444.9 219.3 445.3 224.2 445.8 220.7 446.4 219.3 447.1 221.7 447.9 223.5 448.4 221.3 448.9 215.3 449.6 214.2 450.1 223.5 450.7 223.0 451.4 215.8 451.8 212.7 452.5 223.6 453.0 221.3 453.7 210.3 454.3 212.2M438.3 225.7 438.9 224.8 439.5 225.3 440.2 222.4 440.9 223.1 441.6 221.2 442.3 224.6 442.8 224.6 443.5 222.9 444.0 224.2 444.4 225.0 445.1 224.1 445.7 221.2 446.4 220.8 446.8 213.9 447.2 207.8 448.0 223.8 448.8 222.8 449.4 224.6 450.0 209.1 450.6 222.6 451.1 224.2 451.8 223.3 452.5 223.1 453.1 223.0 453.6 225.1 454.3 224.1M438.3 223.3 438.7 224.4 439.4 224.4 440.0 221.2 440.5 217.1 441.1 212.8 441.7 218.7 442.1 223.3 442.7 224.2 443.3 222.9 444.0 223.4 444.6 212.3 445.1 208.1 445.9 205.9 446.6 207.8 447.3 222.8 447.8 221.7 448.3 199.8 448.9 215.1 449.3 216.8 449.8 213.2 450.3 222.9 450.8 215.9 451.5 216.9 452.1 206.3 452.5 221.0 453.2 218.8 454.0 219.3 454.5 222.6M438.3 225.6 439.0 225.0 439.6 224.4 440.1 225.4 440.8 223.1 441.3 224.2 441.9 209.9 442.4 222.5 442.9 223.6 443.5 221.6 444.2 220.7 445.0 213.2 445.4 216.3 445.9 219.6 446.6 220.9 447.3 218.8 447.7 220.4 448.3 221.9 449.0 218.9 449.5 221.8 450.1 222.4 450.6 217.0 451.1 199.6 451.7 223.7 452.3 225.4 452.8 224.7 453.4 224.8 454.0 222.4 454.6 222.6M438.3 225.4 438.9 223.3 439.5 217.6 440.1 217.6 440.5 222.6 441.3 223.1 441.8 225.6 442.5 225.3 443.1 224.5 443.8 218.7 444.3 221.4 444.9 218.4 445.7 223.2 446.4 223.5 446.8 222.4 447.5 222.0 448.1 224.4 448.6 222.3 449.1 223.9 449.7 223.7 450.4 225.0 450.9 222.5 451.5 219.8 451.9 220.6 452.5 215.3 453.0 205.0 453.6 214.0 454.3 218.7M438.3 225.8 439.0 225.5 439.6 224.3 440.3 223.1 440.8 222.4 441.4 219.3 442.0 223.8 442.6 224.7 443.1 225.7 443.7 221.2 444.2 225.2 444.8 225.6 445.4 222.3 445.9 225.1 446.6 224.0 447.3 220.0 447.8 217.1 448.6 222.6 449.0 222.7 449.7 221.7 450.5 224.2 451.3 222.5 451.8 222.6 452.6 220.4 453.3 224.7 454.0 223.7M438.3 223.8 438.9 224.5 439.5 222.8 440.2 220.1 441.0 215.5 441.6 214.1 442.0 217.1 442.7 215.5 443.1 222.6 443.8 215.8 444.6 216.6 445.2 221.0 445.9 223.5 446.4 222.2 446.9 223.1 447.6 224.5 448.3 217.9 448.9 219.2 449.6 218.6 450.2 218.5 450.9 216.4 451.7 209.8 452.3 222.1 453.0 221.1 453.6 210.2 454.2 221.1M438.3 225.5 438.8 224.4 439.6 222.3 440.0 223.1 440.6 223.9 441.3 222.4 441.8 223.9 442.4 223.0 442.9 225.1 443.3 223.0 443.8 212.2 444.5 213.7 445.0 216.4 445.6 221.0 446.2 221.6 446.7 221.4 447.2 204.1 447.7 220.6 448.1 221.7 448.9 222.1 449.6 219.0 450.3 224.1 451.0 224.1 451.5 216.3 452.1 225.1 452.8 218.7 453.4 220.9 454.1 223.7 454.5 221.1M438.3 225.3 439.0 224.2 439.5 223.9 440.1 222.5 440.8 224.0 441.3 222.7 441.9 218.9 442.5 204.6 443.0 201.3 443.6 222.1 444.2 204.0 444.6 218.1 445.3 222.0 446.0 223.6 446.6 217.8 447.2 214.5 447.8 202.4 448.2 209.0 448.7 206.4 449.3 218.9 450.0 214.2 450.7 203.6 451.5 208.9 452.1 208.4 452.6 215.7 453.1 216.5 453.6 212.9 454.2 211.1M438.3 226.1 438.8 221.6 439.3 223.1 439.8 224.3 440.6 217.3 441.3 215.8 441.9 224.4 442.3 222.9 442.8 220.4 443.3 221.8 443.8 220.5 444.5 220.8 445.2 214.3 445.7 220.2 446.1 223.8 446.8 221.4 447.6 222.1 448.2 222.3 448.7 222.5 449.3 221.4 449.8 222.4 450.4 221.9 451.1 216.3 451.8 210.8 452.4 209.8 453.1 209.2 453.7 219.7 454.2 221.2M438.3 225.5 439.0 223.6 439.6 223.5 440.0 224.9 440.7 219.7 441.3 219.7 442.0 215.6 442.4 224.0 443.1 221.5 443.6 220.2 444.3 224.3 445.1 224.0 445.6 224.9 446.1 224.9 446.8 218.7 447.3 215.8 448.1 222.5 448.7 222.0 449.5 223.7 450.1 223.3 450.7 223.9 451.2 223.8 451.9 219.5 452.3 218.8 452.9 212.4 453.7 212.7 454.4 219.3M438.3 225.3 438.7 224.0 439.3 222.3 439.8 223.5 440.4 223.5 440.9 224.7 441.5 214.5 442.0 218.7 442.5 218.6 443.0 212.6 443.6 215.1 444.2 216.2 444.7 204.1 445.2 203.1 445.7 216.6 446.2 216.2 446.8 219.4 447.4 221.6 448.1 222.1 448.6 222.4 449.3 216.0 450.1 219.1 450.6 219.4 451.1 218.2 451.6 214.4 452.4 195.7 452.9 211.7 453.5 220.7 454.0 212.2M438.3 225.9 438.9 225.0 439.5 225.2 440.1 223.2 440.8 221.0 441.5 219.5 442.1 221.0 442.7 205.7 443.1 219.5 443.8 209.3 444.6 219.4 445.2 223.3 445.9 224.0 446.5 220.4 447.3 222.7 447.9 216.7 448.5 219.9 449.3 219.3 449.7 223.9 450.2 223.0 450.6 213.2 451.3 215.0 451.8 215.7 452.4 220.8 452.9 225.0 453.4 219.3 454.1 223.0M438.3 224.9 438.8 221.3 439.6 220.9 440.3 222.9 441.1 224.8 441.9 217.9 442.5 223.0 443.2 216.5 443.8 221.2 444.3 220.3 445.0 222.0 445.5 211.0 446.2 218.1 446.9 216.6 447.4 216.6 448.0 210.1 448.7 218.8 449.3 222.5 449.9 217.2 450.6 214.2 451.3 220.2 452.1 220.9 452.8 218.7 453.2 212.3 453.9 215.0M438.3 225.7 438.8 222.4 439.2 222.8 439.8 223.0 440.4 224.0 441.0 222.1 441.7 220.4 442.2 220.2 442.9 218.9 443.7 215.4 444.2 215.1 444.7 219.8 445.1 211.2 445.8 219.7 446.6 215.2 447.1 214.3 447.6 213.3 448.1 224.4 448.7 224.4 449.1 224.5 449.7 215.2 450.2 218.7 450.7 215.4 451.2 221.7 451.7 224.0 452.2 217.8 452.9 224.3 453.3 222.2 454.0 222.1 454.5 215.6M438.3 226.2 439.0 225.7 439.6 225.6 440.3 223.4 440.7 221.2 441.2 223.8 441.7 224.7 442.4 224.0 443.0 219.0 443.5 211.7 444.2 220.5 444.8 209.9 445.5 223.2 446.0 221.5 446.5 220.3 447.1 215.7 447.7 218.4 448.4 210.2 449.1 216.4 449.7 223.7 450.2 218.4 450.9 216.7 451.5 220.1 452.0 223.3 452.7 222.8 453.4 211.0 454.1 219.8M438.3 226.0 439.1 221.8 439.6 224.9 440.2 224.1 440.8 223.9 441.4 214.9 442.1 222.8 442.7 225.7 443.4 224.0 443.8 224.2 444.5 224.0 445.2 225.0 445.7 220.2 446.5 223.7 447.1 221.6 447.6 222.3 448.2 222.9 448.6 223.8 449.4 211.7 449.9 213.4 450.5 221.8 451.1 222.5 451.6 223.5 452.2 222.5 452.7 216.4 453.2 213.8 454.0 222.1M438.3 225.5 439.0 225.5 439.5 212.1 439.9 213.6 440.6 220.3 441.1 223.5 441.7 220.4 442.2 224.2 442.6 223.2 443.3 221.7 443.8 214.4 444.5 222.6 445.0 217.2 445.6 192.6 446.2 195.5 446.8 211.0 447.5 220.5 448.0 212.9 448.6 210.1 449.1 187.8 449.6 214.2 450.4 219.5 450.8 221.7 451.4 216.2 452.1 202.3 452.6 211.7 453.2 224.6 453.9 222.1 454.5 219.9M438.3 225.0 438.9 224.7 439.3 221.4 439.7 222.5 440.2 225.6 440.7 223.1 441.1 224.2 441.6 225.3 442.4 219.7 443.1 225.0 443.7 223.8 444.4 223.9 444.9 223.7 445.3 220.4 446.1 221.5 446.7 222.2 447.1 223.3 447.9 222.7 448.4 223.7 449.1 222.6 449.6 222.5 450.2 219.2 450.8 218.3 451.3 222.7 451.9 220.2 452.5 220.0 453.1 220.6 453.7 218.9 454.3 224.3M438.3 225.3 439.0 224.3 439.5 224.5 440.1 221.2 440.8 223.3 441.2 220.5 441.9 220.9 442.4 214.8 443.1 223.7 443.9 209.9 444.3 220.9 444.9 216.6 445.5 212.2 445.9 211.4 446.6 214.8 447.2 223.3 447.8 220.2 448.5 221.8 449.2 218.9 449.7 218.5 450.3 215.5 450.9 211.3 451.6 212.5 452.2 204.4 452.8 210.8 453.3 205.1 454.0 203.5M438.3 225.7 438.8 224.5 439.5 221.8 439.9 223.1 440.6 222.5 441.1 222.8 441.9 222.6 442.7 219.1 443.4 223.9 444.2 218.9 444.7 215.8 445.4 220.0 446.1 223.4 446.7 220.6 447.3 202.2 448.1 215.5 448.5 214.0 449.0 218.9 449.7 215.1 450.5 222.4 451.0 219.8 451.5 215.0 452.0 207.3 452.6 221.4 453.1 221.5 453.7 216.0 454.4 217.7M438.3 224.9 438.9 225.2 439.5 225.9 440.0 225.1 440.8 225.7 441.3 223.5 442.1 224.5 442.7 225.7 443.2 225.4 443.7 225.8 444.2 224.6 444.9 222.3 445.4 222.1 446.1 225.4 446.8 224.6 447.4 225.0 448.1 224.1 448.6 222.9 449.1 221.2 449.8 223.3 450.4 224.3 451.2 221.9 451.9 223.2 452.4 220.6 453.1 222.6 453.5 224.5 454.3 225.7M438.3 222.3 438.8 224.3 439.3 224.5 439.8 224.4 440.6 219.6 441.1 217.3 441.7 214.1 442.4 223.3 442.9 219.5 443.3 224.4 443.8 222.8 444.4 225.0 445.1 220.2 445.8 217.9 446.5 218.0 447.1 209.2 447.8 220.5 448.5 216.7 449.2 222.3 449.7 212.6 450.3 215.0 450.9 211.5 451.3 219.1 451.9 213.2 452.5 201.4 453.0 221.4 453.5 205.4 454.1 206.2M438.3 225.3 438.9 224.2 439.6 222.3 440.0 222.3 440.5 225.1 441.3 224.7 441.8 223.7 442.3 222.4 442.7 221.3 443.3 222.3 443.9 218.9 444.4 223.2 444.8 224.2 445.5 225.6 446.0 224.7 446.6 220.4 447.1 220.9 447.9 220.7 448.6 216.7 449.3 220.8 449.8 221.1 450.3 221.1 451.1 223.2 451.6 222.4 452.3 220.4 453.0 216.2 453.6 209.0 454.1 219.8M438.3 225.5 438.8 223.0 439.4 223.1 440.1 222.1 440.8 225.2 441.4 224.5 442.1 224.1 442.7 222.1 443.5 220.4 444.0 224.1 444.6 219.9 445.3 220.9 446.1 220.2 446.7 220.7 447.3 220.3 447.8 222.1 448.4 222.0 448.9 222.7 449.6 223.5 450.1 221.8 450.8 224.4 451.4 223.2 452.1 224.0 452.9 221.3 453.3 221.4 453.9 224.3 454.4 220.8M438.3 224.2 439.0 221.3 439.5 221.4 440.0 225.1 440.7 222.9 441.3 217.8 441.8 220.1 442.3 222.9 442.8 222.8 443.4 204.7 444.0 218.6 444.7 222.7 445.4 219.5 445.9 222.3 446.4 221.9 447.0 215.5 447.5 204.0 448.1 200.4 448.5 209.7 449.2 189.4 449.8 210.1 450.5 217.0 451.2 213.2 451.7 212.4 452.2 221.1 452.9 217.8 453.3 211.3 453.8 215.0 454.4 212.3M438.3 225.9 438.9 225.8 439.6 224.3 440.0 223.1 440.8 221.7 441.5 224.2 442.1 216.2 442.7 223.8 443.2 225.6 443.8 221.1 444.3 218.4 445.1 220.9 445.7 219.7 446.4 225.1 447.1 224.6 447.9 222.9 448.6 222.2 449.2 222.7 449.9 219.9 450.5 218.3 451.0 218.9 451.6 219.5 452.0 220.0 452.5 223.7 453.0 223.6 453.7 217.5 454.3 221.8M438.3 226.1 438.7 225.5 439.4 224.0 439.9 222.0 440.4 223.9 441.1 222.5 441.7 219.9 442.3 224.7 443.0 223.6 443.8 224.1 444.4 224.1 444.9 220.7 445.6 223.9 446.3 223.8 446.9 225.2 447.6 220.4 448.3 223.0 448.8 216.9 449.4 207.0 450.2 221.0 450.6 222.3 451.4 221.3 452.0 218.3 452.7 221.2 453.4 221.5 454.0 223.7M438.3 225.3 438.8 224.4 439.5 225.4 440.2 218.6 440.6 221.0 441.1 223.2 441.6 218.9 442.1 219.2 442.7 218.4 443.1 220.8 443.6 222.1 444.4 225.1 444.9 218.1 445.5 223.2 446.3 222.2 446.9 219.9 447.4 223.5 448.1 221.1 448.8 220.9 449.5 223.3 450.1 221.5 450.6 222.7 451.3 220.7 452.0 224.0 452.7 217.1 453.3 219.0 454.0 206.8M455.0 224.5 455.7 223.9 456.4 218.8 456.9 210.0 457.5 222.0 458.1 210.5 458.7 220.5 459.2 223.9 459.9 224.0 460.6 220.8 461.1 223.4 461.5 217.8 462.1 221.5 462.7 219.4 463.4 204.9 464.0 198.9 464.4 215.8 465.0 214.1 465.5 217.9 466.2 214.2 466.7 221.2 467.4 213.6 467.9 208.7 468.3 218.4 468.9 219.7 469.6 220.0 470.1 208.4 470.8 223.2M455.0 225.4 455.6 222.6 456.1 220.5 456.9 216.3 457.4 208.4 458.1 219.3 458.8 223.6 459.4 223.2 460.1 220.2 460.9 218.9 461.3 219.4 462.0 219.6 462.6 207.0 463.1 195.6 463.8 219.1 464.4 210.4 465.1 219.2 465.6 209.1 466.2 208.5 466.7 209.4 467.3 211.1 468.1 210.6 468.8 189.7 469.5 196.8 470.1 195.7 470.6 215.0 471.0 207.5M455.0 225.1 455.4 222.2 456.2 220.4 456.9 214.6 457.4 218.2 457.9 221.5 458.4 217.8 458.9 222.3 459.5 214.6 460.2 218.5 460.8 217.7 461.4 217.1 462.1 210.4 462.8 216.8 463.4 219.2 464.1 209.4 464.5 221.8 465.3 203.9 465.9 213.1 466.6 197.7 467.1 217.5 467.7 211.3 468.2 209.5 468.7 202.7 469.2 210.8 469.7 214.9 470.3 220.9M455.0 225.4 455.5 225.0 456.3 223.0 457.0 224.2 457.5 223.2 457.9 214.8 458.7 220.4 459.1 213.6 459.7 223.8 460.5 223.9 460.9 223.8 461.5 225.3 462.0 222.8 462.5 224.2 463.2 222.2 463.8 225.0 464.2 218.7 464.7 219.9 465.3 214.6 465.7 210.9 466.4 215.4 467.0 200.6 467.6 210.3 468.4 221.7 468.9 217.9 469.5 219.7 470.1 206.1 470.8 213.0M455.0 225.5 455.5 225.7 456.1 223.0 456.6 210.2 457.4 219.7 458.0 212.7 458.6 219.4 459.2 218.2 459.8 218.4 460.3 214.4 460.8 220.6 461.3 221.1 461.9 207.9 462.4 217.4 463.1 212.5 463.8 218.9 464.4 224.3 465.1 223.0 465.7 214.0 466.2 219.3 466.6 219.4 467.4 222.5 468.1 219.8 468.8 214.3 469.2 215.0 469.7 215.9 470.3 214.2 471.0 203.4M455.0 225.3 455.5 225.6 456.2 223.8 456.7 224.3 457.1 224.0 457.7 223.5 458.2 215.4 458.7 211.1 459.5 219.7 460.1 224.0 460.8 221.2 461.4 222.5 461.9 220.0 462.6 216.6 463.3 221.3 463.8 219.1 464.4 223.7 465.0 212.3 465.6 219.9 466.1 221.2 466.7 215.5 467.3 216.2 468.0 218.6 468.6 217.0 469.1 191.2 469.7 213.9 470.5 221.3M455.0 224.9 455.5 224.8 456.1 221.9 456.6 222.3 457.2 221.6 457.7 221.7 458.4 220.7 458.9 224.1 459.3 222.3 459.9 220.2 460.6 222.4 461.3 223.2 461.9 222.1 462.5 224.1 463.2 218.7 463.9 221.0 464.4 218.4 464.9 220.1 465.4 219.7 465.9 221.5 466.6 220.2 467.1 222.6 467.8 211.4 468.4 192.0 469.0 218.8 469.5 215.4 470.0 204.3 470.6 215.5M455.0 224.9 455.5 223.5 456.2 224.6 456.8 220.8 457.5 221.6 458.0 204.4 458.5 202.7 459.2 224.6 459.7 218.3 460.1 222.9 460.8 224.1 461.3 219.9 461.8 213.6 462.3 217.2 462.8 217.6 463.3 216.3 464.0 217.9 464.6 222.4 465.1 209.7 465.6 214.6 466.1 218.4 466.7 219.7 467.4 217.3 468.1 221.9 468.7 221.8 469.3 222.5 470.1 221.6 470.7 219.5M455.0 225.1 455.6 224.5 456.4 224.6 456.9 225.0 457.6 222.4 458.1 221.2 458.5 217.7 459.1 219.2 459.7 219.3 460.4 222.8 461.0 223.1 461.6 217.1 462.3 219.9 463.0 219.7 463.6 220.5 464.2 224.5 464.8 220.0 465.4 219.7 466.0 224.7 466.6 219.4 467.1 216.9 467.8 220.4 468.4 221.9 469.2 218.3 469.7 222.5 470.3 225.2M455.0 225.9 455.5 222.0 456.0 222.2 456.6 222.5 457.4 218.3 457.9 212.4 458.6 212.4 459.3 220.8 459.8 216.5 460.5 215.9 461.1 219.6 461.9 219.2 462.6 211.6 463.2 214.1 463.7 213.6 464.4 209.3 465.1 197.9 465.7 193.0 466.3 190.9 467.0 195.9 467.6 214.4 468.1 207.8 468.7 217.2 469.2 207.2 469.7 220.9 470.4 208.5M455.0 225.9 455.5 220.2 456.0 222.6 456.8 218.3 457.4 224.6 458.1 219.8 458.9 225.1 459.6 224.6 460.1 211.7 460.6 213.3 461.3 222.3 461.9 218.8 462.6 218.6 463.3 223.4 463.7 218.5 464.5 219.8 465.1 215.9 465.7 223.6 466.2 220.6 466.9 221.4 467.6 214.7 468.3 219.3 468.9 224.1 469.4 224.9 469.9 222.8 470.6 225.1M455.0 225.0 455.6 223.0 456.1 219.5 456.6 223.1 457.3 223.5 458.0 214.5 458.6 218.9 459.2 222.0 459.8 218.8 460.3 222.2 460.9 219.3 461.6 205.1 462.4 214.5 462.9 220.9 463.5 221.3 464.1 216.2 464.5 171.6 465.2 215.7 465.8 214.2 466.5 218.8 467.1 204.8 467.7 219.9 468.2 219.1 468.6 216.6 469.2 215.8 469.8 215.7 470.2 220.3 470.7 220.6M455.0 225.7 455.6 219.0 456.2 218.3 456.8 217.0 457.3 212.5 458.0 209.4 458.6 217.9 459.2 217.0 459.7 221.3 460.4 220.2 461.0 207.9 461.7 202.9 462.2 213.7 462.7 192.5 463.2 219.0 463.7 214.9 464.3 188.0 464.8 202.0 465.5 222.1 466.1 214.9 466.8 218.5 467.3 219.2 468.0 211.0 468.7 220.3 469.2 217.7 469.9 195.3 470.6 204.4M455.0 226.0 455.5 221.2 456.1 223.4 456.6 224.9 457.1 223.4 457.8 223.0 458.2 214.4 458.8 223.0 459.6 219.8 460.1 223.7 460.5 219.7 461.2 217.4 461.9 211.0 462.4 218.4 463.2 212.9 463.6 224.7 464.3 224.4 464.8 215.8 465.5 216.6 466.1 223.1 466.6 218.1 467.3 218.3 467.9 220.0 468.6 220.4 469.3 218.2 469.9 185.7 470.6 211.4M455.0 224.4 455.5 224.8 455.9 223.6 456.7 223.8 457.2 224.0 457.8 218.2 458.4 221.6 459.1 224.1 459.6 215.4 460.2 213.7 460.7 213.1 461.4 201.9 462.0 220.6 462.5 224.4 463.2 221.5 463.6 187.6 464.2 213.4 464.7 217.8 465.1 222.5 465.7 216.8 466.3 216.1 467.0 217.8 467.5 212.7 468.0 219.6 468.8 218.9 469.2 216.1 469.8 201.2 470.2 217.8 470.9 213.3M455.0 225.8 455.6 224.6 456.1 224.0 456.6 214.9 457.3 221.3 457.8 222.1 458.5 220.5 459.0 223.2 459.6 223.8 460.1 223.9 460.8 222.8 461.5 220.2 462.1 215.7 462.8 219.9 463.5 223.9 464.0 225.4 464.5 219.1 465.2 207.7 465.9 220.6 466.6 222.9 467.1 224.4 467.8 222.4 468.3 221.2 468.9 224.0 469.4 223.1 470.0 221.9 470.7 223.4M455.0 225.9 455.7 225.4 456.2 225.5 456.8 224.4 457.5 220.2 458.2 219.4 458.8 221.5 459.3 223.1 459.9 215.4 460.5 217.6 461.1 218.3 461.6 222.9 462.2 220.8 462.7 218.2 463.4 221.8 463.9 222.2 464.4 225.3 465.0 224.6 465.5 224.2 466.3 224.2 466.8 224.5 467.5 223.2 468.1 224.1 468.6 219.7 469.1 220.3 469.8 222.9 470.3 220.0 470.8 220.9M455.0 225.1 455.8 224.7 456.4 224.4 456.8 218.3 457.3 222.1 457.9 216.1 458.6 223.4 459.3 221.0 459.9 214.3 460.4 212.8 461.1 217.2 461.6 221.3 462.4 222.1 463.1 222.6 463.8 212.3 464.4 217.3 464.9 220.4 465.4 216.3 465.9 223.6 466.5 224.3 467.1 222.1 467.7 223.1 468.3 222.2 468.8 223.9 469.3 224.4 469.9 223.2 470.3 219.9 470.8 220.4M455.0 225.5 455.6 225.1 456.3 223.8 456.9 220.8 457.6 222.7 458.3 222.9 458.8 222.5 459.4 220.4 460.1 220.6 460.6 222.9 461.2 222.4 461.7 221.6 462.3 215.0 463.0 221.1 463.7 219.9 464.2 220.2 464.9 224.3 465.5 221.8 466.3 224.5 466.9 215.6 467.5 222.4 468.0 213.5 468.6 224.1 469.3 220.1 469.9 223.9 470.4 222.6 471.0 212.2M455.0 223.5 455.6 219.6 456.1 222.3 456.8 219.0 457.4 222.8 457.8 220.1 458.5 217.9 459.2 217.6 459.9 201.6 460.6 222.9 461.4 197.9 462.1 170.0 462.8 195.3 463.4 215.1 463.8 224.2 464.5 216.5 465.1 216.4 465.7 208.0 466.2 220.2 466.7 215.2 467.4 219.9 468.0 210.4 468.7 198.4 469.4 216.8 469.9 210.5 470.4 204.3M455.0 225.0 455.7 223.0 456.3 215.2 457.0 210.5 457.8 208.1 458.5 220.2 459.3 219.3 459.9 217.2 460.6 218.1 461.3 216.9 462.0 224.9 462.8 221.4 463.5 219.1 464.2 214.4 464.9 217.3 465.5 221.0 466.0 220.7 466.6 218.7 467.0 221.6 467.7 223.0 468.3 218.9 468.7 219.7 469.3 224.5 469.8 222.1 470.3 220.6 471.0 214.3M455.0 224.4 455.5 224.8 456.0 219.2 456.5 219.7 457.0 223.2 457.5 210.2 457.9 211.8 458.5 210.8 459.3 217.0 459.7 221.1 460.4 216.6 461.1 219.9 461.6 183.0 462.1 216.2 462.8 220.3 463.4 219.9 464.2 222.3 464.7 217.1 465.2 215.3 465.9 217.9 466.3 219.6 467.0 218.2 467.7 216.0 468.4 223.0 468.9 217.5 469.6 203.5 470.2 209.0 470.7 198.6M455.0 225.2 455.5 224.9 456.0 223.2 456.6 224.7 457.1 225.0 457.8 223.0 458.3 219.9 458.9 222.0 459.5 222.6 459.9 221.3 460.6 214.5 461.1 220.8 461.6 221.6 462.1 220.5 462.7 223.3 463.3 212.4 464.1 219.6 464.8 218.8 465.4 218.2 466.1 222.7 466.6 222.1 467.2 224.4 467.9 224.2 468.5 221.3 469.1 218.5 469.7 222.5 470.3 218.2 470.7 210.9M455.0 224.9 455.5 225.0 456.1 219.6 456.7 223.0 457.4 221.8 458.1 219.3 458.8 218.7 459.5 222.8 460.0 221.7 460.7 195.9 461.5 222.1 462.0 221.7 462.6 208.2 463.3 219.9 463.8 224.1 464.6 214.0 465.3 211.9 466.0 219.0 466.4 218.7 467.0 217.6 467.5 222.5 468.2 214.4 468.9 210.0 469.4 217.9 470.0 218.0 470.7 196.2M455.0 225.6 455.5 221.1 456.2 221.6 456.9 220.9 457.7 216.0 458.3 206.4 458.7 222.0 459.4 222.3 460.0 216.3 460.8 224.5 461.4 223.0 462.2 225.0 462.8 208.0 463.2 221.8 463.7 223.3 464.3 223.4 464.9 220.2 465.5 213.8 466.2 219.0 466.7 221.2 467.3 219.7 468.0 222.4 468.5 222.6 469.0 207.5 469.7 218.6 470.3 219.9 470.9 216.5M455.0 225.4 455.6 224.1 456.2 224.9 456.7 225.6 457.4 225.4 457.9 224.5 458.6 224.7 459.2 223.2 460.0 224.0 460.6 222.5 461.3 211.1 462.0 222.7 462.6 221.8 463.3 222.6 463.8 225.0 464.4 224.0 465.0 218.7 465.7 217.6 466.2 221.1 466.7 222.3 467.2 220.0 467.8 219.6 468.6 222.8 469.3 214.6 470.0 223.9 470.7 221.7M455.0 223.4 455.7 221.6 456.4 220.6 457.1 218.1 457.5 219.7 458.1 217.4 458.8 219.5 459.3 220.3 460.0 223.5 460.5 208.6 460.9 217.9 461.4 213.8 461.9 223.1 462.7 222.6 463.1 222.6 463.7 222.2 464.2 214.5 465.0 218.1 465.5 215.0 466.2 220.9 466.9 218.7 467.7 219.8 468.2 216.0 468.7 205.9 469.2 220.7 469.9 198.6 470.4 224.1 471.0 222.5M455.0 225.5 455.6 225.1 456.2 223.4 456.9 221.7 457.4 219.6 458.2 218.1 458.9 221.2 459.6 221.3 460.2 212.6 460.7 218.8 461.2 220.1 461.7 205.1 462.4 220.2 463.0 224.0 463.6 224.5 464.2 221.9 464.7 217.8 465.3 221.3 465.7 213.1 466.3 223.4 467.0 224.0 467.6 222.3 468.3 221.6 469.0 220.3 469.5 222.0 470.1 216.6 470.5 223.7M455.0 225.5 455.8 224.2 456.2 218.0 456.7 223.1 457.2 222.0 457.7 221.8 458.2 224.7 458.9 201.6 459.5 220.5 460.2 223.0 460.9 196.5 461.5 217.8 462.3 217.6 462.9 213.9 463.3 188.9 464.1 222.4 464.6 220.4 465.1 218.2 465.9 215.7 466.4 211.6 467.0 217.9 467.4 210.4 468.1 221.7 468.6 218.0 469.3 215.7 469.9 222.0 470.6 222.4M455.0 223.8 455.4 215.5 455.9 222.8 456.4 223.2 457.0 223.8 457.5 220.7 458.0 213.0 458.4 217.1 458.9 216.4 459.4 221.1 460.2 210.3 460.9 209.9 461.6 220.8 462.2 209.7 462.7 213.5 463.3 218.9 463.8 209.1 464.6 213.9 465.1 208.9 465.7 206.4 466.3 189.5 466.7 202.7 467.4 212.9 468.2 222.1 468.6 219.9 469.1 213.1 469.6 221.7 470.1 200.9 470.7 201.2M455.0 225.5 455.4 222.2 456.1 221.3 456.7 222.9 457.3 223.9 457.9 225.1 458.5 224.8 459.1 217.9 459.8 218.0 460.4 221.5 460.9 210.5 461.4 214.1 461.9 210.3 462.6 206.4 463.1 221.5 463.7 220.0 464.1 221.9 464.7 195.5 465.3 220.0 466.0 222.2 466.6 224.2 467.2 223.4 467.7 224.6 468.3 220.1 468.7 224.6 469.2 220.0 469.8 220.7 470.5 212.0M455.0 224.1 455.5 222.6 456.0 224.9 456.6 221.7 457.3 219.7 458.0 210.7 458.5 189.9 459.1 208.6 459.9 219.5 460.4 220.7 461.1 217.6 461.5 222.3 462.1 220.4 462.7 216.2 463.3 213.0 464.0 200.7 464.8 207.8 465.3 218.4 465.8 210.5 466.3 215.7 467.0 201.0 467.8 210.6 468.4 203.8 469.1 211.7 469.8 203.1 470.4 206.0 470.8 206.8M455.0 224.8 455.7 218.5 456.2 220.2 456.7 222.0 457.3 211.4 457.8 219.0 458.6 223.7 459.2 211.2 460.0 207.5 460.7 217.0 461.5 219.3 462.0 219.1 462.5 224.3 463.0 203.5 463.4 218.7 464.0 209.1 464.6 220.2 465.4 208.9 465.9 212.0 466.6 218.6 467.4 218.5 468.1 224.3 468.6 218.3 469.3 210.0 470.0 214.3 470.7 210.8M455.0 223.9 455.7 223.5 456.2 210.6 456.8 222.2 457.6 224.3 458.1 224.3 458.8 215.8 459.6 218.6 460.2 194.6 460.9 218.6 461.3 204.0 462.0 221.6 462.6 212.2 463.2 218.0 463.7 206.0 464.2 216.5 464.9 218.6 465.5 217.9 466.1 211.2 466.6 208.2 467.4 206.0 468.1 171.8 468.8 218.5 469.6 219.8 470.1 220.8 470.7 185.4M455.0 225.4 455.8 224.8 456.5 225.7 457.1 223.7 457.9 224.4 458.4 222.7 459.1 214.3 459.8 223.1 460.5 222.2 461.2 224.0 461.6 225.1 462.3 222.6 462.7 223.1 463.5 222.3 464.2 215.9 464.7 221.4 465.4 221.3 466.2 224.6 466.7 220.5 467.4 218.5 467.8 224.2 468.3 224.3 468.9 225.0 469.6 224.9 470.1 222.0 470.6 218.0M455.0 224.7 455.6 222.3 456.2 219.9 456.7 222.5 457.5 221.5 458.0 221.8 458.5 225.3 459.1 224.8 459.7 225.4 460.3 221.0 460.9 217.9 461.6 223.2 462.3 215.1 462.8 220.4 463.4 220.0 464.0 217.8 464.7 221.0 465.3 218.8 466.0 220.2 466.4 218.0 466.9 223.4 467.7 216.6 468.2 220.8 468.9 222.9 469.4 208.0 470.1 220.7 470.7 212.7M455.0 225.4 455.7 220.7 456.3 219.6 457.0 221.5 457.6 220.4 458.1 215.9 458.7 224.1 459.4 221.1 460.0 219.2 460.4 223.3 461.1 214.5 461.7 221.5 462.5 209.4 462.9 216.9 463.5 215.2 464.2 206.8 464.7 202.9 465.3 209.6 465.9 197.1 466.7 224.7 467.2 223.9 467.7 218.1 468.5 215.3 469.1 224.5 469.7 222.2 470.2 219.4 470.8 216.2M455.0 225.5 455.5 224.1 456.0 222.5 456.5 215.7 457.1 218.7 457.7 223.5 458.3 218.0 459.0 219.7 459.6 223.1 460.1 219.8 460.6 221.5 461.1 215.0 461.8 221.7 462.4 222.2 463.0 223.8 463.6 219.7 464.3 225.0 465.0 221.7 465.7 218.4 466.2 222.4 466.8 220.4 467.3 218.7 468.0 221.0 468.8 224.2 469.5 218.0 470.0 221.8 470.5 221.3 470.9 216.8M455.0 225.0 455.5 224.7 456.3 222.5 456.7 220.8 457.3 217.3 457.9 212.5 458.6 210.0 459.3 220.0 459.8 211.9 460.2 218.5 460.9 210.7 461.5 212.9 462.0 218.1 462.5 216.3 463.1 219.6 463.7 218.1 464.2 222.0 465.0 220.9 465.6 217.2 466.2 214.3 466.8 213.8 467.5 220.2 468.0 207.2 468.7 210.2 469.4 220.9 470.0 218.3 470.6 216.2M455.0 225.9 455.4 224.6 456.0 223.6 456.5 224.3 457.1 224.7 457.7 224.5 458.4 208.5 458.9 220.5 459.4 222.3 460.1 208.2 460.7 207.2 461.5 212.7 462.0 219.8 462.7 220.2 463.2 215.7 463.9 204.6 464.4 217.3 465.0 198.4 465.7 219.9 466.4 222.7 467.0 221.4 467.4 217.4 468.0 208.7 468.6 221.2 469.1 218.0 469.6 224.3 470.1 222.6 470.7 210.0M455.0 225.8 455.7 225.0 456.2 223.2 456.8 225.0 457.5 221.8 458.3 225.0 459.0 223.9 459.5 217.1 460.2 224.2 460.7 224.0 461.1 222.2 461.9 221.2 462.6 223.4 463.3 219.3 463.9 204.1 464.4 207.7 464.8 220.0 465.5 223.5 466.1 224.5 466.8 222.4 467.4 221.4 468.1 224.3 468.6 222.8 469.0 221.3 469.6 223.1 470.1 221.7 470.6 217.5M455.0 225.8 455.6 217.4 456.2 217.4 456.9 220.9 457.4 223.2 457.9 222.1 458.4 220.6 459.1 224.4 459.7 224.4 460.5 221.7 461.1 222.5 461.9 219.6 462.5 223.7 462.9 222.1 463.4 219.6 464.1 223.2 464.7 221.6 465.3 218.0 465.8 221.2 466.3 204.9 466.8 220.4 467.5 209.9 468.1 216.3 468.6 221.6 469.2 222.1 469.9 224.8 470.6 218.9M471.3 225.3 471.8 223.4 472.3 224.4 473.0 222.9 473.8 223.8 474.2 218.8 474.6 219.9 475.2 221.9 475.7 220.4 476.2 217.0 477.0 218.7 477.5 208.3 478.2 209.0 479.0 220.5 479.7 213.1 480.1 220.8 480.6 209.0 481.1 223.9 481.9 217.2 482.6 220.2 483.3 220.3 483.7 221.4 484.2 219.8 484.8 209.0 485.4 217.3 485.9 214.5 486.5 219.4 487.3 195.7 487.9 217.4M471.3 225.2 471.8 215.3 472.3 218.3 472.9 221.1 473.6 223.5 474.0 222.7 474.7 221.1 475.2 217.7 475.7 223.9 476.2 220.1 476.8 223.9 477.2 219.6 477.8 214.3 478.5 209.2 479.1 221.7 479.7 220.6 480.2 220.1 480.8 224.1 481.3 216.4 481.8 217.6 482.5 203.5 483.0 220.9 483.7 211.6 484.4 208.7 485.0 199.4 485.7 207.7 486.5 190.3 487.1 208.8 487.6 208.5M471.3 225.3 472.0 220.8 472.4 221.5 473.0 219.6 473.7 218.6 474.1 224.0 474.9 218.6 475.6 218.5 476.2 222.7 476.8 214.1 477.3 219.1 477.8 210.4 478.5 209.6 479.2 201.9 479.9 210.8 480.6 218.5 481.1 216.0 481.7 208.6 482.5 211.4 483.0 200.8 483.7 172.1 484.2 206.3 484.7 204.9 485.4 221.2 486.2 221.9 486.9 216.4 487.5 215.7 488.0 200.5M471.3 224.3 471.9 223.4 472.3 224.1 473.0 223.8 473.5 221.7 474.0 215.4 474.7 223.5 475.1 224.9 475.6 222.8 476.1 224.3 476.7 217.6 477.4 219.9 478.2 223.1 479.0 216.1 479.7 225.2 480.3 221.8 480.9 223.1 481.5 222.8 482.1 220.9 482.6 224.1 483.4 220.6 484.0 219.9 484.7 223.5 485.4 221.4 486.0 220.9 486.6 222.4 487.3 223.2 487.8 223.2M471.3 225.0 472.0 222.2 472.7 221.4 473.2 221.0 473.8 218.2 474.4 219.8 474.9 221.9 475.5 222.2 476.1 220.5 476.6 218.7 477.1 218.2 477.6 208.9 478.2 216.4 478.9 219.5 479.4 219.2 480.1 198.6 480.6 214.2 481.1 192.9 481.8 203.7 482.5 214.4 483.0 223.0 483.7 221.6 484.4 219.3 485.0 209.7 485.6 218.1 486.1 216.2 486.7 209.7 487.1 208.2 487.8 208.4M471.3 225.5 471.8 225.8 472.4 225.0 472.9 223.3 473.4 219.0 474.2 221.4 474.8 215.8 475.3 222.0 475.8 224.1 476.4 223.7 477.1 222.2 477.7 222.9 478.2 221.0 478.7 216.1 479.3 217.7 480.0 221.0 480.7 209.3 481.2 217.9 481.9 217.1 482.6 216.4 483.1 218.6 483.7 224.9 484.4 219.1 485.0 221.1 485.5 214.7 486.2 215.6 486.9 203.6 487.4 211.6 488.1 220.2M471.3 226.0 472.0 224.6 472.5 225.9 473.2 224.3 473.8 224.0 474.3 224.6 475.0 224.0 475.6 223.4 476.2 223.9 476.7 224.2 477.1 223.9 477.6 223.4 478.2 224.7 478.7 220.5 479.3 223.4 480.0 222.0 480.8 219.6 481.2 222.1 481.9 219.5 482.4 222.9 483.1 224.6 483.8 223.9 484.4 221.2 485.1 224.2 485.5 225.5 486.1 223.3 486.8 225.5 487.2 224.4 487.7 220.1M471.3 223.3 471.8 224.9 472.3 224.9 473.0 224.9 473.6 222.2 474.2 220.6 474.9 220.4 475.5 224.3 476.0 206.8 476.5 212.1 477.1 221.1 477.6 217.4 478.3 215.4 478.9 221.5 479.6 223.6 480.2 219.6 480.8 214.8 481.5 215.1 482.3 197.1 482.9 209.9 483.6 213.1 484.1 202.5 484.8 212.9 485.5 218.2 486.1 222.8 486.8 220.3 487.3 210.5 487.9 219.0M471.3 224.5 471.7 222.7 472.5 224.4 473.1 221.8 473.9 222.7 474.5 223.1 475.2 221.2 475.9 223.2 476.6 221.4 477.4 212.4 477.9 176.4 478.5 210.9 479.0 222.7 479.5 222.6 480.1 219.3 480.6 179.5 481.2 206.3 481.9 215.1 482.4 216.8 483.0 213.7 483.7 209.5 484.3 204.6 484.9 197.9 485.6 215.9 486.1 212.2 486.7 224.2 487.2 221.8 487.7 223.1 488.2 219.8M471.3 225.0 471.8 223.7 472.4 211.9 473.1 216.9 473.6 223.2 474.1 206.5 474.8 209.5 475.5 218.5 476.0 214.0 476.5 216.8 477.2 219.9 477.9 210.0 478.4 212.6 478.9 197.5 479.5 208.5 480.1 193.3 480.6 203.3 481.1 223.2 481.8 221.5 482.6 191.0 483.2 216.2 483.7 210.1 484.4 191.3 485.2 215.3 485.7 203.1 486.5 204.7 487.2 202.6 487.7 219.9M471.3 219.4 471.9 222.6 472.6 223.3 473.4 215.2 473.8 215.4 474.2 219.2 474.7 223.5 475.2 216.2 475.9 217.5 476.6 220.4 477.1 219.0 477.8 219.3 478.4 218.5 479.0 219.1 479.5 212.5 480.3 206.6 480.8 203.4 481.5 214.7 482.2 221.3 482.9 220.8 483.5 214.4 484.1 220.7 484.8 200.4 485.5 175.1 486.0 206.0 486.7 214.7 487.5 213.9 488.1 223.8M471.3 225.5 471.9 224.2 472.3 222.7 473.1 224.4 473.5 225.3 474.1 223.6 474.8 223.3 475.5 222.4 476.1 224.1 476.6 217.3 477.1 225.0 477.7 223.2 478.3 225.0 478.9 225.3 479.4 224.3 479.9 223.0 480.5 223.5 481.0 221.7 481.7 218.2 482.3 223.7 482.9 201.3 483.7 220.5 484.4 224.0 484.9 225.2 485.5 224.4 486.1 223.4 486.7 218.1 487.3 222.3 487.9 221.0M471.3 225.6 472.0 223.5 472.5 215.5 473.1 223.6 473.5 222.1 474.3 225.1 474.8 225.0 475.4 215.5 475.9 224.8 476.5 214.7 476.9 221.0 477.6 220.5 478.0 199.3 478.7 216.0 479.2 212.8 479.9 170.4 480.4 215.5 481.1 219.1 481.5 219.9 482.2 219.9 482.8 217.2 483.3 188.4 484.0 215.2 484.7 209.4 485.5 199.1 486.2 213.6 486.8 216.7 487.5 219.8 488.0 217.7M471.3 224.1 472.1 219.8 472.5 215.6 473.2 218.0 473.8 206.5 474.2 223.1 475.0 219.1 475.7 206.3 476.1 223.8 476.7 222.1 477.3 218.2 477.8 221.3 478.5 187.9 479.1 206.6 479.7 204.0 480.3 199.6 480.9 202.5 481.5 206.4 482.2 213.3 483.0 215.3 483.6 222.9 484.3 224.1 484.8 219.3 485.4 203.2 485.9 220.7 486.4 222.0 487.0 220.7 487.8 217.9 488.2 215.2M471.3 223.6 472.0 224.5 472.5 225.4 473.1 225.3 473.6 224.9 474.2 223.8 474.8 223.2 475.3 223.0 475.8 223.7 476.5 222.4 476.9 220.0 477.7 222.1 478.1 220.9 478.7 221.3 479.3 219.8 479.9 221.3 480.4 221.0 481.0 212.1 481.6 217.5 482.3 221.0 482.8 220.2 483.5 218.6 484.0 208.1 484.6 221.1 485.1 213.1 485.7 222.5 486.4 210.0 487.1 216.8 487.8 222.3M471.3 223.4 472.0 223.0 472.5 221.2 473.2 222.5 473.9 218.2 474.6 221.1 475.0 222.8 475.7 221.6 476.4 198.8 477.0 208.2 477.7 207.7 478.3 220.6 478.9 222.1 479.3 220.4 480.0 209.5 480.6 220.8 481.4 221.1 482.1 215.5 482.8 222.3 483.5 221.6 484.0 221.0 484.6 218.5 485.4 222.2 486.0 211.7 486.7 213.4 487.3 209.6 488.1 213.7M471.3 225.5 471.9 224.7 472.5 218.9 473.0 225.1 473.7 224.0 474.3 223.5 475.0 225.3 475.7 222.8 476.3 222.6 476.8 222.3 477.3 220.6 477.9 212.9 478.7 224.7 479.3 220.4 479.8 222.5 480.3 222.1 480.8 223.3 481.3 223.1 481.9 224.9 482.5 214.7 483.2 221.6 483.8 217.4 484.2 221.3 484.9 220.0 485.7 220.5 486.3 220.6 486.7 218.4 487.4 220.0 488.1 223.1M471.3 225.3 472.0 224.3 472.7 224.3 473.2 224.9 473.8 221.9 474.3 223.2 474.9 223.6 475.7 224.3 476.3 224.2 477.0 222.9 477.6 219.5 478.2 222.3 478.8 220.9 479.3 219.5 479.9 222.0 480.6 215.0 481.3 221.3 482.0 221.2 482.5 220.4 483.2 222.1 483.9 223.2 484.4 219.5 484.8 217.4 485.5 222.0 486.0 218.8 486.7 223.3 487.2 222.5 487.8 218.5M471.3 224.5 471.8 223.4 472.5 224.1 473.0 224.7 473.5 213.8 474.2 222.0 474.8 222.6 475.4 223.0 476.0 222.1 476.6 221.3 477.1 222.9 477.6 221.1 478.2 222.7 478.8 221.7 479.4 223.3 480.0 223.6 480.5 223.1 481.2 213.3 481.9 217.8 482.6 222.9 483.1 222.6 483.6 221.4 484.1 187.3 484.7 217.9 485.3 199.8 485.8 206.2 486.5 214.5 487.2 206.0 487.8 200.1M471.3 225.2 471.9 224.2 472.4 224.3 473.1 219.7 473.6 217.8 474.4 221.2 475.1 213.0 475.6 224.3 476.4 224.1 477.0 215.1 477.8 223.7 478.3 224.6 478.9 221.5 479.4 224.9 480.0 224.5 480.5 223.9 481.1 209.1 481.5 219.7 482.0 212.1 482.6 223.4 483.1 221.0 483.6 222.5 484.2 220.5 484.8 218.6 485.4 221.7 485.9 219.3 486.5 218.1 487.1 223.2 487.6 223.9M471.3 224.2 471.8 219.4 472.4 224.2 472.9 212.2 473.5 219.3 474.1 220.1 474.8 210.2 475.3 203.5 475.8 217.1 476.5 215.9 476.9 216.3 477.7 224.2 478.3 219.9 478.8 217.0 479.5 223.2 480.2 223.6 480.9 218.5 481.5 219.8 482.1 222.6 482.6 222.8 483.1 221.2 483.8 221.2 484.3 224.4 484.8 217.4 485.4 218.0 486.0 216.2 486.8 224.1 487.3 215.5 488.0 216.1M471.3 224.5 471.8 222.5 472.3 224.0 473.1 224.8 473.7 221.5 474.4 225.1 474.9 221.5 475.7 209.3 476.3 218.1 477.0 218.9 477.7 218.2 478.3 220.9 478.9 204.6 479.4 222.1 479.9 222.5 480.5 222.3 481.2 221.7 481.8 222.7 482.3 221.6 483.1 222.6 483.6 216.4 484.2 220.7 484.9 190.6 485.4 212.1 486.1 224.1 486.8 222.2 487.5 200.5 488.2 222.7M471.3 224.8 471.9 216.2 472.7 217.4 473.5 217.7 473.9 217.1 474.6 218.7 475.1 219.0 475.5 209.4 476.2 223.6 476.9 223.1 477.4 220.0 477.8 216.0 478.4 215.9 478.9 222.5 479.4 221.9 479.9 224.1 480.6 215.3 481.2 218.7 481.9 214.7 482.4 221.5 482.9 218.2 483.3 220.2 483.9 209.2 484.6 222.9 485.1 224.6 485.6 222.2 486.2 217.4 486.8 220.9 487.5 216.3 488.2 209.0M471.3 226.1 471.8 224.9 472.5 225.4 473.2 225.0 473.8 221.8 474.3 225.5 474.8 220.7 475.3 223.8 475.9 224.9 476.4 225.1 477.0 224.2 477.6 225.7 478.1 225.4 478.5 224.4 479.0 222.4 479.7 222.4 480.1 222.7 480.6 225.5 481.1 216.3 481.6 222.9 482.2 222.8 482.9 223.9 483.5 225.1 484.1 223.2 484.7 222.2 485.4 223.2 486.0 224.7 486.4 224.1 487.0 222.6 487.7 225.2M471.3 226.1 471.8 225.2 472.4 225.5 472.9 225.8 473.5 224.3 474.3 222.9 474.9 223.2 475.6 222.7 476.2 224.2 476.7 223.7 477.3 219.5 477.9 218.8 478.6 217.5 479.2 223.3 479.8 221.1 480.5 221.6 481.1 213.4 481.7 219.9 482.1 213.6 482.7 222.9 483.4 219.1 483.8 220.7 484.4 216.2 485.2 206.0 485.9 220.3 486.5 221.3 487.2 221.6 487.7 222.6M471.3 224.9 471.9 224.5 472.5 225.2 473.1 224.9 473.5 222.6 474.0 224.6 474.7 220.6 475.3 220.9 476.1 221.5 476.6 220.8 477.1 217.9 477.9 218.2 478.5 223.9 479.0 221.7 479.6 222.2 480.3 222.7 481.0 223.2 481.8 222.4 482.5 223.5 483.0 215.5 483.7 219.8 484.4 222.4 484.8 222.2 485.5 221.8 486.2 223.9 486.7 224.9 487.4 222.3 488.0 218.4M471.3 225.7 471.9 224.1 472.7 210.1 473.2 222.5 473.8 224.7 474.3 223.6 475.0 220.5 475.6 217.5 476.4 219.7 477.1 221.7 477.5 221.1 478.1 214.2 478.6 210.8 479.4 218.4 480.1 220.0 480.8 218.2 481.4 211.7 482.2 222.8 482.9 213.6 483.7 222.6 484.1 223.6 484.8 217.9 485.5 221.4 486.1 217.1 486.7 221.4 487.4 218.1 487.9 217.0M471.3 225.7 472.0 225.2 472.4 224.4 473.2 224.1 473.9 225.4 474.5 224.7 475.0 225.8 475.4 224.3 476.1 220.9 476.5 221.2 477.0 219.5 477.8 221.0 478.2 224.1 478.8 222.6 479.3 225.5 479.8 219.2 480.5 220.8 481.1 224.2 481.8 222.3 482.5 222.4 483.2 224.9 483.6 225.6 484.3 224.0 484.9 223.7 485.6 223.7 486.3 224.4 487.0 222.9 487.8 220.3M471.3 223.9 471.9 222.8 472.3 217.7 472.9 219.4 473.3 218.4 474.0 198.9 474.6 189.9 475.3 192.4 476.0 217.5 476.5 222.7 477.2 213.4 477.6 215.4 478.1 217.0 478.6 221.3 479.3 221.7 480.1 222.3 480.6 219.7 481.3 215.5 481.9 205.0 482.4 210.0 483.1 217.3 483.8 218.0 484.5 208.7 485.0 217.6 485.5 216.1 486.0 193.3 486.8 213.6 487.5 177.8 488.1 170.2M471.3 222.3 471.8 223.0 472.2 219.6 472.9 213.7 473.6 219.1 474.2 216.5 474.9 214.5 475.4 222.3 476.0 206.4 476.6 212.1 477.1 218.5 477.7 223.1 478.5 219.0 479.1 211.4 479.6 196.5 480.1 214.4 480.7 205.5 481.1 217.7 481.9 220.0 482.5 209.1 483.2 221.8 483.8 195.9 484.6 193.6 485.3 202.7 485.9 208.5 486.3 213.5 487.0 210.6 487.7 219.9M471.3 225.8 471.8 225.8 472.2 225.7 473.0 224.9 473.7 221.9 474.3 214.4 475.0 213.2 475.6 221.5 476.2 222.6 476.9 222.9 477.6 224.0 478.0 225.7 478.5 224.0 479.1 222.0 479.7 222.6 480.4 220.2 481.0 224.0 481.6 224.9 482.3 225.6 482.8 223.8 483.4 218.5 484.1 221.5 484.6 219.5 485.3 220.9 485.9 221.7 486.6 219.1 487.1 221.7 487.6 220.7 488.3 220.3M471.3 225.3 471.9 219.5 472.4 222.9 472.9 224.8 473.5 217.9 474.3 213.9 474.8 215.0 475.4 222.6 475.9 219.4 476.5 223.9 477.0 223.7 477.8 220.5 478.4 224.3 478.8 224.9 479.5 223.2 480.2 223.4 480.8 205.6 481.4 217.8 482.1 220.0 482.6 221.5 483.2 223.0 483.8 215.2 484.4 224.1 485.0 219.6 485.5 218.1 486.3 223.1 486.8 217.0 487.5 216.8 488.0 223.3M471.3 225.7 472.0 225.4 472.5 225.2 473.1 223.1 473.6 225.5 474.1 223.9 474.7 223.6 475.2 223.5 475.9 223.6 476.3 222.4 477.0 218.8 477.5 222.0 478.0 222.7 478.5 214.9 479.2 216.4 479.9 223.9 480.3 221.9 481.1 223.2 481.8 216.4 482.4 223.2 483.1 215.6 483.8 222.6 484.4 220.1 485.1 223.4 485.7 225.0 486.2 222.4 486.9 224.9 487.4 225.2 488.0 220.0M471.3 223.1 471.9 222.3 472.4 225.0 472.8 222.5 473.3 223.6 474.0 224.4 474.5 224.8 475.1 213.1 475.6 220.8 476.2 219.7 477.0 219.7 477.7 219.6 478.2 214.1 478.8 216.3 479.2 209.6 479.7 216.7 480.3 216.3 480.8 217.6 481.3 220.7 481.7 213.9 482.5 215.9 483.1 220.9 483.7 217.3 484.5 220.7 485.2 222.1 485.8 222.4 486.2 213.8 486.7 220.3 487.3 220.0 487.8 223.8M471.3 226.0 472.0 221.5 472.6 223.3 473.3 222.4 473.8 206.4 474.3 210.8 474.9 221.1 475.4 223.9 476.1 221.8 476.7 211.0 477.4 215.4 478.2 221.1 478.8 221.2 479.3 217.7 479.7 217.9 480.4 211.8 481.1 221.5 481.9 225.0 482.6 221.9 483.2 218.4 483.8 217.2 484.5 218.2 485.1 221.3 485.6 223.7 486.3 219.6 487.1 220.8 487.8 216.2M471.3 224.2 471.8 222.1 472.3 205.6 472.8 213.2 473.6 222.3 474.0 216.5 474.8 221.0 475.4 221.4 475.9 214.7 476.5 192.3 477.0 201.3 477.6 219.4 478.3 211.9 478.8 219.7 479.4 209.0 480.1 221.6 480.8 219.8 481.3 220.2 481.8 215.5 482.5 216.7 483.3 218.3 483.8 222.6 484.4 211.3 485.0 211.2 485.5 221.6 486.0 217.5 486.5 222.1 487.3 224.4 487.8 223.4M471.3 224.7 471.8 221.1 472.5 221.9 472.9 222.1 473.4 224.2 474.0 216.9 474.5 225.1 475.3 225.2 475.7 223.3 476.5 222.7 477.0 224.4 477.6 224.8 478.1 215.9 478.8 215.5 479.4 213.0 480.0 214.8 480.4 214.4 481.2 214.7 481.9 220.9 482.4 221.6 483.2 218.1 483.9 216.2 484.5 212.0 484.9 218.3 485.4 208.2 486.1 222.7 486.7 222.9 487.5 219.0 488.0 211.8M471.3 222.3 472.0 225.6 472.4 224.1 472.9 222.9 473.6 223.4 474.1 215.1 474.8 212.8 475.4 219.2 476.0 213.0 476.6 215.5 477.2 219.7 477.7 220.8 478.2 224.0 478.8 218.6 479.6 213.6 480.1 216.3 480.6 212.4 481.1 221.7 481.7 221.2 482.3 219.4 483.0 201.3 483.7 216.4 484.2 222.3 484.7 224.6 485.2 222.7 485.7 210.1 486.4 217.7 487.1 222.9 487.6 223.1 488.1 218.9M471.3 224.4 471.8 225.6 472.3 221.7 473.0 212.6 473.8 220.4 474.6 208.4 475.2 219.5 475.9 218.0 476.4 209.9 477.1 218.6 477.8 224.2 478.3 219.6 479.0 224.9 479.6 222.4 480.3 216.4 481.0 221.5 481.4 221.4 482.0 212.3 482.4 225.1 483.2 223.7 483.8 198.1 484.5 222.2 484.9 222.7 485.4 220.0 486.0 220.9 486.8 223.0 487.5 223.8 488.2 222.2M471.3 225.5 471.8 225.3 472.5 223.9 473.3 225.3 473.8 224.5 474.5 222.4 474.9 223.1 475.5 222.2 476.0 221.4 476.7 224.4 477.3 222.2 477.8 202.5 478.3 218.9 479.1 221.7 479.6 223.3 480.3 216.5 480.9 217.9 481.6 220.4 482.1 219.0 482.5 224.5 483.2 224.3 484.0 224.2 484.6 222.9 485.0 222.2 485.6 214.9 486.4 219.7 487.2 222.7 487.8 215.3M471.3 224.8 472.0 224.7 472.6 225.9 473.1 225.8 473.6 225.5 474.4 221.4 474.9 220.7 475.6 221.9 476.0 217.3 476.8 215.9 477.3 222.6 477.9 219.8 478.6 204.5 479.1 213.0 479.6 212.4 480.1 219.0 480.8 219.7 481.3 217.3 481.7 218.6 482.4 220.0 483.2 223.8 483.9 223.3 484.6 222.6 485.0 211.4 485.7 221.1 486.2 218.4 486.9 224.3 487.5 224.8 488.1 217.1M471.3 226.0 472.1 225.4 472.6 225.0 473.1 222.0 473.5 224.4 474.1 225.1 474.5 224.3 475.2 222.3 475.6 222.3 476.2 220.9 477.0 222.0 477.4 222.8 478.1 216.5 478.5 216.2 479.0 215.6 479.5 222.0 480.0 221.6 480.6 223.9 481.1 223.4 481.5 219.2 482.1 223.4 482.8 222.0 483.3 222.6 483.9 220.6 484.4 223.8 485.0 219.1 485.5 219.8 486.2 221.9 487.0 220.1 487.6 217.3 488.0 223.2M488.6 223.5 489.0 224.9 489.6 224.1 490.2 224.6 490.9 218.9 491.3 223.4 491.9 221.2 492.7 219.8 493.4 224.9 494.0 216.0 494.8 218.4 495.5 221.4 496.1 219.6 496.6 220.5 497.3 216.7 498.1 214.9 498.8 222.6 499.6 223.0 500.1 218.7 500.6 217.1 501.1 221.8 501.9 221.0 502.5 220.4 503.0 222.3 503.7 220.4 504.3 224.1M488.6 225.3 489.1 224.7 489.7 224.8 490.3 224.1 490.9 223.9 491.3 226.0 492.0 225.4 492.8 225.1 493.2 224.0 493.8 225.2 494.3 222.6 494.9 225.1 495.5 225.5 496.1 221.7 496.9 222.2 497.3 222.3 497.8 224.5 498.4 221.0 498.9 222.7 499.5 208.6 500.1 214.7 500.7 217.2 501.1 220.0 501.6 223.9 502.2 222.9 502.9 210.2 503.5 217.8 504.1 209.2 504.7 217.6M488.6 225.7 489.3 224.6 490.0 221.4 490.6 224.1 491.4 221.9 492.1 222.2 492.7 222.0 493.2 225.2 494.0 219.5 494.4 221.4 494.9 220.8 495.5 222.0 496.1 225.3 496.6 225.0 497.1 214.2 497.8 224.5 498.6 224.1 499.3 223.3 500.1 223.5 500.5 221.4 501.1 221.8 501.7 218.8 502.4 222.9 503.0 221.7 503.6 218.5 504.1 219.8 504.6 207.9M488.6 225.9 489.3 225.2 489.9 224.0 490.6 216.8 491.4 224.5 491.9 216.7 492.5 218.8 493.0 220.2 493.7 209.0 494.2 220.1 494.7 215.9 495.4 212.6 496.1 217.4 496.6 224.8 497.4 217.0 498.0 216.8 498.6 223.1 499.0 220.8 499.5 219.4 500.1 213.7 500.7 220.4 501.2 223.9 501.9 224.3 502.4 220.9 503.0 211.9 503.7 218.7 504.2 223.3M488.6 225.2 489.1 224.4 489.7 225.6 490.3 224.6 490.8 225.2 491.2 223.8 491.9 225.0 492.5 224.3 493.2 220.8 493.7 220.0 494.4 218.1 495.1 222.6 495.5 221.8 496.3 215.0 496.9 201.0 497.5 223.4 498.2 219.0 498.7 213.6 499.2 221.7 499.8 212.7 500.3 223.6 501.0 207.6 501.7 214.9 502.1 219.3 502.8 218.7 503.5 222.7 504.2 223.5M488.6 225.6 489.1 224.9 489.8 224.5 490.6 223.2 491.2 225.6 491.6 223.1 492.3 224.6 492.9 223.5 493.6 213.3 494.2 223.5 495.0 220.1 495.4 221.6 496.1 216.2 496.7 221.5 497.2 224.6 497.7 224.1 498.2 220.8 499.0 223.0 499.4 221.2 500.0 218.4 500.5 220.0 501.1 220.2 501.8 220.1 502.3 225.0 503.0 223.8 503.4 223.9 504.1 219.3M488.6 224.7 489.3 223.6 489.8 224.6 490.3 225.5 490.8 225.1 491.2 223.9 491.9 221.0 492.6 217.5 493.1 221.3 493.7 220.4 494.4 221.4 494.9 223.7 495.5 223.3 496.3 222.3 497.0 221.7 497.6 222.5 498.1 219.4 498.5 221.5 499.1 223.8 499.8 221.8 500.4 224.8 500.9 219.1 501.5 208.9 502.0 213.6 502.7 219.8 503.1 221.9 503.7 222.8 504.3 222.8M488.6 225.9 489.0 225.5 489.5 223.8 490.0 225.9 490.6 224.7 491.4 224.7 492.1 222.2 492.8 222.2 493.4 222.2 494.1 221.9 494.9 224.8 495.6 222.0 496.3 222.8 497.0 217.7 497.7 211.1 498.3 222.6 498.9 213.2 499.6 220.6 500.2 223.8 500.7 221.7 501.5 224.7 502.1 222.5 502.8 220.4 503.6 223.3 504.3 220.9M488.6 225.5 489.1 225.6 489.7 225.6 490.4 225.7 491.1 225.4 491.6 223.9 492.3 224.3 492.8 223.3 493.4 221.6 493.8 216.1 494.3 216.7 494.7 210.8 495.3 223.2 496.1 224.8 496.5 224.4 497.0 223.0 497.6 223.3 498.3 223.5 499.0 221.6 499.6 223.6 500.0 220.0 500.6 221.6 501.3 221.8 501.9 215.7 502.3 220.4 503.1 221.9 503.7 197.5 504.3 223.4M488.6 224.8 489.1 225.0 489.6 224.2 490.2 221.7 490.8 222.7 491.4 224.0 491.9 223.5 492.4 218.6 493.2 222.4 493.6 218.0 494.1 201.6 494.7 216.0 495.3 216.7 496.0 220.0 496.5 220.3 497.3 218.7 497.8 223.2 498.4 217.8 499.1 218.2 499.6 206.6 500.3 223.8 500.8 222.6 501.3 219.7 501.9 201.9 502.5 212.5 503.0 221.3 503.6 222.6 504.1 223.1 504.7 219.9M488.6 225.3 489.4 225.5 489.8 224.1 490.2 225.5 491.0 225.3 491.4 222.7 492.1 224.4 492.6 225.0 493.3 224.1 493.8 223.9 494.4 224.2 495.1 221.7 495.8 222.0 496.5 224.4 497.3 222.7 498.1 221.5 498.5 222.8 499.2 209.1 499.7 225.2 500.2 218.1 500.9 221.8 501.7 218.7 502.3 225.4 503.1 221.3 503.8 223.6 504.4 223.4M488.6 225.7 489.0 225.7 489.7 223.8 490.5 224.8 491.0 222.3 491.4 221.9 492.1 222.8 492.9 222.8 493.5 223.4 494.1 222.8 494.9 222.1 495.4 221.7 496.1 222.1 496.6 223.7 497.2 224.5 498.0 221.9 498.7 222.6 499.2 210.3 499.8 199.5 500.3 210.5 501.0 223.0 501.7 223.6 502.2 221.6 502.7 224.5 503.4 222.3 504.0 218.8 504.5 223.8M488.6 225.7 489.1 225.2 489.8 224.4 490.5 222.0 491.1 221.6 491.6 222.7 492.3 223.2 493.0 222.4 493.5 220.9 493.9 223.1 494.4 221.9 494.9 220.9 495.6 221.0 496.3 221.3 496.8 217.4 497.4 221.7 498.0 222.3 498.7 215.3 499.4 223.6 500.0 208.7 500.7 213.6 501.3 220.2 501.8 219.0 502.5 223.1 503.3 220.8 503.9 222.3 504.5 217.4M488.6 225.6 489.4 225.7 489.9 220.6 490.4 214.6 491.1 214.8 491.7 223.6 492.3 224.3 492.9 223.9 493.7 224.7 494.3 224.4 494.8 222.3 495.4 222.9 496.0 220.0 496.8 221.3 497.4 217.7 497.9 219.4 498.6 223.7 499.1 225.0 499.6 222.0 500.2 222.6 500.8 219.9 501.3 222.4 501.8 224.3 502.2 223.7 502.7 224.6 503.1 221.8 503.8 224.3 504.5 223.5M488.6 225.8 489.0 225.7 489.6 221.4 490.0 221.6 490.6 223.5 491.0 225.0 491.5 224.9 492.3 223.1 492.8 217.8 493.3 223.0 493.8 223.8 494.6 223.6 495.0 223.8 495.8 224.6 496.2 220.8 496.7 217.4 497.2 222.9 497.9 214.6 498.3 221.6 498.7 222.9 499.3 224.0 499.8 220.0 500.2 220.4 500.9 222.5 501.6 223.8 502.1 217.8 502.7 202.9 503.5 209.9 504.3 221.6M488.6 226.1 489.2 225.1 489.7 222.9 490.4 218.4 490.8 218.6 491.5 220.4 492.3 215.8 493.0 212.9 493.5 212.4 494.3 217.9 494.9 209.6 495.5 221.0 496.2 222.7 496.8 220.8 497.5 216.1 498.1 214.8 498.8 211.2 499.4 219.4 499.9 208.7 500.4 215.1 500.9 218.7 501.4 218.6 502.0 217.3 502.7 204.0 503.3 214.5 503.9 217.6M488.6 225.3 489.0 225.3 489.6 221.1 490.2 223.3 490.7 224.4 491.4 224.8 492.0 222.4 492.6 224.5 493.3 224.5 493.9 218.6 494.6 223.7 495.0 217.2 495.5 221.1 496.2 216.8 496.7 209.2 497.3 215.0 498.0 223.4 498.7 219.6 499.3 211.4 499.8 189.9 500.4 220.3 500.8 221.9 501.5 209.2 502.1 223.1 502.9 222.6 503.6 224.3 504.3 221.4M488.6 225.6 489.3 224.5 490.0 222.2 490.7 222.4 491.2 222.2 491.8 220.3 492.4 222.0 493.1 219.3 493.5 220.9 494.1 219.3 494.8 225.3 495.4 222.9 495.8 218.0 496.3 215.8 497.0 220.9 497.8 223.1 498.5 222.7 499.1 220.0 499.6 219.8 500.2 222.2 500.8 219.6 501.3 223.2 501.7 223.7 502.3 220.6 502.9 222.9 503.4 217.2 503.8 223.8 504.4 219.5M488.6 225.3 489.1 223.4 489.5 221.7 490.3 223.1 491.0 225.2 491.7 222.4 492.4 224.5 492.8 224.2 493.5 225.1 494.2 224.9 494.8 224.0 495.3 223.5 495.7 223.5 496.2 223.0 496.9 220.0 497.7 221.4 498.2 224.0 499.0 219.3 499.7 215.6 500.4 222.9 500.8 222.2 501.5 221.1 502.0 221.2 502.8 221.5 503.3 216.8 503.9 217.9 504.5 220.9M488.6 224.9 489.4 222.9 490.0 218.9 490.5 221.7 491.2 225.1 491.6 220.0 492.4 219.5 493.1 213.0 493.5 219.3 494.0 224.0 494.6 219.2 495.1 220.8 495.6 223.4 496.1 222.6 496.5 211.6 497.1 220.3 497.6 211.4 498.2 223.1 498.7 224.9 499.3 222.8 499.7 221.6 500.2 220.9 500.7 220.2 501.3 216.4 502.1 224.9 502.5 218.3 503.1 215.8 503.6 224.8 504.2 222.7M488.6 223.7 489.1 223.7 489.8 224.9 490.4 223.8 490.8 222.3 491.3 223.7 491.8 220.9 492.3 210.7 493.0 220.0 493.7 220.8 494.2 222.2 494.7 221.9 495.2 225.0 495.9 224.7 496.5 221.5 497.1 224.0 497.5 219.0 498.0 220.2 498.5 220.2 499.1 222.3 499.6 218.0 500.2 223.4 500.9 205.3 501.6 211.1 502.2 223.8 502.9 204.0 503.7 193.4 504.2 210.0 504.7 208.1M488.6 226.0 489.1 225.6 489.8 225.5 490.2 224.7 490.8 223.2 491.4 224.9 491.8 223.0 492.4 220.8 493.1 222.7 493.7 219.6 494.4 222.2 495.0 223.4 495.7 215.5 496.4 223.3 496.9 222.7 497.5 220.1 498.0 217.0 498.6 223.6 499.1 224.8 499.7 219.3 500.3 224.0 500.8 221.6 501.2 221.3 501.9 222.8 502.6 223.2 503.2 221.4 503.9 223.3 504.6 223.6M488.6 225.2 489.2 225.0 489.8 219.2 490.2 224.4 491.0 219.6 491.4 222.8 491.8 225.5 492.5 221.6 493.2 224.0 493.9 223.0 494.5 212.5 495.0 221.0 495.7 221.4 496.1 220.3 496.6 222.6 497.2 224.3 497.8 223.7 498.3 225.2 498.9 219.9 499.7 223.3 500.1 222.9 500.7 222.2 501.3 222.2 501.9 222.9 502.6 201.8 503.3 213.8 503.8 205.7 504.3 221.5M488.6 225.5 489.1 224.4 489.7 224.8 490.4 223.4 490.9 220.4 491.6 206.8 492.0 212.3 492.7 217.5 493.5 224.1 494.0 222.9 494.5 224.1 495.1 222.8 495.6 223.0 496.1 218.2 496.5 218.4 496.9 220.8 497.6 212.2 498.1 198.3 498.7 220.2 499.1 220.0 499.6 219.4 500.2 223.2 500.9 206.6 501.5 210.2 502.1 221.2 502.7 216.9 503.2 215.9 503.9 220.3 504.6 221.3M488.6 224.9 489.4 225.2 490.1 223.1 490.8 224.9 491.4 217.3 492.0 221.9 492.6 223.6 493.3 221.6 494.0 221.4 494.5 221.5 495.1 216.0 495.6 219.1 496.1 213.6 496.7 216.8 497.3 190.7 498.0 208.0 498.5 222.8 498.9 217.9 499.4 217.6 500.1 207.9 500.8 217.1 501.3 217.1 501.8 213.3 502.5 214.1 503.1 219.2 503.9 212.2 504.6 218.3M488.6 225.7 489.1 225.2 489.9 225.5 490.6 223.7 491.3 220.7 492.1 221.7 492.5 222.3 493.2 212.2 493.8 220.6 494.4 224.6 495.0 221.0 495.7 223.2 496.5 219.2 497.2 219.9 497.7 219.1 498.2 220.2 498.8 218.5 499.4 216.9 500.1 221.6 500.7 223.8 501.4 223.6 501.9 220.9 502.5 218.2 503.0 221.1 503.5 199.6 504.1 217.3 504.7 202.1M488.6 223.2 489.3 223.3 490.0 223.1 490.4 225.1 490.9 224.4 491.6 224.5 492.1 218.9 492.7 223.8 493.1 225.0 493.6 224.3 494.2 221.8 494.9 219.7 495.6 218.4 496.2 218.8 497.0 212.9 497.5 223.3 498.1 222.5 498.7 222.6 499.3 221.1 499.9 219.2 500.3 222.7 500.8 217.3 501.4 215.7 502.0 222.4 502.7 220.5 503.4 222.3 504.1 219.9M488.6 225.2 489.1 224.2 489.6 225.5 490.1 225.8 490.8 225.4 491.4 225.0 492.1 218.3 492.7 222.7 493.2 218.0 493.8 217.1 494.3 222.5 494.9 221.8 495.4 214.3 496.0 223.3 496.7 221.7 497.4 223.2 498.0 223.1 498.4 224.7 498.9 225.2 499.4 220.5 500.1 217.5 500.6 218.3 501.2 223.2 501.8 207.8 502.6 222.4 503.2 212.4 503.9 221.6 504.5 222.3M488.6 225.3 489.4 223.2 490.0 214.5 490.5 222.6 491.1 222.3 491.6 220.5 492.2 222.0 492.9 221.1 493.5 210.9 494.1 222.8 494.6 219.3 495.2 220.6 495.8 225.0 496.4 220.8 497.2 216.0 497.7 219.3 498.2 220.2 498.7 223.3 499.5 222.4 500.1 219.1 500.6 221.9 501.3 211.2 501.8 218.4 502.5 224.5 503.0 222.8 503.7 216.8 504.3 220.4M488.6 225.6 489.3 225.8 490.0 223.5 490.7 223.4 491.4 224.5 492.2 218.5 492.7 223.2 493.4 225.1 494.1 217.3 494.6 218.3 495.2 223.3 495.9 218.9 496.4 224.6 497.1 223.0 497.7 225.2 498.1 225.4 498.7 223.1 499.4 222.6 500.0 218.8 500.6 210.7 501.3 219.3 502.1 224.5 502.8 221.6 503.5 220.9 504.0 223.9 504.5 212.7M488.6 225.6 489.3 225.0 489.9 222.7 490.4 223.9 491.0 219.4 491.6 224.1 492.1 222.2 492.8 220.1 493.3 223.5 493.7 220.1 494.4 223.7 495.2 207.2 495.8 223.4 496.3 224.1 497.0 224.4 497.7 224.1 498.3 220.6 498.9 223.7 499.4 222.9 499.9 217.7 500.5 222.5 501.1 223.1 501.8 219.3 502.2 220.7 502.9 219.8 503.4 224.5 503.9 224.7 504.4 217.3M488.6 223.9 489.1 222.8 489.8 224.3 490.6 223.2 491.2 223.8 491.7 224.3 492.3 199.6 492.9 221.2 493.5 220.9 494.1 221.5 494.7 215.6 495.4 221.2 496.0 211.7 496.6 223.8 497.1 208.1 497.7 211.4 498.5 207.5 499.2 209.5 499.7 223.4 500.4 221.6 500.9 222.2 501.5 217.2 501.9 208.0 502.6 219.4 503.3 211.8 503.8 213.2 504.3 215.3M488.6 225.8 489.0 224.6 489.7 224.4 490.4 218.0 490.9 220.1 491.6 221.3 492.3 224.3 492.9 219.4 493.5 218.3 493.9 223.1 494.5 221.9 495.1 222.0 495.6 217.6 496.3 215.6 496.8 225.4 497.4 224.6 498.0 218.5 498.5 224.9 499.0 220.5 499.7 218.3 500.4 220.2 501.0 223.0 501.5 221.6 502.1 223.0 502.5 223.9 503.2 223.0 503.7 221.2 504.5 222.7M488.6 225.6 489.1 224.4 489.8 224.1 490.2 212.6 490.9 220.9 491.6 222.2 492.3 220.4 493.0 221.8 493.7 213.2 494.1 216.7 494.8 220.6 495.3 224.6 495.8 222.1 496.3 223.3 496.9 220.1 497.7 217.2 498.3 223.4 498.9 222.4 499.4 211.6 500.2 217.3 500.8 224.0 501.4 224.5 501.8 220.6 502.4 224.4 502.9 217.3 503.6 196.0 504.1 220.5 504.7 215.0M488.6 222.9 489.1 223.4 489.8 224.1 490.4 221.1 490.9 224.1 491.6 223.2 492.1 223.2 492.5 224.4 493.2 220.9 493.9 224.1 494.6 221.9 495.3 216.0 495.9 221.9 496.4 219.8 496.9 217.6 497.6 213.8 498.3 214.1 499.1 209.5 499.6 223.1 500.2 201.7 500.8 205.6 501.2 207.7 501.9 222.5 502.4 214.4 502.9 215.5 503.5 220.3 504.2 223.1M488.6 226.0 489.1 224.9 489.8 222.7 490.6 220.6 491.2 218.3 491.6 219.7 492.3 209.5 492.9 224.3 493.6 224.9 494.2 221.3 494.8 223.1 495.2 218.3 495.9 222.7 496.6 223.2 497.2 224.3 497.7 221.8 498.1 219.9 498.8 222.8 499.4 220.6 499.8 224.8 500.3 223.4 500.7 221.2 501.3 206.1 502.0 207.8 502.4 222.7 502.9 223.9 503.3 220.8 503.8 209.8 504.3 219.9M505.0 224.8 506.1 225.2 507.6 225.0 508.9 225.0 510.0 225.5 511.3 225.0 512.4 222.9 513.7 223.9 514.6 225.2 515.5 225.1 516.5 224.1 517.6 224.3 518.6 224.8 519.7 223.5 521.0 222.7 522.5 224.0 523.7 223.1 525.1 224.8 526.7 224.2 527.8 223.1 528.9 223.1 530.2 221.2 531.1 223.1 532.0 223.0 533.0 224.3 534.3 224.6 535.3 223.6 536.7 222.5 538.2 224.7 539.2 225.1 540.1 224.5 541.3 223.8 542.3 222.5 543.3 223.2 544.5 222.3 545.5 224.7 547.0 225.1 547.9 225.4 548.9 225.3 550.4 225.2 551.8 225.4 552.8 225.1 554.3 224.8 555.8 225.0 557.3 225.4 558.6 224.6 559.7 223.3 561.2 222.5 562.2 223.4 563.7 224.5 564.8 224.9 566.0 224.1 566.9 225.1 568.0 224.2 569.2 224.8 570.2 224.7 571.3 225.1 572.5 225.7 573.9 225.8 575.1 225.6 576.2 225.9 577.1 225.3 578.1 225.6 579.3 225.7 580.3 225.5 581.6 225.5 582.8 225.4 583.8 225.2 584.7 225.5 586.2 225.7 587.7 225.6 588.8 225.8 590.1 225.5 591.0 225.1M505.0 225.3 505.9 225.2 507.1 225.3 508.5 224.8 509.5 224.5 511.0 225.2 512.4 225.2 513.9 224.5 515.5 224.6 517.0 224.6 518.4 224.6 519.4 223.6 520.9 223.8 521.8 225.3 523.0 225.3 524.5 224.9 525.5 224.9 526.9 224.5 528.2 223.7 529.1 225.1 530.6 223.9 531.8 223.8 532.7 224.0 534.0 224.4 535.3 225.2 536.9 225.2 538.1 224.3 539.1 224.0 540.3 222.7 541.8 224.3 543.2 223.9 544.6 225.6 545.9 225.8 547.1 225.9 548.3 224.8 549.7 224.0 550.9 224.5 552.3 224.7 553.7 223.9 555.1 224.7 556.0 225.4 557.0 225.3 558.3 225.3 559.8 225.1 560.7 224.2 562.3 225.2 563.3 225.8 564.2 225.8 565.6 226.0 567.1 225.7 568.7 225.2 570.0 224.8 570.9 225.1 572.3 225.2 573.7 225.8 575.2 225.1 576.3 225.5 577.5 225.1 578.6 225.0 579.7 225.1 580.8 225.4 581.9 225.6 583.2 225.1 584.6 225.2 586.1 225.8 587.6 225.8 588.7 225.8 589.9 225.8 591.5 225.8M505.0 224.5 506.3 224.9 507.5 224.7 508.4 224.7 509.4 224.4 510.6 225.0 512.0 223.4 513.5 224.3 514.7 225.0 515.6 224.7 516.8 223.8 517.9 224.1 518.7 225.0 520.0 225.1 521.5 224.5 522.7 225.0 524.3 224.4 525.3 224.6 526.3 223.8 527.3 224.5 528.7 224.2 530.0 224.9 531.1 224.0 532.6 225.5 533.6 225.0 534.9 224.9 536.2 225.7 537.3 225.5 538.6 225.8 539.8 225.5 541.0 225.8 542.1 224.8 543.0 222.8 544.4 225.1 545.5 225.2 546.4 225.4 547.5 225.2 548.9 224.5 550.1 225.5 551.2 225.0 552.2 224.7 553.1 225.3 554.4 224.3 555.5 224.2 556.8 224.6 558.3 225.5 559.4 225.2 560.9 224.3 562.2 224.2 563.2 223.9 564.4 224.2 565.9 225.0 567.2 225.4 568.4 225.5 569.9 225.8 571.3 226.0 572.8 225.9 573.7 225.5 574.6 225.6 575.6 225.8 576.7 225.7 577.9 225.3 579.4 226.0 580.8 225.9 582.1 225.9 583.3 225.8 584.4 225.4 585.3 225.5 586.5 225.7 587.9 225.6 589.1 225.8 590.0 225.3 591.2 225.6M505.0 222.4 506.3 221.9 507.5 224.1 508.7 224.6 509.7 223.5 511.2 224.4 512.7 224.3 514.1 223.5 515.6 221.1 516.9 222.9 518.2 223.4 519.4 222.4 520.9 224.2 522.2 224.9 523.3 225.7 524.9 225.6 526.3 225.4 527.7 225.1 528.7 224.1 530.1 224.4 531.1 225.3 532.0 225.5 533.0 225.3 534.5 225.4 535.9 225.5 536.9 225.2 538.1 225.2 539.4 225.7 541.0 224.6 542.3 224.5 543.7 224.1 544.8 225.0 545.9 224.3 546.8 224.8 547.9 224.2 548.8 224.0 549.7 225.4 551.1 225.4 552.5 225.8 553.6 225.8 555.0 224.8 556.2 225.5 557.1 225.1 558.0 225.5 559.4 225.6 560.3 225.4 561.4 225.4 562.2 224.9 563.6 224.1 565.1 223.2 566.1 225.1 567.3 224.8 568.3 224.0 569.8 224.1 571.3 225.4 572.4 224.8 573.8 225.3 575.1 225.4 576.6 225.4 577.9 225.2 579.1 224.6 580.6 225.0 582.1 225.0 583.6 224.8 584.5 224.2 586.0 225.1 587.2 225.1 588.7 225.3 590.0 225.5 591.1 224.7M505.0 225.8 506.1 225.9 507.0 225.9 508.4 225.9 509.8 225.7 511.2 225.2 512.5 222.5 513.9 224.4 515.0 224.7 516.4 224.5 517.8 225.1 518.8 225.4 520.1 224.5 521.1 223.6 522.5 224.6 524.0 224.4 525.1 225.3 526.2 224.2 527.8 225.7 529.0 225.7 530.4 225.1 531.4 225.3 532.4 225.4 533.6 224.4 534.9 225.3 535.9 225.5 537.4 225.4 538.3 225.6 539.5 225.4 540.8 225.4 542.3 225.4 543.4 225.7 544.4 225.4 545.4 224.6 546.8 223.8 547.9 224.5 549.3 225.0 550.7 224.6 551.6 225.4 552.9 225.7 554.3 225.5 555.6 225.7 557.1 225.6 558.3 225.6 559.6 225.2 560.7 225.8 562.0 225.6 563.2 225.7 564.7 225.8 566.3 225.5 567.2 225.8 568.3 225.8 569.6 224.9 570.9 226.0 572.1 226.1 573.1 225.9 574.4 225.8 575.7 225.3 577.2 225.6 578.6 225.7 579.6 225.8 580.7 225.8 582.0 225.7 583.5 226.0 584.6 226.0 585.7 225.9 587.0 225.9 588.4 226.0 589.8 225.6 591.2 225.9M505.0 223.9 506.0 223.1 507.2 224.6 508.5 225.0 509.7 224.7 511.1 222.5 512.5 224.7 513.3 224.4 514.8 224.5 515.9 225.0 517.3 224.6 518.7 223.9 520.3 224.4 521.4 225.2 522.4 225.1 523.6 225.0 524.5 224.3 525.7 222.8 527.0 222.8 528.4 224.4 529.9 222.6 531.2 223.6 532.4 221.0 533.5 223.3 534.6 222.9 536.1 223.5 537.0 222.7 538.0 224.5 539.0 224.3 540.5 224.2 541.4 224.4 542.2 224.8 543.6 224.3 544.7 223.7 546.2 223.4 547.4 223.0 548.3 221.8 549.3 223.4 550.5 225.1 551.7 224.3 552.8 224.1 553.8 224.5 554.8 225.1 555.9 225.5 557.2 225.4 558.4 225.6 559.2 225.2 560.7 225.3 562.1 224.2 563.5 224.9 564.6 225.7 565.9 224.5 567.5 222.1 568.6 223.9 569.9 224.7 571.2 224.7 572.7 224.8 573.5 225.6 574.5 225.2 575.6 225.1 576.5 225.5 577.7 225.5 579.2 225.1 580.2 225.1 581.7 225.5 583.0 225.0 584.0 223.8 585.0 223.2 585.9 225.4 587.4 225.7 588.2 225.6 589.7 224.9 590.9 224.5 591.9 223.6M505.0 224.0 505.9 225.4 507.2 225.3 508.7 225.3 509.8 224.3 511.1 224.6 512.3 225.0 513.6 224.8 515.0 224.1 516.5 223.7 517.5 222.4 518.3 222.8 519.9 223.3 521.4 223.3 522.8 222.8 524.2 223.2 525.3 224.1 526.6 224.8 527.7 224.4 528.8 223.2 529.9 224.6 531.2 225.1 532.6 224.2 533.7 224.8 534.6 223.6 535.6 223.9 536.8 223.2 537.8 223.4 539.0 222.4 539.9 223.3 541.0 224.2 542.0 224.8 542.9 224.9 543.7 225.1 545.0 225.0 546.3 225.3 547.2 225.5 548.8 225.4 550.1 225.3 551.0 225.4 552.4 224.7 553.7 224.7 555.2 225.2 556.3 225.0 557.3 225.3 558.2 224.9 559.5 225.5 560.7 225.8 562.0 225.5 562.8 225.6 564.2 224.6 565.7 225.0 566.9 224.9 568.1 225.8 569.5 225.7 570.6 225.8 571.6 225.8 572.8 225.6 573.9 225.7 575.0 225.7 575.9 225.8 576.9 225.2 578.0 225.3 578.9 225.2 580.2 225.3 581.4 225.6 582.9 225.6 584.2 225.4 585.3 225.2 586.8 225.2 587.8 225.2 588.9 225.1 590.2 225.5 591.4 225.7M505.0 224.9 506.2 224.1 507.5 223.8 509.0 223.3 510.3 223.5 511.6 224.0 512.8 224.4 514.1 225.4 515.0 225.3 516.0 225.4 517.5 224.9 519.0 224.9 520.4 225.5 521.8 225.4 523.2 224.8 524.8 225.3 526.1 225.9 527.4 224.7 528.7 224.0 529.8 224.5 530.7 224.0 532.0 225.2 533.3 226.0 534.8 225.6 535.7 225.8 537.0 225.6 538.1 225.1 539.3 225.1 540.7 225.4 542.2 225.4 543.5 225.1 544.4 224.0 545.5 222.7 547.0 223.6 548.2 224.5 549.3 224.7 550.5 224.7 551.6 224.6 552.7 223.8 553.7 224.0 554.9 224.4 555.9 224.8 556.8 225.5 557.6 225.7 559.0 224.9 560.1 224.4 561.4 225.0 562.8 224.6 563.7 225.5 564.7 225.6 566.2 225.3 567.4 225.4 568.4 225.1 569.7 224.9 571.1 225.2 572.0 225.0 573.4 225.5 574.6 224.3 575.6 224.8 576.5 225.7 577.7 225.1 579.1 225.5 580.0 225.3 581.0 225.0 582.5 225.4 583.3 225.7 584.3 225.9 585.8 226.0 586.9 225.9 587.9 226.1 589.2 226.0 590.5 225.8 591.5 225.7" stroke="#F1B9BD" stroke-width="0.5" fill="none" stroke-linejoin="round"/></g>
<polyline points="407.3,134.0 408.2,142.0 409.2,150.0 410.4,158.7 411.5,167.0 412.7,175.0 414.0,182.0 415.2,188.0 416.1,192.3 417.5,196.5 419.0,200.5 420.5,204.0 421.3,205.5 421.8,226.5 422.7,225.9 425.3,224.0 427.8,222.7 430.4,221.4 433.0,220.1 434.9,219.5 436.2,220.5 437.5,220.5 438.3,226.9 439.4,224.4 440.6,223.6 443.2,222.7 445.8,221.8 448.3,221.2 450.9,220.8 453.5,220.1 454.2,219.8 455.0,226.5 456.0,224.6 458.6,223.1 461.2,221.4 463.7,219.7 465.0,219.2 468.3,217.8 469.8,219.3 471.2,225.9 474.1,224.1 478.4,223.0 482.7,222.1 485.6,221.6 487.0,222.1 488.5,225.9 490.5,224.1 495.7,223.6 501.5,223.0 503.8,223.0 504.9,226.3 683.5,226.3" fill="none" stroke="#000" stroke-width="1.5" stroke-linejoin="round"/>
<line x1="407.5" x2="683.5" y1="168.5" y2="168.5" stroke="#18BDF0" stroke-width="2" stroke-dasharray="5 1.5 2.5 1.5"/>
<line x1="407.5" x2="683.5" y1="214.2" y2="214.2" stroke="#18BDF0" stroke-width="2" stroke-dasharray="5 1.5 2.5 1.5"/>
<line x1="637.5" x2="637.5" y1="0" y2="227" stroke="#18BDF0" stroke-width="1.6" stroke-dasharray="5 1.5 2.5 1.5"/>
<path d="M407.5,0 V226.8" fill="none" stroke="#222" stroke-width="1.1"/><path d="M407,226.8 H683.5 M683.5,227.5 V221.5" fill="none" stroke="#222" stroke-width="1.5"/>
<path d="M453.5,227 v-5.5 M499.5,227 v-5.5 M545.5,227 v-5.5 M591.5,227 v-5.5 M637.5,227 v-5.5 M407.5,155.8 h3 M407.5,84.7 h3 M407.5,13.5 h3 " stroke="#333" stroke-width="0.9"/>
<text transform="translate(25.7,246.8) scale(0.580,1)" text-anchor="middle" font-size="14" font-weight="bold" fill="#000">0</text>
<text transform="translate(406.7,246.8) scale(0.580,1)" text-anchor="middle" font-size="14" font-weight="bold" fill="#000">0</text>
<text transform="translate(70.9,246.8) scale(0.580,1)" text-anchor="middle" font-size="14" font-weight="bold" fill="#000">0.5</text>
<text transform="translate(451.7,246.8) scale(0.580,1)" text-anchor="middle" font-size="14" font-weight="bold" fill="#000">0.5</text>
<text transform="translate(118.0,246.8) scale(0.580,1)" text-anchor="middle" font-size="14" font-weight="bold" fill="#000">1</text>
<text transform="translate(498.7,246.8) scale(0.580,1)" text-anchor="middle" font-size="14" font-weight="bold" fill="#000">1</text>
<text transform="translate(163.2,246.8) scale(0.580,1)" text-anchor="middle" font-size="14" font-weight="bold" fill="#000">1.5</text>
<text transform="translate(543.7,246.8) scale(0.580,1)" text-anchor="middle" font-size="14" font-weight="bold" fill="#000">1.5</text>
<text transform="translate(210.4,246.8) scale(0.580,1)" text-anchor="middle" font-size="14" font-weight="bold" fill="#000">2</text>
<text transform="translate(590.7,246.8) scale(0.580,1)" text-anchor="middle" font-size="14" font-weight="bold" fill="#000">2</text>
<text transform="translate(255.5,246.8) scale(0.580,1)" text-anchor="middle" font-size="14" font-weight="bold" fill="#000">2.5</text>
<text transform="translate(635.7,246.8) scale(0.580,1)" text-anchor="middle" font-size="14" font-weight="bold" fill="#000">2.5</text>
<text transform="translate(302.7,246.8) scale(0.580,1)" text-anchor="middle" font-size="14" font-weight="bold" fill="#000">3</text>
<text transform="translate(682.7,246.8) scale(0.580,1)" text-anchor="middle" font-size="14" font-weight="bold" fill="#000">3</text>
<text transform="translate(22.5,232.0) scale(0.580,1)" text-anchor="end" font-size="14" font-weight="bold" fill="#000">0</text>
<text transform="translate(22.5,167.7) scale(0.580,1)" text-anchor="end" font-size="14" font-weight="bold" fill="#000">20</text>
<text transform="translate(22.5,103.3) scale(0.580,1)" text-anchor="end" font-size="14" font-weight="bold" fill="#000">40</text>
<text transform="translate(22.5,39.0) scale(0.580,1)" text-anchor="end" font-size="14" font-weight="bold" fill="#000">60</text>
<text transform="translate(403.0,232.3) scale(0.580,1)" text-anchor="end" font-size="14" font-weight="bold" fill="#000">0</text>
<text transform="translate(401.7,161.1) scale(0.580,1)" text-anchor="end" font-size="14" font-weight="bold" fill="#000">0.5</text>
<text transform="translate(403.0,90.0) scale(0.580,1)" text-anchor="end" font-size="14" font-weight="bold" fill="#000">1</text>
<text transform="translate(401.7,18.8) scale(0.580,1)" text-anchor="end" font-size="14" font-weight="bold" fill="#000">1.5</text>
<text transform="translate(158.5,269.5) scale(0.535,1)" text-anchor="middle" font-size="15.5" font-weight="bold" fill="#000">Time t (sec)</text>
<text transform="translate(539.0,269.5) scale(0.535,1)" text-anchor="middle" font-size="15.5" font-weight="bold" fill="#000">Time t (sec)</text>
<g transform="translate(9.3,190) rotate(-90) scale(1,0.560)" font-weight="bold"><text x="-0.5" y="0" font-size="15.5" textLength="40.5" lengthAdjust="spacingAndGlyphs">lle(t)ll</text><text x="55" y="-7.6" font-size="13.5">2</text><text x="63.8" y="0" font-size="15.5">,</text><text x="74.6" y="0" font-size="15.5" textLength="52" lengthAdjust="spacingAndGlyphs">Elle(t)ll</text><text x="143.6" y="-7.6" font-size="13.5">2</text></g>
<g transform="translate(388.3,190) rotate(-90) scale(1,0.560)" font-weight="bold"><text x="-0.5" y="0" font-size="15.5" textLength="40.5" lengthAdjust="spacingAndGlyphs">lle(t)ll</text><text x="55" y="-7.6" font-size="13.5">2</text><text x="63.8" y="0" font-size="15.5">,</text><text x="74.6" y="0" font-size="15.5" textLength="52" lengthAdjust="spacingAndGlyphs">Elle(t)ll</text><text x="143.6" y="-7.6" font-size="13.5">2</text></g>
<rect x="33.5" y="5.5" width="42.0" height="47.0" fill="#fff" stroke="#1a1a1a" stroke-width="1"/><line x1="34.5" x2="40.5" y1="17.5" y2="17.5" stroke="#F0B0B0" stroke-width="1"/><line x1="34.5" x2="41.5" y1="40.0" y2="40.0" stroke="#000" stroke-width="1.5"/><text transform="translate(42.0,23.9) scale(0.660,1)" text-anchor="start" font-size="11" font-weight="bold" fill="#111">lle(t)ll</text><text transform="translate(65.2,17.9) scale(0.800,1)" text-anchor="start" font-size="9" font-weight="bold" fill="#000">2</text><text transform="translate(42.0,45.9) scale(0.660,1)" text-anchor="start" font-size="11" font-weight="bold" fill="#000">Elle(t)ll</text><text transform="translate(70.5,40.0) scale(0.800,1)" text-anchor="start" font-size="9" font-weight="bold" fill="#000">2</text>
<rect x="640.5" y="4.5" width="42.0" height="47.0" fill="#fff" stroke="#1a1a1a" stroke-width="1"/><line x1="641.5" x2="647.5" y1="16.5" y2="16.5" stroke="#F0B0B0" stroke-width="1"/><line x1="641.5" x2="648.5" y1="39.0" y2="39.0" stroke="#000" stroke-width="1.5"/><text transform="translate(649.0,22.9) scale(0.660,1)" text-anchor="start" font-size="11" font-weight="bold" fill="#111">lle(t)ll</text><text transform="translate(672.2,16.9) scale(0.800,1)" text-anchor="start" font-size="9" font-weight="bold" fill="#000">2</text><text transform="translate(649.0,44.9) scale(0.660,1)" text-anchor="start" font-size="11" font-weight="bold" fill="#000">Elle(t)ll</text><text transform="translate(677.5,39.0) scale(0.800,1)" text-anchor="start" font-size="9" font-weight="bold" fill="#000">2</text>
<rect x="506.6" y="13.3" width="82.7" height="24.1" fill="#fff" stroke="#111" stroke-width="1.3"/>
<text class="s" transform="translate(508.4,32) scale(0.54,1)" font-size="20.5" stroke="#000" stroke-width="0.4">H=0.75,</text>
<text class="s" transform="translate(546.2,32) scale(0.6,1)" font-size="20.5" font-style="italic">β</text>
<text class="s" transform="translate(555.8,32) scale(0.54,1)" font-size="20.5" font-weight="bold">=</text>
<text class="s" transform="translate(566,32) scale(0.54,1)" font-size="20.5" font-weight="bold">0.95</text>
<text class="s" transform="translate(491.5,144.5) scale(0.607,1)" font-size="15" fill="#0000ff" stroke="#0000ff" stroke-width="0.5">h<tspan font-size="10" dy="2.5">1</tspan><tspan dy="-2.5"> = 0.4</tspan></text>
<text class="s" transform="translate(562.8,191.6) scale(0.6,1)" font-size="15" fill="#0000ff" stroke="#0000ff" stroke-width="0.5">h<tspan font-size="10" dy="2.5">3</tspan><tspan dy="-2.5"> = 0.1</tspan></text>
<line x1="520.4" y1="149.5" x2="532" y2="164" stroke="#0000ff" stroke-width="1.8"/>
<polygon points="534.5,167 528.5,163.5 532.8,160.2" fill="#0000ff"/>
<line x1="562.8" y1="197.5" x2="552" y2="210.5" stroke="#0000ff" stroke-width="1.8"/>
<polygon points="549.5,213.8 551,207.6 555.2,210.8" fill="#0000ff"/>
<line x1="641" y1="122.7" x2="652.4" y2="122.7" stroke="#0000ff" stroke-width="1.8"/>
<polygon points="638,122.7 643,119.7 643,125.7" fill="#0000ff"/>
<text transform="translate(653.0,128.5) scale(0.510,1)" text-anchor="start" font-size="14" font-weight="bold" fill="#1a1aff">T=2.5</text>
<text class="s" x="74.5" y="307" font-size="21.3" font-weight="bold">(a)</text><text class="s" x="107" y="307" font-size="21.4">Without control</text>
<text class="s" x="467.5" y="307" font-size="21.3" font-weight="bold">(b)</text><text class="s" x="502.5" y="307" font-size="21.2">With control</text>
</svg></body></html>
